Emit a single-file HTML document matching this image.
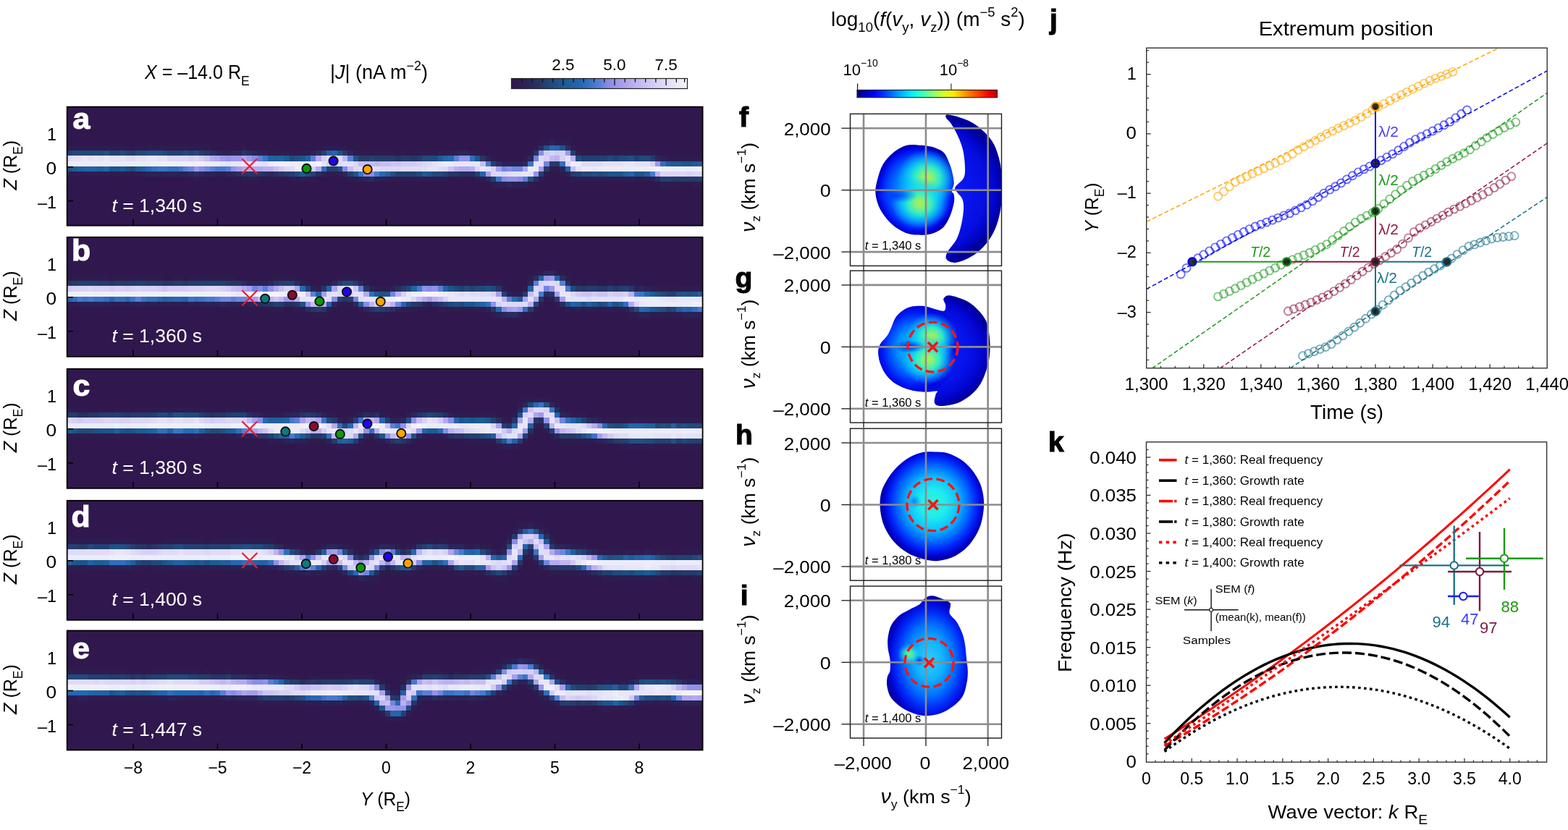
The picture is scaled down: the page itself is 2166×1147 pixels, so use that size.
<!DOCTYPE html><html><head><meta charset="utf-8"><style>html,body{margin:0;padding:0;background:#fff}svg{display:block}text{font-family:"Liberation Sans", Arial, sans-serif}</style></head><body><svg width="2166" height="1147" viewBox="0 0 2166 1147"><defs><filter id="soft" x="-1%" y="-10%" width="102%" height="120%"><feGaussianBlur stdDeviation="0.75"/></filter><linearGradient id="gJ" x1="0" x2="1" y1="0" y2="0"><stop offset="0" stop-color="#30184e"/><stop offset="0.05" stop-color="#2d1e53"/><stop offset="0.1" stop-color="#2a265a"/><stop offset="0.15" stop-color="#273465"/><stop offset="0.2" stop-color="#244173"/><stop offset="0.25" stop-color="#214f83"/><stop offset="0.3" stop-color="#1e5c94"/><stop offset="0.35" stop-color="#2262a4"/><stop offset="0.4" stop-color="#2668b4"/><stop offset="0.45" stop-color="#3b73c6"/><stop offset="0.5" stop-color="#5a7fd6"/><stop offset="0.55" stop-color="#878ce6"/><stop offset="0.6" stop-color="#9d97ea"/><stop offset="0.65" stop-color="#aea4ee"/><stop offset="0.7" stop-color="#bbb1f1"/><stop offset="0.75" stop-color="#c7bef3"/><stop offset="0.8" stop-color="#d2cbf5"/><stop offset="0.85" stop-color="#dbd7f7"/><stop offset="0.9" stop-color="#e4e2f8"/><stop offset="0.95" stop-color="#ecebf8"/><stop offset="1" stop-color="#f4f3f8"/></linearGradient><clipPath id="cp0"><rect x="92" y="147.7" width="879" height="164"/></clipPath><clipPath id="cp1"><rect x="92" y="327.8" width="879" height="165"/></clipPath><clipPath id="cp2"><rect x="92" y="509.8" width="879" height="165"/></clipPath><clipPath id="cp3"><rect x="92" y="691.8" width="879" height="165"/></clipPath><clipPath id="cp4"><rect x="92" y="871.5" width="879" height="165"/></clipPath><linearGradient id="gjet" x1="0" x2="1" y1="0" y2="0"><stop offset="0" stop-color="#00007f"/><stop offset="0.06" stop-color="#0000bb"/><stop offset="0.12" stop-color="#0000f7"/><stop offset="0.19" stop-color="#0034ff"/><stop offset="0.25" stop-color="#0070ff"/><stop offset="0.31" stop-color="#00acff"/><stop offset="0.38" stop-color="#00e8ff"/><stop offset="0.44" stop-color="#24ffda"/><stop offset="0.5" stop-color="#60ff9e"/><stop offset="0.56" stop-color="#9cff62"/><stop offset="0.62" stop-color="#d8ff26"/><stop offset="0.69" stop-color="#ffe900"/><stop offset="0.75" stop-color="#ffad00"/><stop offset="0.81" stop-color="#ff7100"/><stop offset="0.88" stop-color="#ff3500"/><stop offset="0.94" stop-color="#f80000"/><stop offset="1" stop-color="#bc0000"/></linearGradient><radialGradient id="rf" gradientUnits="userSpaceOnUse" cx="0" cy="0" r="1" gradientTransform="translate(1266 263) scale(57 63)"><stop offset="0" stop-color="#00a8ff"/><stop offset="0.45" stop-color="#0088ff"/><stop offset="0.7" stop-color="#0048ff"/><stop offset="0.86" stop-color="#0014f4"/><stop offset="0.95" stop-color="#0000d0"/><stop offset="1" stop-color="#0000b0"/></radialGradient><radialGradient id="rf_h1" gradientUnits="userSpaceOnUse" cx="0" cy="0" r="1" gradientTransform="translate(1281 246) scale(42 40)"><stop offset="0" stop-color="#b0f048"/><stop offset="0.2" stop-color="#80f080"/><stop offset="0.42" stop-color="#30f0c8" stop-opacity="0.95"/><stop offset="0.68" stop-color="#10d8f8" stop-opacity="0.6"/><stop offset="1" stop-color="#10b8ff" stop-opacity="0"/></radialGradient><radialGradient id="rf_h2" gradientUnits="userSpaceOnUse" cx="0" cy="0" r="1" gradientTransform="translate(1271 281) scale(40 36)"><stop offset="0" stop-color="#b0f048"/><stop offset="0.2" stop-color="#80f080"/><stop offset="0.42" stop-color="#30f0c8" stop-opacity="0.95"/><stop offset="0.68" stop-color="#10d8f8" stop-opacity="0.6"/><stop offset="1" stop-color="#10b8ff" stop-opacity="0"/></radialGradient><radialGradient id="rf_w" gradientUnits="userSpaceOnUse" cx="0" cy="0" r="1" gradientTransform="translate(1238 270) scale(30 11)"><stop offset="0" stop-color="#0030ff" stop-opacity="0.85"/><stop offset="1" stop-color="#0040ff" stop-opacity="0"/></radialGradient><radialGradient id="rfc" gradientUnits="userSpaceOnUse" cx="0" cy="0" r="1" gradientTransform="translate(1268 262) scale(118 106)"><stop offset="0" stop-color="#1028f4"/><stop offset="0.6" stop-color="#0814ec"/><stop offset="0.8" stop-color="#060ee0"/><stop offset="0.92" stop-color="#0004c8"/><stop offset="1" stop-color="#00009a"/></radialGradient><radialGradient id="rgc" gradientUnits="userSpaceOnUse" cx="0" cy="0" r="1" gradientTransform="translate(1282 484) scale(88 80)"><stop offset="0" stop-color="#0c24f4"/><stop offset="0.6" stop-color="#0614ec"/><stop offset="0.8" stop-color="#0408d8"/><stop offset="0.93" stop-color="#0000bc"/><stop offset="1" stop-color="#00009a"/></radialGradient><radialGradient id="rg" gradientUnits="userSpaceOnUse" cx="0" cy="0" r="1" gradientTransform="translate(1264 482) scale(54 60)"><stop offset="0" stop-color="#00b8ff"/><stop offset="0.42" stop-color="#0098ff"/><stop offset="0.66" stop-color="#0050ff"/><stop offset="0.84" stop-color="#0018f4"/><stop offset="0.95" stop-color="#0008e0"/><stop offset="1" stop-color="#0004d8" stop-opacity="0.5"/></radialGradient><radialGradient id="rg_h1" gradientUnits="userSpaceOnUse" cx="0" cy="0" r="1" gradientTransform="translate(1287 466) scale(36 34)"><stop offset="0" stop-color="#b0f048"/><stop offset="0.2" stop-color="#80f080"/><stop offset="0.42" stop-color="#30f0c8" stop-opacity="0.95"/><stop offset="0.68" stop-color="#10d8f8" stop-opacity="0.6"/><stop offset="1" stop-color="#10b8ff" stop-opacity="0"/></radialGradient><radialGradient id="rg_h2" gradientUnits="userSpaceOnUse" cx="0" cy="0" r="1" gradientTransform="translate(1282 497) scale(38 34)"><stop offset="0" stop-color="#b0f048"/><stop offset="0.2" stop-color="#80f080"/><stop offset="0.42" stop-color="#30f0c8" stop-opacity="0.95"/><stop offset="0.68" stop-color="#10d8f8" stop-opacity="0.6"/><stop offset="1" stop-color="#10b8ff" stop-opacity="0"/></radialGradient><radialGradient id="rg_w" gradientUnits="userSpaceOnUse" cx="0" cy="0" r="1" gradientTransform="translate(1256 479) scale(22 9)"><stop offset="0" stop-color="#0008e0" stop-opacity="0.95"/><stop offset="1" stop-color="#0020ff" stop-opacity="0"/></radialGradient><radialGradient id="rh" gradientUnits="userSpaceOnUse" cx="0" cy="0" r="1" gradientTransform="translate(1289 696) scale(72 77)"><stop offset="0" stop-color="#30f4d8"/><stop offset="0.25" stop-color="#20ecec"/><stop offset="0.46" stop-color="#10c4ff"/><stop offset="0.66" stop-color="#0074ff"/><stop offset="0.83" stop-color="#0026f8"/><stop offset="0.93" stop-color="#0006d8"/><stop offset="1" stop-color="#0000a8"/></radialGradient><radialGradient id="rh2" gradientUnits="userSpaceOnUse" cx="0" cy="0" r="1" gradientTransform="translate(1263 693) scale(10 10)"><stop offset="0" stop-color="#1070f0" stop-opacity="0.85"/><stop offset="1" stop-color="#10a0ff" stop-opacity="0"/></radialGradient><radialGradient id="ri" gradientUnits="userSpaceOnUse" cx="0" cy="0" r="1" gradientTransform="translate(1284 912) scale(62 88)"><stop offset="0" stop-color="#28d0ff"/><stop offset="0.3" stop-color="#14b4ff"/><stop offset="0.55" stop-color="#0074ff"/><stop offset="0.75" stop-color="#002cf8"/><stop offset="0.9" stop-color="#0006d8"/><stop offset="1" stop-color="#0000a0"/></radialGradient><radialGradient id="ri2" gradientUnits="userSpaceOnUse" cx="0" cy="0" r="1" gradientTransform="translate(1256 904) scale(16 15)"><stop offset="0" stop-color="#70f088"/><stop offset="0.35" stop-color="#40f0b0" stop-opacity="0.9"/><stop offset="1" stop-color="#20c0ff" stop-opacity="0"/></radialGradient><radialGradient id="ri3" gradientUnits="userSpaceOnUse" cx="0" cy="0" r="1" gradientTransform="translate(1270 913) scale(8 8)"><stop offset="0" stop-color="#0028d8" stop-opacity="0.85"/><stop offset="1" stop-color="#0060ff" stop-opacity="0"/></radialGradient><clipPath id="clipm0"><rect x="1174.5" y="157.4" width="209" height="210"/></clipPath><clipPath id="cf"><path d="M1252.5 200.8C1258.9 199.03 1266.92 200.63 1271.7 200.8C1276.48 200.97 1277.68 201.15 1281.2 201.8C1284.72 202.45 1288.95 203.1 1292.8 204.7C1296.65 206.3 1301.12 207.73 1304.3 211.4C1307.48 215.07 1309.98 221.9 1311.9 226.7C1313.82 231.5 1314.83 235.72 1315.8 240.2C1316.77 244.68 1317.87 249.62 1317.7 253.6C1317.53 257.58 1314.8 261.55 1314.8 264.1C1314.8 266.65 1317.22 266.18 1317.7 268.9C1318.18 271.62 1318.67 275.28 1317.7 280.4C1316.73 285.52 1314.47 293.83 1311.9 299.6C1309.33 305.37 1306.77 311 1302.3 315C1297.83 319 1290.85 322 1285.1 323.6C1279.35 325.2 1273.55 324.92 1267.8 324.6C1262.05 324.28 1256.35 323.95 1250.6 321.7C1244.85 319.45 1238.42 315.42 1233.3 311.1C1228.18 306.78 1223.42 300.92 1219.9 295.8C1216.38 290.68 1213.97 285.83 1212.2 280.4C1210.43 274.97 1209.13 269.27 1209.3 263.2C1209.47 257.13 1211.43 250.08 1213.2 244C1214.97 237.92 1216.55 232.13 1219.9 226.7C1223.25 221.27 1227.87 215.72 1233.3 211.4C1238.73 207.08 1246.1 202.57 1252.5 200.8Z"/></clipPath><clipPath id="clipm1"><rect x="1174.5" y="374.1" width="209" height="210"/></clipPath><clipPath id="cg"><path d="M1260.1 423.6C1265.22 422.57 1271.95 422.55 1277.4 423.2C1282.85 423.85 1288.32 426.47 1292.8 427.5C1297.28 428.53 1302.07 430.37 1304.3 429.4C1306.53 428.43 1306.37 424.42 1306.2 421.7C1306.03 418.98 1302.67 415.33 1303.3 413.1C1303.93 410.87 1306.65 408.62 1310 408.3C1313.35 407.98 1318.6 409.6 1323.4 411.2C1328.2 412.8 1334 414.87 1338.8 417.9C1343.6 420.93 1348.37 425.25 1352.2 429.4C1356.03 433.55 1359.57 438.33 1361.8 442.8C1364.03 447.27 1364.63 450.77 1365.6 456.2C1366.57 461.63 1367.43 469 1367.6 475.4C1367.77 481.8 1367.57 488.2 1366.6 494.6C1365.63 501 1363.88 507.73 1361.8 513.8C1359.72 519.87 1357.3 525.88 1354.1 531C1350.9 536.12 1347.07 540.5 1342.6 544.5C1338.13 548.5 1332.42 552.45 1327.3 555C1322.18 557.55 1317.02 558.83 1311.9 559.8C1306.78 560.77 1300.12 561.43 1296.6 560.8C1293.08 560.17 1291.43 558.72 1290.8 556C1290.17 553.28 1292.15 547.07 1292.8 544.5C1293.45 541.93 1296.63 541.08 1294.7 540.6C1292.77 540.12 1286 541.6 1281.2 541.6C1276.4 541.6 1271 541.4 1265.9 540.6C1260.8 539.8 1255.72 538.72 1250.6 536.8C1245.48 534.88 1239.68 532.3 1235.2 529.1C1230.72 525.9 1226.9 522.07 1223.7 517.6C1220.5 513.13 1217.75 507.42 1216 502.3C1214.25 497.18 1213.2 491.38 1213.2 486.9C1213.2 482.42 1213.93 479.23 1216 475.4C1218.07 471.57 1223.03 467.73 1225.6 463.9C1228.17 460.07 1229.48 456.55 1231.4 452.4C1233.32 448.25 1234.55 442.83 1237.1 439C1239.65 435.17 1242.87 431.97 1246.7 429.4C1250.53 426.83 1254.98 424.63 1260.1 423.6Z"/></clipPath><clipPath id="clipm2"><rect x="1174.5" y="592.2" width="209" height="210"/></clipPath><clipPath id="clipm3"><rect x="1174.5" y="810" width="209" height="210"/></clipPath><clipPath id="clipj"><rect x="1583.7" y="66.3" width="553.5" height="442.4"/></clipPath></defs><rect width="2166" height="1147" fill="#fff"/><text transform="translate(200 109.4) scale(0.928 1)" font-size="27"><tspan font-style="italic">X</tspan> = –14.0 R<tspan font-size="0.7em" dy="0.45em">E</tspan></text>
<text x="456" y="109.4" font-size="27">|<tspan font-style="italic">J</tspan>| (nA m<tspan font-size="0.66em" dy="-0.7em">−2</tspan><tspan dy="0.462em">)</tspan></text>
<rect x="706.5" y="108.5" width="243" height="14" fill="url(#gJ)" stroke="#222" stroke-width="1.2"/>
<line x1="721.02" y1="108.5" x2="721.02" y2="113.7" stroke="#111" stroke-width="1.3"/>
<line x1="735.24" y1="108.5" x2="735.24" y2="113.7" stroke="#111" stroke-width="1.3"/>
<line x1="749.46" y1="108.5" x2="749.46" y2="113.7" stroke="#111" stroke-width="1.3"/>
<line x1="763.68" y1="108.5" x2="763.68" y2="113.7" stroke="#111" stroke-width="1.3"/>
<line x1="777.9" y1="108.5" x2="777.9" y2="118" stroke="#111" stroke-width="1.3"/>
<line x1="792.12" y1="108.5" x2="792.12" y2="113.7" stroke="#111" stroke-width="1.3"/>
<line x1="806.34" y1="108.5" x2="806.34" y2="113.7" stroke="#111" stroke-width="1.3"/>
<line x1="820.56" y1="108.5" x2="820.56" y2="113.7" stroke="#111" stroke-width="1.3"/>
<line x1="834.78" y1="108.5" x2="834.78" y2="113.7" stroke="#111" stroke-width="1.3"/>
<line x1="849" y1="108.5" x2="849" y2="118" stroke="#111" stroke-width="1.3"/>
<line x1="863.22" y1="108.5" x2="863.22" y2="113.7" stroke="#111" stroke-width="1.3"/>
<line x1="877.44" y1="108.5" x2="877.44" y2="113.7" stroke="#111" stroke-width="1.3"/>
<line x1="891.66" y1="108.5" x2="891.66" y2="113.7" stroke="#111" stroke-width="1.3"/>
<line x1="905.88" y1="108.5" x2="905.88" y2="113.7" stroke="#111" stroke-width="1.3"/>
<line x1="920.1" y1="108.5" x2="920.1" y2="118" stroke="#111" stroke-width="1.3"/>
<line x1="934.32" y1="108.5" x2="934.32" y2="113.7" stroke="#111" stroke-width="1.3"/>
<line x1="945.6" y1="108.5" x2="945.6" y2="113.7" stroke="#111" stroke-width="1.3"/>
<text x="777.9" y="96.6" font-size="22.5" text-anchor="middle">2.5</text>
<text x="849" y="96.6" font-size="22.5" text-anchor="middle">5.0</text>
<text x="920.1" y="96.6" font-size="22.5" text-anchor="middle">7.5</text>
<rect x="92" y="147.7" width="879" height="164" fill="#30184e"/>
<g clip-path="url(#cp0)"><g filter="url(#soft)">
<path fill="#2e1b50" shape-rendering="crispEdges" d="M743.93 193.7h7.38v7.2H743.93zM780.55 193.7h7.38v7.2H780.55zM92 200.9h51.33v7.2H92zM150.6 200.9h29.35v7.2H150.6zM187.23 200.9h14.7v7.2H187.23zM231.18 200.9h36.67v7.2H231.18zM275.12 200.9h14.7v7.2H275.12zM333.73 200.9h7.38v7.2H333.73zM443.6 200.9h7.38v7.2H443.6zM465.57 200.9h14.7v7.2H465.57zM736.6 200.9h7.38v7.2H736.6zM370.35 208.1h14.7v7.2H370.35zM392.32 208.1h22.03v7.2H392.32zM494.88 208.1h51.33v7.2H494.88zM553.48 208.1h7.38v7.2H553.48zM575.45 208.1h29.35v7.2H575.45zM656.02 208.1h7.38v7.2H656.02zM729.27 208.1h7.38v7.2H729.27zM795.2 208.1h73.3v7.2H795.2zM875.77 208.1h29.35v7.2H875.77zM678 215.3h7.38v7.2H678zM721.95 215.3h7.38v7.2H721.95zM927.05 215.3h36.67v7.2H927.05zM765.9 229.7h7.38v7.2H765.9zM92 236.9h7.38v7.2H92zM150.6 236.9h14.7v7.2H150.6zM172.57 236.9h14.7v7.2H172.57zM450.93 236.9h14.7v7.2H450.93zM773.23 236.9h7.38v7.2H773.23zM267.8 244.1h7.38v7.2H267.8zM333.73 244.1h22.03v7.2H333.73zM399.65 244.1h14.7v7.2H399.65zM421.62 244.1h14.7v7.2H421.62zM480.23 244.1h7.38v7.2H480.23zM538.83 244.1h44v7.2H538.83zM597.42 244.1h22.03v7.2H597.42zM656.02 244.1h7.38v7.2H656.02zM787.88 244.1h73.3v7.2H787.88zM875.77 244.1h14.7v7.2H875.77zM678 251.3h7.38v7.2H678zM729.27 251.3h7.38v7.2H729.27zM912.4 251.3h29.35v7.2H912.4zM956.35 251.3h14.7v7.2H956.35z"/>
<path fill="#244173" shape-rendering="crispEdges" d="M92 208.1h7.38v7.2H92zM150.6 208.1h14.7v7.2H150.6zM172.57 208.1h7.38v7.2H172.57zM231.18 208.1h22.03v7.2H231.18zM260.48 208.1h7.38v7.2H260.48zM443.6 208.1h7.38v7.2H443.6zM787.88 208.1h7.38v7.2H787.88zM509.53 215.3h7.38v7.2H509.53zM802.52 215.3h36.67v7.2H802.52zM846.48 215.3h7.38v7.2H846.48zM875.77 215.3h7.38v7.2H875.77zM678 222.5h7.38v7.2H678zM450.93 229.7h14.7v7.2H450.93zM399.65 236.9h7.38v7.2H399.65zM428.95 236.9h7.38v7.2H428.95zM480.23 236.9h7.38v7.2H480.23zM546.15 236.9h29.35v7.2H546.15zM612.08 236.9h7.38v7.2H612.08zM656.02 236.9h7.38v7.2H656.02zM795.2 236.9h7.38v7.2H795.2zM678 244.1h7.38v7.2H678zM912.4 244.1h14.7v7.2H912.4zM963.68 244.1h7.38v7.2H963.68z"/>
<path fill="#e0dcf7" shape-rendering="crispEdges" d="M92 215.3h7.38v7.2H92zM172.57 215.3h14.7v7.2H172.57zM450.93 215.3h7.38v7.2H450.93zM465.57 215.3h7.38v7.2H465.57zM743.93 215.3h7.38v7.2H743.93zM465.57 222.5h7.38v7.2H465.57zM590.1 222.5h7.38v7.2H590.1zM802.52 222.5h29.35v7.2H802.52zM399.65 229.7h7.38v7.2H399.65zM494.88 229.7h7.38v7.2H494.88zM516.85 229.7h7.38v7.2H516.85zM553.48 229.7h36.67v7.2H553.48zM604.75 229.7h7.38v7.2H604.75zM699.98 236.9h7.38v7.2H699.98z"/>
<path fill="#ecebf8" shape-rendering="crispEdges" d="M92 222.5h117.25v7.2H92zM282.45 222.5h22.03v7.2H282.45zM370.35 222.5h7.38v7.2H370.35zM399.65 222.5h29.35v7.2H399.65zM612.08 222.5h14.7v7.2H612.08zM795.2 222.5h7.38v7.2H795.2zM406.98 229.7h14.7v7.2H406.98zM729.27 229.7h14.7v7.2H729.27zM802.52 229.7h14.7v7.2H802.52zM824.5 229.7h73.3v7.2H824.5zM927.05 229.7h36.67v7.2H927.05z"/>
<path fill="#1f558c" shape-rendering="crispEdges" d="M773.23 200.9h7.38v7.2H773.23zM414.3 215.3h7.38v7.2H414.3zM656.02 215.3h7.38v7.2H656.02zM941.7 222.5h14.7v7.2H941.7zM92 229.7h7.38v7.2H92zM150.6 229.7h14.7v7.2H150.6zM487.55 236.9h7.38v7.2H487.55zM590.1 236.9h7.38v7.2H590.1zM839.15 236.9h22.03v7.2H839.15zM875.77 236.9h14.7v7.2H875.77z"/>
<path fill="#22487b" shape-rendering="crispEdges" d="M99.33 208.1h44v7.2H99.33zM165.25 208.1h7.38v7.2H165.25zM187.23 208.1h14.7v7.2H187.23zM223.85 208.1h7.38v7.2H223.85zM253.15 208.1h7.38v7.2H253.15zM267.8 208.1h7.38v7.2H267.8zM399.65 215.3h7.38v7.2H399.65zM582.78 215.3h22.03v7.2H582.78zM795.2 215.3h7.38v7.2H795.2zM839.15 215.3h7.38v7.2H839.15zM853.8 215.3h14.7v7.2H853.8zM883.1 215.3h14.7v7.2H883.1zM179.9 229.7h7.38v7.2H179.9zM406.98 236.9h7.38v7.2H406.98zM421.62 236.9h7.38v7.2H421.62zM575.45 236.9h7.38v7.2H575.45zM597.42 236.9h14.7v7.2H597.42zM802.52 236.9h14.7v7.2H802.52zM824.5 236.9h7.38v7.2H824.5z"/>
<path fill="#e4e2f8" shape-rendering="crispEdges" d="M99.33 215.3h14.7v7.2H99.33zM121.3 215.3h7.38v7.2H121.3zM135.95 215.3h7.38v7.2H135.95zM150.6 215.3h22.03v7.2H150.6zM187.23 215.3h14.7v7.2H187.23zM216.53 215.3h14.7v7.2H216.53zM458.25 215.3h7.38v7.2H458.25zM780.55 215.3h7.38v7.2H780.55zM311.75 222.5h7.38v7.2H311.75zM341.05 222.5h29.35v7.2H341.05zM472.9 222.5h14.7v7.2H472.9zM597.42 222.5h7.38v7.2H597.42zM743.93 222.5h7.38v7.2H743.93zM831.83 222.5h29.35v7.2H831.83zM875.77 222.5h22.03v7.2H875.77zM421.62 229.7h7.38v7.2H421.62zM502.2 229.7h14.7v7.2H502.2zM590.1 229.7h14.7v7.2H590.1zM670.68 229.7h7.38v7.2H670.68zM795.2 229.7h7.38v7.2H795.2zM707.3 236.9h14.7v7.2H707.3zM729.27 236.9h7.38v7.2H729.27z"/>
<path fill="#1e5c94" shape-rendering="crispEdges" d="M392.32 215.3h7.38v7.2H392.32zM604.75 215.3h7.38v7.2H604.75zM927.05 222.5h14.7v7.2H927.05zM956.35 222.5h7.38v7.2H956.35zM99.33 229.7h7.38v7.2H99.33zM165.25 229.7h7.38v7.2H165.25zM187.23 229.7h7.38v7.2H187.23zM414.3 236.9h7.38v7.2H414.3zM582.78 236.9h7.38v7.2H582.78z"/>
<path fill="#2d1e53" shape-rendering="crispEdges" d="M751.25 193.7h7.38v7.2H751.25zM765.9 193.7h14.7v7.2H765.9zM143.28 200.9h7.38v7.2H143.28zM201.88 200.9h29.35v7.2H201.88zM267.8 200.9h7.38v7.2H267.8zM450.93 200.9h14.7v7.2H450.93zM787.88 200.9h7.38v7.2H787.88zM385 208.1h7.38v7.2H385zM414.3 208.1h14.7v7.2H414.3zM487.55 208.1h7.38v7.2H487.55zM604.75 208.1h22.03v7.2H604.75zM648.7 208.1h7.38v7.2H648.7zM868.45 208.1h7.38v7.2H868.45zM919.73 215.3h7.38v7.2H919.73zM963.68 215.3h7.38v7.2H963.68zM758.58 229.7h7.38v7.2H758.58zM99.33 236.9h51.33v7.2H99.33zM165.25 236.9h7.38v7.2H165.25zM187.23 236.9h14.7v7.2H187.23zM297.1 236.9h14.7v7.2H297.1zM465.57 236.9h7.38v7.2H465.57zM751.25 236.9h7.38v7.2H751.25zM414.3 244.1h7.38v7.2H414.3zM487.55 244.1h7.38v7.2H487.55zM531.5 244.1h7.38v7.2H531.5zM582.78 244.1h14.7v7.2H582.78zM663.35 244.1h7.38v7.2H663.35zM743.93 244.1h7.38v7.2H743.93zM861.12 244.1h14.7v7.2H861.12zM890.43 244.1h7.38v7.2H890.43z"/>
<path fill="#205f9c" shape-rendering="crispEdges" d="M450.93 208.1h7.38v7.2H450.93zM377.68 215.3h7.38v7.2H377.68zM919.73 222.5h7.38v7.2H919.73zM963.68 222.5h7.38v7.2H963.68zM106.65 229.7h7.38v7.2H106.65zM135.95 229.7h7.38v7.2H135.95zM194.55 229.7h7.38v7.2H194.55zM531.5 236.9h7.38v7.2H531.5zM861.12 236.9h7.38v7.2H861.12zM890.43 236.9h7.38v7.2H890.43z"/>
<path fill="#e8e6f8" shape-rendering="crispEdges" d="M113.97 215.3h7.38v7.2H113.97zM128.62 215.3h7.38v7.2H128.62zM143.28 215.3h7.38v7.2H143.28zM201.88 215.3h14.7v7.2H201.88zM304.43 222.5h7.38v7.2H304.43zM319.08 222.5h22.03v7.2H319.08zM443.6 222.5h7.38v7.2H443.6zM604.75 222.5h7.38v7.2H604.75zM626.73 222.5h36.67v7.2H626.73zM736.6 222.5h7.38v7.2H736.6zM861.12 222.5h14.7v7.2H861.12zM663.35 229.7h7.38v7.2H663.35zM817.18 229.7h7.38v7.2H817.18zM721.95 236.9h7.38v7.2H721.95z"/>
<path fill="#2262a4" shape-rendering="crispEdges" d="M370.35 215.3h7.38v7.2H370.35zM385 215.3h7.38v7.2H385zM421.62 215.3h7.38v7.2H421.62zM113.97 229.7h22.03v7.2H113.97zM780.55 229.7h7.38v7.2H780.55z"/>
<path fill="#214f83" shape-rendering="crispEdges" d="M751.25 200.9h7.38v7.2H751.25zM143.28 208.1h7.38v7.2H143.28zM201.88 208.1h22.03v7.2H201.88zM465.57 208.1h7.38v7.2H465.57zM406.98 215.3h7.38v7.2H406.98zM487.55 215.3h7.38v7.2H487.55zM868.45 215.3h7.38v7.2H868.45zM172.57 229.7h7.38v7.2H172.57zM465.57 229.7h7.38v7.2H465.57zM538.83 236.9h7.38v7.2H538.83zM817.18 236.9h7.38v7.2H817.18zM831.83 236.9h7.38v7.2H831.83zM729.27 244.1h7.38v7.2H729.27z"/>
<path fill="#2465ac" shape-rendering="crispEdges" d="M765.9 200.9h7.38v7.2H765.9zM458.25 208.1h7.38v7.2H458.25zM612.08 215.3h7.38v7.2H612.08zM143.28 229.7h7.38v7.2H143.28zM663.35 236.9h7.38v7.2H663.35zM868.45 236.9h7.38v7.2H868.45z"/>
<path fill="#253b6b" shape-rendering="crispEdges" d="M179.9 208.1h7.38v7.2H179.9zM275.12 208.1h7.38v7.2H275.12zM472.9 208.1h7.38v7.2H472.9zM494.88 215.3h14.7v7.2H494.88zM516.85 215.3h29.35v7.2H516.85zM553.48 215.3h14.7v7.2H553.48zM575.45 215.3h7.38v7.2H575.45zM897.75 215.3h7.38v7.2H897.75zM758.58 222.5h14.7v7.2H758.58zM751.25 229.7h7.38v7.2H751.25zM392.32 236.9h7.38v7.2H392.32zM743.93 236.9h7.38v7.2H743.93zM787.88 236.9h7.38v7.2H787.88zM927.05 244.1h36.67v7.2H927.05z"/>
<path fill="#2668b4" shape-rendering="crispEdges" d="M758.58 200.9h7.38v7.2H758.58zM619.4 215.3h7.38v7.2H619.4zM201.88 229.7h7.38v7.2H201.88zM524.17 236.9h7.38v7.2H524.17z"/>
<path fill="#2b2056" shape-rendering="crispEdges" d="M758.58 193.7h7.38v7.2H758.58zM304.43 208.1h14.7v7.2H304.43zM355.7 208.1h14.7v7.2H355.7zM428.95 208.1h7.38v7.2H428.95zM626.73 208.1h7.38v7.2H626.73zM670.68 215.3h7.38v7.2H670.68zM912.4 215.3h7.38v7.2H912.4zM692.65 222.5h29.35v7.2H692.65zM201.88 236.9h58.65v7.2H201.88zM282.45 236.9h14.7v7.2H282.45zM311.75 236.9h7.38v7.2H311.75zM443.6 236.9h7.38v7.2H443.6zM780.55 236.9h7.38v7.2H780.55zM494.88 244.1h7.38v7.2H494.88zM516.85 244.1h14.7v7.2H516.85zM897.75 244.1h7.38v7.2H897.75zM685.33 251.3h14.7v7.2H685.33zM707.3 251.3h22.03v7.2H707.3z"/>
<path fill="#f0eff8" shape-rendering="crispEdges" d="M209.2 222.5h73.3v7.2H209.2zM377.68 222.5h22.03v7.2H377.68zM428.95 222.5h7.38v7.2H428.95zM787.88 222.5h7.38v7.2H787.88zM897.75 229.7h7.38v7.2H897.75zM912.4 229.7h14.7v7.2H912.4zM963.68 229.7h7.38v7.2H963.68z"/>
<path fill="#316ebd" shape-rendering="crispEdges" d="M648.7 215.3h7.38v7.2H648.7zM773.23 222.5h7.38v7.2H773.23zM912.4 222.5h7.38v7.2H912.4zM209.2 229.7h7.38v7.2H209.2zM231.18 229.7h14.7v7.2H231.18zM443.6 229.7h7.38v7.2H443.6z"/>
<path fill="#3b73c6" shape-rendering="crispEdges" d="M363.03 215.3h7.38v7.2H363.03zM729.27 222.5h7.38v7.2H729.27zM216.53 229.7h14.7v7.2H216.53zM245.83 229.7h7.38v7.2H245.83zM494.88 236.9h7.38v7.2H494.88zM685.33 244.1h7.38v7.2H685.33z"/>
<path fill="#dbd7f7" shape-rendering="crispEdges" d="M231.18 215.3h29.35v7.2H231.18zM267.8 215.3h7.38v7.2H267.8zM487.55 222.5h7.38v7.2H487.55zM582.78 222.5h7.38v7.2H582.78zM780.55 222.5h7.38v7.2H780.55zM392.32 229.7h7.38v7.2H392.32zM487.55 229.7h7.38v7.2H487.55zM524.17 229.7h29.35v7.2H524.17zM612.08 229.7h7.38v7.2H612.08zM656.02 229.7h7.38v7.2H656.02zM678 236.9h22.03v7.2H678zM912.4 236.9h36.67v7.2H912.4zM956.35 236.9h14.7v7.2H956.35z"/>
<path fill="#5a7fd6" shape-rendering="crispEdges" d="M355.7 215.3h7.38v7.2H355.7zM428.95 215.3h7.38v7.2H428.95zM480.23 215.3h7.38v7.2H480.23zM626.73 215.3h7.38v7.2H626.73zM253.15 229.7h7.38v7.2H253.15zM289.77 229.7h7.38v7.2H289.77zM311.75 229.7h7.38v7.2H311.75zM721.95 244.1h7.38v7.2H721.95z"/>
<path fill="#d7d1f6" shape-rendering="crispEdges" d="M758.58 208.1h7.38v7.2H758.58zM773.23 208.1h7.38v7.2H773.23zM260.48 215.3h7.38v7.2H260.48zM443.6 215.3h7.38v7.2H443.6zM751.25 215.3h7.38v7.2H751.25zM773.23 215.3h7.38v7.2H773.23zM450.93 222.5h7.38v7.2H450.93zM575.45 222.5h7.38v7.2H575.45zM897.75 222.5h7.38v7.2H897.75zM428.95 229.7h7.38v7.2H428.95zM678 229.7h7.38v7.2H678zM949.02 236.9h7.38v7.2H949.02z"/>
<path fill="#7086de" shape-rendering="crispEdges" d="M736.6 215.3h7.38v7.2H736.6zM751.25 222.5h7.38v7.2H751.25zM260.48 229.7h7.38v7.2H260.48zM282.45 229.7h7.38v7.2H282.45zM692.65 229.7h7.38v7.2H692.65zM707.3 229.7h14.7v7.2H707.3z"/>
<path fill="#2a265a" shape-rendering="crispEdges" d="M297.1 208.1h7.38v7.2H297.1zM319.08 208.1h14.7v7.2H319.08zM348.38 208.1h7.38v7.2H348.38zM480.23 208.1h7.38v7.2H480.23zM634.05 208.1h14.7v7.2H634.05zM729.27 215.3h7.38v7.2H729.27zM905.08 215.3h7.38v7.2H905.08zM773.23 229.7h7.38v7.2H773.23zM260.48 236.9h7.38v7.2H260.48zM275.12 236.9h7.38v7.2H275.12zM319.08 236.9h7.38v7.2H319.08zM370.35 236.9h7.38v7.2H370.35zM472.9 236.9h7.38v7.2H472.9zM502.2 244.1h7.38v7.2H502.2zM670.68 244.1h7.38v7.2H670.68zM699.98 251.3h7.38v7.2H699.98z"/>
<path fill="#9d97ea" shape-rendering="crispEdges" d="M780.55 208.1h7.38v7.2H780.55zM304.43 215.3h7.38v7.2H304.43zM319.08 215.3h14.7v7.2H319.08zM341.05 215.3h7.38v7.2H341.05zM905.08 222.5h7.38v7.2H905.08zM267.8 229.7h7.38v7.2H267.8z"/>
<path fill="#282d60" shape-rendering="crispEdges" d="M743.93 200.9h7.38v7.2H743.93zM780.55 200.9h7.38v7.2H780.55zM289.77 208.1h7.38v7.2H289.77zM341.05 208.1h7.38v7.2H341.05zM436.28 208.1h7.38v7.2H436.28zM685.33 222.5h7.38v7.2H685.33zM721.95 222.5h7.38v7.2H721.95zM267.8 236.9h7.38v7.2H267.8zM326.4 236.9h7.38v7.2H326.4zM363.03 236.9h7.38v7.2H363.03zM377.68 236.9h7.38v7.2H377.68zM436.28 236.9h7.38v7.2H436.28zM634.05 236.9h22.03v7.2H634.05zM509.53 244.1h7.38v7.2H509.53zM736.6 244.1h7.38v7.2H736.6zM905.08 244.1h7.38v7.2H905.08z"/>
<path fill="#d2cbf5" shape-rendering="crispEdges" d="M751.25 208.1h7.38v7.2H751.25zM765.9 208.1h7.38v7.2H765.9zM275.12 215.3h7.38v7.2H275.12zM458.25 222.5h7.38v7.2H458.25zM553.48 222.5h22.03v7.2H553.48zM385 229.7h7.38v7.2H385z"/>
<path fill="#878ce6" shape-rendering="crispEdges" d="M743.93 208.1h7.38v7.2H743.93zM348.38 215.3h7.38v7.2H348.38zM275.12 229.7h7.38v7.2H275.12zM472.9 229.7h7.38v7.2H472.9zM699.98 229.7h7.38v7.2H699.98zM502.2 236.9h14.7v7.2H502.2zM692.65 244.1h7.38v7.2H692.65zM714.62 244.1h7.38v7.2H714.62z"/>
<path fill="#273465" shape-rendering="crispEdges" d="M282.45 208.1h7.38v7.2H282.45zM333.73 208.1h7.38v7.2H333.73zM736.6 208.1h7.38v7.2H736.6zM546.15 215.3h7.38v7.2H546.15zM568.12 215.3h7.38v7.2H568.12zM663.35 215.3h7.38v7.2H663.35zM333.73 236.9h29.35v7.2H333.73zM385 236.9h7.38v7.2H385zM619.4 236.9h14.7v7.2H619.4z"/>
<path fill="#c7bef3" shape-rendering="crispEdges" d="M282.45 215.3h7.38v7.2H282.45zM494.88 222.5h22.03v7.2H494.88zM524.17 222.5h14.7v7.2H524.17zM663.35 222.5h7.38v7.2H663.35zM377.68 229.7h7.38v7.2H377.68zM480.23 229.7h7.38v7.2H480.23zM787.88 229.7h7.38v7.2H787.88z"/>
<path fill="#b4aaef" shape-rendering="crispEdges" d="M289.77 215.3h7.38v7.2H289.77zM436.28 215.3h7.38v7.2H436.28zM333.73 229.7h29.35v7.2H333.73zM436.28 229.7h7.38v7.2H436.28zM634.05 229.7h14.7v7.2H634.05zM721.95 229.7h7.38v7.2H721.95z"/>
<path fill="#aea4ee" shape-rendering="crispEdges" d="M297.1 215.3h7.38v7.2H297.1zM333.73 215.3h7.38v7.2H333.73z"/>
<path fill="#4679ce" shape-rendering="crispEdges" d="M670.68 222.5h7.38v7.2H670.68zM297.1 229.7h14.7v7.2H297.1zM516.85 236.9h7.38v7.2H516.85zM897.75 236.9h7.38v7.2H897.75z"/>
<path fill="#9292e8" shape-rendering="crispEdges" d="M311.75 215.3h7.38v7.2H311.75zM634.05 215.3h14.7v7.2H634.05zM319.08 229.7h7.38v7.2H319.08zM736.6 236.9h7.38v7.2H736.6zM699.98 244.1h14.7v7.2H699.98z"/>
<path fill="#a79dec" shape-rendering="crispEdges" d="M326.4 229.7h7.38v7.2H326.4zM685.33 229.7h7.38v7.2H685.33zM743.93 229.7h7.38v7.2H743.93zM670.68 236.9h7.38v7.2H670.68z"/>
<path fill="#bbb1f1" shape-rendering="crispEdges" d="M765.9 215.3h7.38v7.2H765.9zM787.88 215.3h7.38v7.2H787.88zM363.03 229.7h14.7v7.2H363.03zM626.73 229.7h7.38v7.2H626.73zM648.7 229.7h7.38v7.2H648.7zM905.08 236.9h7.38v7.2H905.08z"/>
<path fill="#f4f3f8" shape-rendering="crispEdges" d="M436.28 222.5h7.38v7.2H436.28zM905.08 229.7h7.38v7.2H905.08z"/>
<path fill="#c1b7f2" shape-rendering="crispEdges" d="M472.9 215.3h7.38v7.2H472.9zM758.58 215.3h7.38v7.2H758.58zM516.85 222.5h7.38v7.2H516.85z"/>
<path fill="#ccc4f4" shape-rendering="crispEdges" d="M538.83 222.5h14.7v7.2H538.83zM619.4 229.7h7.38v7.2H619.4z"/>
</g></g>
<path d="M334.2 219.2L355.2 240.2M355.2 219.2L334.2 240.2" stroke="#ee1c2c" stroke-width="2.2" fill="none"/>
<circle cx="423.5" cy="232.9" r="6.1" fill="#0a9a0a" stroke="#111" stroke-width="1.9"/>
<circle cx="460.6" cy="222.4" r="6.1" fill="#2200ee" stroke="#111" stroke-width="1.9"/>
<circle cx="507.6" cy="234.1" r="6.1" fill="#ffa500" stroke="#111" stroke-width="1.9"/>
<text x="78.2" y="193.7" font-size="23.5" text-anchor="end">1</text>
<line x1="92" y1="230.7" x2="101" y2="230.7" stroke="#000" stroke-width="1.6"/>
<text transform="translate(78.2 240.7) scale(1.120 1)" font-size="23.5" text-anchor="end">0</text>
<line x1="92" y1="277.7" x2="101" y2="277.7" stroke="#000" stroke-width="1.6"/>
<text x="78.2" y="287.7" font-size="23.5" text-anchor="end">–1</text>
<line x1="184" y1="311.7" x2="184" y2="302.7" stroke="#000" stroke-width="1.6"/>
<line x1="300.5" y1="311.7" x2="300.5" y2="302.7" stroke="#000" stroke-width="1.6"/>
<line x1="417" y1="311.7" x2="417" y2="302.7" stroke="#000" stroke-width="1.6"/>
<line x1="533.5" y1="311.7" x2="533.5" y2="302.7" stroke="#000" stroke-width="1.6"/>
<line x1="650" y1="311.7" x2="650" y2="302.7" stroke="#000" stroke-width="1.6"/>
<line x1="766.5" y1="311.7" x2="766.5" y2="302.7" stroke="#000" stroke-width="1.6"/>
<line x1="883" y1="311.7" x2="883" y2="302.7" stroke="#000" stroke-width="1.6"/>
<rect x="92.7" y="147.7" width="877.9" height="164" fill="none" stroke="#000" stroke-width="1.8"/>
<text transform="translate(100.6 178) scale(1.070 1)" font-size="40" stroke="#fff" stroke-width="1.1" fill="#fff" font-weight="bold">a</text>
<text x="154.5" y="292.7" font-size="26.5" fill="#fff"><tspan font-style="italic">t</tspan> = 1,340 s</text>
<text transform="translate(22.8 228.2) rotate(-90) scale(0.965 1)" font-size="26" text-anchor="middle"><tspan font-style="italic">Z</tspan> (R<tspan font-size="0.7em" dy="0.45em">E</tspan><tspan dy="-0.315em">)</tspan></text>
<rect x="92" y="327.8" width="879" height="165" fill="#30184e"/>
<g clip-path="url(#cp1)"><g filter="url(#soft)">
<path fill="#273465" shape-rendering="crispEdges" d="M92 388.2h7.38v7.2H92zM150.6 388.2h7.38v7.2H150.6zM223.85 388.2h14.7v7.2H223.85zM253.15 388.2h7.38v7.2H253.15zM319.08 388.2h14.7v7.2H319.08zM377.68 388.2h7.38v7.2H377.68zM443.6 395.4h7.38v7.2H443.6zM502.2 395.4h7.38v7.2H502.2zM685.33 395.4h7.38v7.2H685.33zM802.52 395.4h7.38v7.2H802.52zM824.5 395.4h14.7v7.2H824.5zM846.48 395.4h7.38v7.2H846.48zM868.45 395.4h7.38v7.2H868.45zM758.58 402.6h7.38v7.2H758.58zM472.9 409.8h7.38v7.2H472.9zM743.93 409.8h7.38v7.2H743.93zM370.35 417h7.38v7.2H370.35zM406.98 417h7.38v7.2H406.98zM575.45 417h7.38v7.2H575.45zM604.75 417h7.38v7.2H604.75zM428.95 424.2h7.38v7.2H428.95zM443.6 424.2h7.38v7.2H443.6zM509.53 424.2h7.38v7.2H509.53zM531.5 424.2h7.38v7.2H531.5zM678 424.2h7.38v7.2H678zM868.45 424.2h7.38v7.2H868.45z"/>
<path fill="#d2cbf5" shape-rendering="crispEdges" d="M92 395.4h7.38v7.2H92zM150.6 395.4h7.38v7.2H150.6zM172.57 395.4h7.38v7.2H172.57zM216.53 395.4h7.38v7.2H216.53zM231.18 395.4h29.35v7.2H231.18zM311.75 395.4h7.38v7.2H311.75zM399.65 395.4h7.38v7.2H399.65zM472.9 402.6h7.38v7.2H472.9zM795.2 402.6h7.38v7.2H795.2zM817.18 402.6h7.38v7.2H817.18zM846.48 402.6h14.7v7.2H846.48zM531.5 417h7.38v7.2H531.5z"/>
<path fill="#f0eff8" shape-rendering="crispEdges" d="M92 402.6h227.12v7.2H92zM363.03 402.6h7.38v7.2H363.03zM385 402.6h36.67v7.2H385zM568.12 402.6h14.7v7.2H568.12zM604.75 402.6h7.38v7.2H604.75zM538.83 409.8h7.38v7.2H538.83zM956.35 417h14.7v7.2H956.35z"/>
<path fill="#2465ac" shape-rendering="crispEdges" d="M436.28 402.6h7.38v7.2H436.28zM890.43 402.6h7.38v7.2H890.43zM92 409.8h7.38v7.2H92zM150.6 409.8h7.38v7.2H150.6zM231.18 409.8h7.38v7.2H231.18zM253.15 409.8h7.38v7.2H253.15zM553.48 417h7.38v7.2H553.48zM685.33 424.2h7.38v7.2H685.33zM890.43 424.2h7.38v7.2H890.43zM949.02 424.2h7.38v7.2H949.02z"/>
<path fill="#2d1e53" shape-rendering="crispEdges" d="M743.93 373.8h7.38v7.2H743.93zM765.9 373.8h7.38v7.2H765.9zM414.3 388.2h7.38v7.2H414.3zM450.93 388.2h7.38v7.2H450.93zM568.12 388.2h7.38v7.2H568.12zM612.08 388.2h7.38v7.2H612.08zM670.68 388.2h14.7v7.2H670.68zM436.28 395.4h7.38v7.2H436.28zM516.85 395.4h7.38v7.2H516.85zM692.65 395.4h7.38v7.2H692.65zM721.95 395.4h7.38v7.2H721.95zM897.75 395.4h7.38v7.2H897.75zM941.7 395.4h29.35v7.2H941.7zM707.3 402.6h7.38v7.2H707.3zM758.58 409.8h7.38v7.2H758.58zM92 417h14.7v7.2H92zM150.6 417h29.35v7.2H150.6zM201.88 417h7.38v7.2H201.88zM216.53 417h44v7.2H216.53zM267.8 417h7.38v7.2H267.8zM743.93 417h7.38v7.2H743.93zM765.9 417h7.38v7.2H765.9zM414.3 424.2h7.38v7.2H414.3zM450.93 424.2h7.38v7.2H450.93zM494.88 424.2h7.38v7.2H494.88zM553.48 424.2h7.38v7.2H553.48zM656.02 424.2h14.7v7.2H656.02zM736.6 424.2h7.38v7.2H736.6zM787.88 424.2h14.7v7.2H787.88zM809.85 424.2h7.38v7.2H809.85zM839.15 424.2h7.38v7.2H839.15zM721.95 431.4h7.38v7.2H721.95zM897.75 431.4h14.7v7.2H897.75zM934.38 431.4h7.38v7.2H934.38z"/>
<path fill="#2e1b50" shape-rendering="crispEdges" d="M773.23 373.8h7.38v7.2H773.23zM99.33 381h51.33v7.2H99.33zM157.93 381h65.98v7.2H157.93zM238.5 381h14.7v7.2H238.5zM260.48 381h65.98v7.2H260.48zM377.68 381h29.35v7.2H377.68zM465.57 381h29.35v7.2H465.57zM729.27 381h7.38v7.2H729.27zM780.55 381h7.38v7.2H780.55zM421.62 388.2h7.38v7.2H421.62zM443.6 388.2h7.38v7.2H443.6zM502.2 388.2h7.38v7.2H502.2zM553.48 388.2h14.7v7.2H553.48zM619.4 388.2h51.33v7.2H619.4zM685.33 388.2h7.38v7.2H685.33zM787.88 388.2h14.7v7.2H787.88zM809.85 388.2h14.7v7.2H809.85zM839.15 388.2h7.38v7.2H839.15zM853.8 388.2h22.03v7.2H853.8zM524.17 395.4h14.7v7.2H524.17zM905.08 395.4h36.67v7.2H905.08zM714.62 402.6h7.38v7.2H714.62zM751.25 409.8h7.38v7.2H751.25zM465.57 417h7.38v7.2H465.57zM480.23 417h7.38v7.2H480.23zM370.35 424.2h22.03v7.2H370.35zM406.98 424.2h7.38v7.2H406.98zM560.8 424.2h14.7v7.2H560.8zM604.75 424.2h51.33v7.2H604.75zM780.55 424.2h7.38v7.2H780.55zM802.52 424.2h7.38v7.2H802.52zM817.18 424.2h22.03v7.2H817.18zM846.48 424.2h14.7v7.2H846.48zM428.95 431.4h22.03v7.2H428.95zM509.53 431.4h22.03v7.2H509.53zM678 431.4h7.38v7.2H678zM729.27 431.4h7.38v7.2H729.27zM868.45 431.4h14.7v7.2H868.45zM912.4 431.4h22.03v7.2H912.4z"/>
<path fill="#253b6b" shape-rendering="crispEdges" d="M99.33 388.2h7.38v7.2H99.33zM135.95 388.2h14.7v7.2H135.95zM157.93 388.2h29.35v7.2H157.93zM201.88 388.2h22.03v7.2H201.88zM238.5 388.2h14.7v7.2H238.5zM260.48 388.2h14.7v7.2H260.48zM311.75 388.2h7.38v7.2H311.75zM465.57 388.2h7.38v7.2H465.57zM487.55 388.2h7.38v7.2H487.55zM553.48 395.4h7.38v7.2H553.48zM795.2 395.4h7.38v7.2H795.2zM809.85 395.4h14.7v7.2H809.85zM853.8 395.4h7.38v7.2H853.8zM721.95 402.6h7.38v7.2H721.95zM480.23 409.8h7.38v7.2H480.23zM765.9 409.8h7.38v7.2H765.9zM385 417h7.38v7.2H385zM568.12 417h7.38v7.2H568.12zM436.28 424.2h7.38v7.2H436.28zM524.17 424.2h7.38v7.2H524.17zM729.27 424.2h7.38v7.2H729.27z"/>
<path fill="#d7d1f6" shape-rendering="crispEdges" d="M743.93 388.2h7.38v7.2H743.93zM99.33 395.4h22.03v7.2H99.33zM128.62 395.4h22.03v7.2H128.62zM157.93 395.4h14.7v7.2H157.93zM179.9 395.4h7.38v7.2H179.9zM194.55 395.4h22.03v7.2H194.55zM260.48 395.4h22.03v7.2H260.48zM304.43 395.4h7.38v7.2H304.43zM392.32 395.4h7.38v7.2H392.32zM743.93 395.4h7.38v7.2H743.93zM480.23 402.6h7.38v7.2H480.23zM553.48 402.6h7.38v7.2H553.48zM678 402.6h7.38v7.2H678zM839.15 402.6h7.38v7.2H839.15zM861.12 402.6h7.38v7.2H861.12zM612.08 409.8h7.38v7.2H612.08zM516.85 417h14.7v7.2H516.85zM685.33 417h7.38v7.2H685.33z"/>
<path fill="#316ebd" shape-rendering="crispEdges" d="M509.53 402.6h7.38v7.2H509.53zM99.33 409.8h7.38v7.2H99.33zM143.28 409.8h7.38v7.2H143.28zM157.93 409.8h14.7v7.2H157.93zM201.88 409.8h14.7v7.2H201.88zM267.8 409.8h7.38v7.2H267.8zM670.68 417h7.38v7.2H670.68zM861.12 417h7.38v7.2H861.12zM721.95 424.2h7.38v7.2H721.95zM956.35 424.2h7.38v7.2H956.35z"/>
<path fill="#244173" shape-rendering="crispEdges" d="M106.65 388.2h29.35v7.2H106.65zM187.23 388.2h14.7v7.2H187.23zM275.12 388.2h36.67v7.2H275.12zM385 388.2h22.03v7.2H385zM421.62 395.4h7.38v7.2H421.62zM634.05 395.4h7.38v7.2H634.05zM648.7 395.4h7.38v7.2H648.7zM839.15 395.4h7.38v7.2H839.15zM861.12 395.4h7.38v7.2H861.12zM692.65 402.6h7.38v7.2H692.65zM919.73 402.6h14.7v7.2H919.73zM465.57 409.8h7.38v7.2H465.57zM377.68 417h7.38v7.2H377.68zM612.08 417h7.38v7.2H612.08zM736.6 417h7.38v7.2H736.6zM516.85 424.2h7.38v7.2H516.85zM919.73 424.2h7.38v7.2H919.73z"/>
<path fill="#4679ce" shape-rendering="crispEdges" d="M575.45 395.4h7.38v7.2H575.45zM780.55 395.4h7.38v7.2H780.55zM743.93 402.6h7.38v7.2H743.93zM875.77 402.6h7.38v7.2H875.77zM106.65 409.8h7.38v7.2H106.65zM121.3 409.8h7.38v7.2H121.3zM282.45 409.8h14.7v7.2H282.45zM963.68 424.2h7.38v7.2H963.68z"/>
<path fill="#2b2056" shape-rendering="crispEdges" d="M341.05 388.2h29.35v7.2H341.05zM575.45 388.2h22.03v7.2H575.45zM604.75 388.2h7.38v7.2H604.75zM428.95 395.4h7.38v7.2H428.95zM509.53 395.4h7.38v7.2H509.53zM538.83 395.4h7.38v7.2H538.83zM875.77 395.4h7.38v7.2H875.77zM890.43 395.4h7.38v7.2H890.43zM699.98 402.6h7.38v7.2H699.98zM106.65 417h44v7.2H106.65zM179.9 417h22.03v7.2H179.9zM209.2 417h7.38v7.2H209.2zM260.48 417h7.38v7.2H260.48zM275.12 417h29.35v7.2H275.12zM311.75 417h44v7.2H311.75zM590.1 417h7.38v7.2H590.1zM546.15 424.2h7.38v7.2H546.15zM670.68 424.2h7.38v7.2H670.68zM861.12 424.2h7.38v7.2H861.12zM685.33 431.4h7.38v7.2H685.33zM714.62 431.4h7.38v7.2H714.62zM883.1 431.4h14.7v7.2H883.1zM941.7 431.4h29.35v7.2H941.7z"/>
<path fill="#3b73c6" shape-rendering="crispEdges" d="M883.1 402.6h7.38v7.2H883.1zM113.97 409.8h7.38v7.2H113.97zM128.62 409.8h14.7v7.2H128.62zM179.9 409.8h7.38v7.2H179.9zM194.55 409.8h7.38v7.2H194.55zM260.48 409.8h7.38v7.2H260.48zM275.12 409.8h7.38v7.2H275.12z"/>
<path fill="#dbd7f7" shape-rendering="crispEdges" d="M751.25 388.2h7.38v7.2H751.25zM765.9 388.2h7.38v7.2H765.9zM121.3 395.4h7.38v7.2H121.3zM187.23 395.4h7.38v7.2H187.23zM282.45 395.4h22.03v7.2H282.45zM465.57 395.4h7.38v7.2H465.57zM736.6 395.4h7.38v7.2H736.6zM787.88 402.6h7.38v7.2H787.88zM568.12 409.8h7.38v7.2H568.12zM699.98 417h22.03v7.2H699.98zM875.77 417h7.38v7.2H875.77z"/>
<path fill="#2668b4" shape-rendering="crispEdges" d="M414.3 395.4h7.38v7.2H414.3zM172.57 409.8h7.38v7.2H172.57zM216.53 409.8h7.38v7.2H216.53zM238.5 409.8h14.7v7.2H238.5zM707.3 409.8h7.38v7.2H707.3zM883.1 424.2h7.38v7.2H883.1zM941.7 424.2h7.38v7.2H941.7z"/>
<path fill="#5a7fd6" shape-rendering="crispEdges" d="M736.6 388.2h7.38v7.2H736.6zM773.23 388.2h7.38v7.2H773.23zM363.03 395.4h7.38v7.2H363.03zM494.88 395.4h7.38v7.2H494.88zM604.75 395.4h7.38v7.2H604.75zM428.95 402.6h7.38v7.2H428.95zM187.23 409.8h7.38v7.2H187.23zM297.1 409.8h7.38v7.2H297.1zM319.08 409.8h7.38v7.2H319.08zM699.98 409.8h7.38v7.2H699.98z"/>
<path fill="#ccc4f4" shape-rendering="crispEdges" d="M223.85 395.4h7.38v7.2H223.85zM487.55 395.4h7.38v7.2H487.55zM421.62 402.6h7.38v7.2H421.62zM802.52 402.6h14.7v7.2H802.52zM824.5 402.6h14.7v7.2H824.5zM377.68 409.8h7.38v7.2H377.68zM436.28 417h7.38v7.2H436.28z"/>
<path fill="#2262a4" shape-rendering="crispEdges" d="M765.9 381h7.38v7.2H765.9zM450.93 395.4h7.38v7.2H450.93zM568.12 395.4h7.38v7.2H568.12zM612.08 395.4h7.38v7.2H612.08zM729.27 395.4h7.38v7.2H729.27zM223.85 409.8h7.38v7.2H223.85zM450.93 417h7.38v7.2H450.93zM663.35 417h7.38v7.2H663.35zM787.88 417h7.38v7.2H787.88zM839.15 417h7.38v7.2H839.15z"/>
<path fill="#7086de" shape-rendering="crispEdges" d="M348.38 395.4h7.38v7.2H348.38zM751.25 395.4h7.38v7.2H751.25zM538.83 402.6h7.38v7.2H538.83zM304.43 409.8h14.7v7.2H304.43zM326.4 409.8h14.7v7.2H326.4zM487.55 409.8h7.38v7.2H487.55zM546.15 417h7.38v7.2H546.15z"/>
<path fill="#2a265a" shape-rendering="crispEdges" d="M751.25 373.8h14.7v7.2H751.25zM370.35 388.2h7.38v7.2H370.35zM458.25 388.2h7.38v7.2H458.25zM494.88 388.2h7.38v7.2H494.88zM597.42 388.2h7.38v7.2H597.42zM729.27 388.2h7.38v7.2H729.27zM883.1 395.4h7.38v7.2H883.1zM304.43 417h7.38v7.2H304.43zM458.25 417h7.38v7.2H458.25zM487.55 417h7.38v7.2H487.55zM582.78 417h7.38v7.2H582.78zM502.2 424.2h7.38v7.2H502.2zM692.65 431.4h7.38v7.2H692.65z"/>
<path fill="#c7bef3" shape-rendering="crispEdges" d="M319.08 395.4h7.38v7.2H319.08zM385 395.4h7.38v7.2H385zM729.27 402.6h7.38v7.2H729.27zM575.45 409.8h7.38v7.2H575.45zM604.75 409.8h7.38v7.2H604.75zM428.95 417h7.38v7.2H428.95z"/>
<path fill="#ecebf8" shape-rendering="crispEdges" d="M319.08 402.6h7.38v7.2H319.08zM333.73 402.6h7.38v7.2H333.73zM612.08 402.6h7.38v7.2H612.08zM531.5 409.8h7.38v7.2H531.5zM553.48 409.8h7.38v7.2H553.48zM861.12 409.8h14.7v7.2H861.12zM883.1 409.8h29.35v7.2H883.1zM890.43 417h65.98v7.2H890.43z"/>
<path fill="#c1b7f2" shape-rendering="crispEdges" d="M326.4 395.4h7.38v7.2H326.4zM355.7 409.8h7.38v7.2H355.7zM370.35 409.8h7.38v7.2H370.35zM385 409.8h7.38v7.2H385zM692.65 409.8h7.38v7.2H692.65zM509.53 417h7.38v7.2H509.53z"/>
<path fill="#e8e6f8" shape-rendering="crispEdges" d="M326.4 402.6h7.38v7.2H326.4zM560.8 402.6h7.38v7.2H560.8zM619.4 402.6h7.38v7.2H619.4zM773.23 402.6h14.7v7.2H773.23zM421.62 409.8h14.7v7.2H421.62zM560.8 409.8h7.38v7.2H560.8zM619.4 409.8h65.98v7.2H619.4zM875.77 409.8h7.38v7.2H875.77zM912.4 409.8h7.38v7.2H912.4zM934.38 409.8h36.67v7.2H934.38zM883.1 417h7.38v7.2H883.1z"/>
<path fill="#282d60" shape-rendering="crispEdges" d="M736.6 381h7.38v7.2H736.6zM773.23 381h7.38v7.2H773.23zM333.73 388.2h7.38v7.2H333.73zM406.98 388.2h7.38v7.2H406.98zM780.55 388.2h7.38v7.2H780.55zM546.15 395.4h7.38v7.2H546.15zM751.25 402.6h7.38v7.2H751.25zM355.7 417h14.7v7.2H355.7zM392.32 417h14.7v7.2H392.32zM597.42 417h7.38v7.2H597.42zM773.23 417h7.38v7.2H773.23zM421.62 424.2h7.38v7.2H421.62zM538.83 424.2h7.38v7.2H538.83zM699.98 431.4h14.7v7.2H699.98z"/>
<path fill="#b4aaef" shape-rendering="crispEdges" d="M333.73 395.4h7.38v7.2H333.73zM377.68 395.4h7.38v7.2H377.68zM502.2 402.6h7.38v7.2H502.2zM582.78 409.8h7.38v7.2H582.78zM736.6 409.8h7.38v7.2H736.6zM443.6 417h7.38v7.2H443.6zM868.45 417h7.38v7.2H868.45z"/>
<path fill="#a79dec" shape-rendering="crispEdges" d="M341.05 395.4h7.38v7.2H341.05zM443.6 402.6h7.38v7.2H443.6zM685.33 402.6h7.38v7.2H685.33zM765.9 402.6h7.38v7.2H765.9zM348.38 409.8h7.38v7.2H348.38zM590.1 409.8h7.38v7.2H590.1zM773.23 409.8h7.38v7.2H773.23zM699.98 424.2h7.38v7.2H699.98z"/>
<path fill="#f4f3f8" shape-rendering="crispEdges" d="M341.05 402.6h22.03v7.2H341.05zM370.35 402.6h14.7v7.2H370.35zM582.78 402.6h22.03v7.2H582.78zM546.15 409.8h7.38v7.2H546.15z"/>
<path fill="#9292e8" shape-rendering="crispEdges" d="M751.25 381h7.38v7.2H751.25zM370.35 395.4h7.38v7.2H370.35zM582.78 395.4h7.38v7.2H582.78zM597.42 395.4h7.38v7.2H597.42zM341.05 409.8h7.38v7.2H341.05zM421.62 417h7.38v7.2H421.62zM678 417h7.38v7.2H678z"/>
<path fill="#878ce6" shape-rendering="crispEdges" d="M355.7 395.4h7.38v7.2H355.7zM590.1 395.4h7.38v7.2H590.1zM458.25 409.8h7.38v7.2H458.25zM502.2 417h7.38v7.2H502.2zM692.65 424.2h7.38v7.2H692.65z"/>
<path fill="#bbb1f1" shape-rendering="crispEdges" d="M546.15 402.6h7.38v7.2H546.15zM868.45 402.6h7.38v7.2H868.45zM363.03 409.8h7.38v7.2H363.03zM406.98 409.8h7.38v7.2H406.98zM597.42 409.8h7.38v7.2H597.42zM538.83 417h7.38v7.2H538.83zM729.27 417h7.38v7.2H729.27z"/>
<path fill="#9d97ea" shape-rendering="crispEdges" d="M758.58 381h7.38v7.2H758.58zM758.58 395.4h7.38v7.2H758.58zM392.32 409.8h14.7v7.2H392.32zM714.62 424.2h7.38v7.2H714.62z"/>
<path fill="#aea4ee" shape-rendering="crispEdges" d="M406.98 395.4h7.38v7.2H406.98zM458.25 395.4h7.38v7.2H458.25zM721.95 409.8h7.38v7.2H721.95zM707.3 424.2h7.38v7.2H707.3z"/>
<path fill="#e4e2f8" shape-rendering="crispEdges" d="M472.9 395.4h14.7v7.2H472.9zM773.23 395.4h7.38v7.2H773.23zM458.25 402.6h7.38v7.2H458.25zM487.55 402.6h14.7v7.2H487.55zM626.73 402.6h7.38v7.2H626.73zM641.38 402.6h7.38v7.2H641.38zM414.3 409.8h7.38v7.2H414.3zM436.28 409.8h14.7v7.2H436.28zM502.2 409.8h29.35v7.2H502.2zM685.33 409.8h7.38v7.2H685.33zM729.27 409.8h7.38v7.2H729.27zM780.55 409.8h29.35v7.2H780.55zM817.18 409.8h44v7.2H817.18zM919.73 409.8h14.7v7.2H919.73z"/>
<path fill="#214f83" shape-rendering="crispEdges" d="M670.68 395.4h7.38v7.2H670.68zM524.17 402.6h7.38v7.2H524.17zM905.08 402.6h7.38v7.2H905.08zM934.38 402.6h7.38v7.2H934.38zM949.02 402.6h7.38v7.2H949.02zM414.3 417h7.38v7.2H414.3zM626.73 417h7.38v7.2H626.73zM780.55 417h7.38v7.2H780.55zM802.52 417h7.38v7.2H802.52zM831.83 417h7.38v7.2H831.83zM846.48 417h7.38v7.2H846.48zM912.4 424.2h7.38v7.2H912.4z"/>
<path fill="#e0dcf7" shape-rendering="crispEdges" d="M758.58 388.2h7.38v7.2H758.58zM765.9 395.4h7.38v7.2H765.9zM450.93 402.6h7.38v7.2H450.93zM465.57 402.6h7.38v7.2H465.57zM634.05 402.6h7.38v7.2H634.05zM648.7 402.6h29.35v7.2H648.7zM736.6 402.6h7.38v7.2H736.6zM450.93 409.8h7.38v7.2H450.93zM494.88 409.8h7.38v7.2H494.88zM809.85 409.8h7.38v7.2H809.85zM692.65 417h7.38v7.2H692.65zM721.95 417h7.38v7.2H721.95z"/>
<path fill="#22487b" shape-rendering="crispEdges" d="M472.9 388.2h14.7v7.2H472.9zM560.8 395.4h7.38v7.2H560.8zM626.73 395.4h7.38v7.2H626.73zM641.38 395.4h7.38v7.2H641.38zM656.02 395.4h14.7v7.2H656.02zM678 395.4h7.38v7.2H678zM787.88 395.4h7.38v7.2H787.88zM912.4 402.6h7.38v7.2H912.4zM560.8 417h7.38v7.2H560.8zM619.4 417h7.38v7.2H619.4zM634.05 417h7.38v7.2H634.05zM824.5 417h7.38v7.2H824.5zM875.77 424.2h7.38v7.2H875.77zM927.05 424.2h7.38v7.2H927.05z"/>
<path fill="#205f9c" shape-rendering="crispEdges" d="M743.93 381h7.38v7.2H743.93zM963.68 402.6h7.38v7.2H963.68zM494.88 417h7.38v7.2H494.88zM656.02 417h7.38v7.2H656.02zM795.2 417h7.38v7.2H795.2zM809.85 417h7.38v7.2H809.85zM934.38 424.2h7.38v7.2H934.38z"/>
<path fill="#1e5c94" shape-rendering="crispEdges" d="M516.85 402.6h7.38v7.2H516.85zM897.75 402.6h7.38v7.2H897.75zM714.62 409.8h7.38v7.2H714.62zM853.8 417h7.38v7.2H853.8zM897.75 424.2h7.38v7.2H897.75z"/>
<path fill="#1f558c" shape-rendering="crispEdges" d="M619.4 395.4h7.38v7.2H619.4zM531.5 402.6h7.38v7.2H531.5zM941.7 402.6h7.38v7.2H941.7zM956.35 402.6h7.38v7.2H956.35zM641.38 417h14.7v7.2H641.38zM817.18 417h7.38v7.2H817.18zM905.08 424.2h7.38v7.2H905.08z"/>
</g></g>
<path d="M334.4 401.2L355.4 422.2M355.4 401.2L334.4 422.2" stroke="#ee1c2c" stroke-width="2.2" fill="none"/>
<circle cx="366.2" cy="412.8" r="6.1" fill="#0d7a80" stroke="#111" stroke-width="1.9"/>
<circle cx="403.8" cy="407.7" r="6.1" fill="#8b0a30" stroke="#111" stroke-width="1.9"/>
<circle cx="441.4" cy="416.4" r="6.1" fill="#0a9a0a" stroke="#111" stroke-width="1.9"/>
<circle cx="479" cy="403.2" r="6.1" fill="#2200ee" stroke="#111" stroke-width="1.9"/>
<circle cx="525.7" cy="416.8" r="6.1" fill="#ffa500" stroke="#111" stroke-width="1.9"/>
<text x="78.2" y="373.8" font-size="23.5" text-anchor="end">1</text>
<line x1="92" y1="410.8" x2="101" y2="410.8" stroke="#000" stroke-width="1.6"/>
<text transform="translate(78.2 420.8) scale(1.120 1)" font-size="23.5" text-anchor="end">0</text>
<line x1="92" y1="457.8" x2="101" y2="457.8" stroke="#000" stroke-width="1.6"/>
<text x="78.2" y="467.8" font-size="23.5" text-anchor="end">–1</text>
<line x1="184" y1="492.8" x2="184" y2="483.8" stroke="#000" stroke-width="1.6"/>
<line x1="300.5" y1="492.8" x2="300.5" y2="483.8" stroke="#000" stroke-width="1.6"/>
<line x1="417" y1="492.8" x2="417" y2="483.8" stroke="#000" stroke-width="1.6"/>
<line x1="533.5" y1="492.8" x2="533.5" y2="483.8" stroke="#000" stroke-width="1.6"/>
<line x1="650" y1="492.8" x2="650" y2="483.8" stroke="#000" stroke-width="1.6"/>
<line x1="766.5" y1="492.8" x2="766.5" y2="483.8" stroke="#000" stroke-width="1.6"/>
<line x1="883" y1="492.8" x2="883" y2="483.8" stroke="#000" stroke-width="1.6"/>
<rect x="92.7" y="327.8" width="877.9" height="165" fill="none" stroke="#000" stroke-width="1.8"/>
<text transform="translate(99 359.8) scale(1.070 1)" font-size="40" stroke="#fff" stroke-width="1.1" fill="#fff" font-weight="bold">b</text>
<text x="154.5" y="472.8" font-size="26.5" fill="#fff"><tspan font-style="italic">t</tspan> = 1,360 s</text>
<text transform="translate(22.8 408.8) rotate(-90) scale(0.965 1)" font-size="26" text-anchor="middle"><tspan font-style="italic">Z</tspan> (R<tspan font-size="0.7em" dy="0.45em">E</tspan><tspan dy="-0.315em">)</tspan></text>
<rect x="92" y="509.8" width="879" height="165" fill="#30184e"/>
<g clip-path="url(#cp2)"><g filter="url(#soft)">
<path fill="#2e1b50" shape-rendering="crispEdges" d="M721.95 548.6h14.7v7.2H721.95zM751.25 548.6h7.38v7.2H751.25zM714.62 555.8h7.38v7.2H714.62zM765.9 555.8h7.38v7.2H765.9zM92 563h7.38v7.2H92zM157.93 563h7.38v7.2H157.93zM187.23 563h51.33v7.2H187.23zM253.15 563h29.35v7.2H253.15zM311.75 563h29.35v7.2H311.75zM414.3 563h22.03v7.2H414.3zM575.45 563h36.67v7.2H575.45zM773.23 563h7.38v7.2H773.23zM458.25 570.2h7.38v7.2H458.25zM531.5 570.2h7.38v7.2H531.5zM634.05 570.2h29.35v7.2H634.05zM678 570.2h7.38v7.2H678zM802.52 570.2h7.38v7.2H802.52zM699.98 577.4h7.38v7.2H699.98zM839.15 577.4h29.35v7.2H839.15zM905.08 577.4h22.03v7.2H905.08zM934.38 577.4h36.67v7.2H934.38zM743.93 584.6h7.38v7.2H743.93zM92 599h65.98v7.2H92zM165.25 599h36.67v7.2H165.25zM275.12 599h44v7.2H275.12zM729.27 599h7.38v7.2H729.27zM758.58 599h7.38v7.2H758.58zM370.35 606.2h7.38v7.2H370.35zM428.95 606.2h22.03v7.2H428.95zM516.85 606.2h7.38v7.2H516.85zM641.38 606.2h36.67v7.2H641.38zM773.23 606.2h44v7.2H773.23zM458.25 613.4h7.38v7.2H458.25zM487.55 613.4h7.38v7.2H487.55zM538.83 613.4h22.03v7.2H538.83zM685.33 613.4h7.38v7.2H685.33zM714.62 613.4h7.38v7.2H714.62zM853.8 613.4h14.7v7.2H853.8zM890.43 613.4h80.63v7.2H890.43z"/>
<path fill="#253b6b" shape-rendering="crispEdges" d="M92 570.2h14.7v7.2H92zM135.95 570.2h22.03v7.2H135.95zM165.25 570.2h7.38v7.2H165.25zM179.9 570.2h29.35v7.2H179.9zM275.12 570.2h7.38v7.2H275.12zM311.75 570.2h7.38v7.2H311.75zM421.62 570.2h7.38v7.2H421.62zM582.78 570.2h7.38v7.2H582.78zM604.75 570.2h7.38v7.2H604.75zM458.25 577.4h7.38v7.2H458.25zM531.5 577.4h7.38v7.2H531.5zM641.38 599h7.38v7.2H641.38zM773.23 599h22.03v7.2H773.23zM458.25 606.2h7.38v7.2H458.25zM487.55 606.2h7.38v7.2H487.55zM685.33 606.2h7.38v7.2H685.33zM714.62 606.2h7.38v7.2H714.62zM846.48 606.2h14.7v7.2H846.48z"/>
<path fill="#dbd7f7" shape-rendering="crispEdges" d="M736.6 563h14.7v7.2H736.6zM92 577.4h7.38v7.2H92zM143.28 577.4h22.03v7.2H143.28zM179.9 577.4h29.35v7.2H179.9zM275.12 577.4h7.38v7.2H275.12zM311.75 577.4h22.03v7.2H311.75zM560.8 584.6h7.38v7.2H560.8zM678 584.6h7.38v7.2H678zM494.88 591.8h7.38v7.2H494.88zM568.12 591.8h7.38v7.2H568.12zM641.38 591.8h7.38v7.2H641.38zM465.57 599h7.38v7.2H465.57zM480.23 599h7.38v7.2H480.23zM692.65 599h7.38v7.2H692.65zM846.48 599h7.38v7.2H846.48z"/>
<path fill="#ecebf8" shape-rendering="crispEdges" d="M92 584.6h65.98v7.2H92zM165.25 584.6h36.67v7.2H165.25zM282.45 584.6h36.67v7.2H282.45zM363.03 584.6h51.33v7.2H363.03zM443.6 584.6h7.38v7.2H443.6zM524.17 584.6h7.38v7.2H524.17zM590.1 584.6h44v7.2H590.1zM648.7 584.6h29.35v7.2H648.7zM765.9 584.6h7.38v7.2H765.9zM377.68 591.8h36.67v7.2H377.68zM458.25 591.8h7.38v7.2H458.25zM531.5 591.8h7.38v7.2H531.5zM670.68 591.8h7.38v7.2H670.68zM846.48 591.8h124.58v7.2H846.48z"/>
<path fill="#1e5c94" shape-rendering="crispEdges" d="M641.38 577.4h7.38v7.2H641.38zM656.02 577.4h14.7v7.2H656.02zM92 591.8h7.38v7.2H92zM187.23 591.8h14.7v7.2H187.23zM311.75 591.8h7.38v7.2H311.75zM590.1 591.8h14.7v7.2H590.1zM414.3 599h7.38v7.2H414.3zM480.23 606.2h7.38v7.2H480.23zM692.65 606.2h7.38v7.2H692.65z"/>
<path fill="#d7d1f6" shape-rendering="crispEdges" d="M751.25 563h7.38v7.2H751.25zM721.95 570.2h7.38v7.2H721.95zM99.33 577.4h7.38v7.2H99.33zM113.97 577.4h29.35v7.2H113.97zM165.25 577.4h14.7v7.2H165.25zM282.45 577.4h7.38v7.2H282.45zM297.1 577.4h14.7v7.2H297.1zM333.73 577.4h7.38v7.2H333.73zM582.78 577.4h7.38v7.2H582.78zM443.6 591.8h7.38v7.2H443.6zM472.9 591.8h7.38v7.2H472.9z"/>
<path fill="#1f558c" shape-rendering="crispEdges" d="M714.62 570.2h7.38v7.2H714.62zM634.05 577.4h7.38v7.2H634.05zM648.7 577.4h7.38v7.2H648.7zM670.68 577.4h7.38v7.2H670.68zM795.2 577.4h7.38v7.2H795.2zM861.12 584.6h7.38v7.2H861.12zM99.33 591.8h7.38v7.2H99.33zM135.95 591.8h22.03v7.2H135.95zM165.25 591.8h7.38v7.2H165.25zM179.9 591.8h7.38v7.2H179.9zM377.68 599h7.38v7.2H377.68zM524.17 599h7.38v7.2H524.17z"/>
<path fill="#282d60" shape-rendering="crispEdges" d="M765.9 563h7.38v7.2H765.9zM106.65 570.2h14.7v7.2H106.65zM289.77 570.2h7.38v7.2H289.77zM341.05 570.2h7.38v7.2H341.05zM436.28 570.2h7.38v7.2H436.28zM502.2 570.2h7.38v7.2H502.2zM516.85 570.2h7.38v7.2H516.85zM612.08 570.2h7.38v7.2H612.08zM685.33 577.4h7.38v7.2H685.33zM743.93 577.4h7.38v7.2H743.93zM809.85 577.4h7.38v7.2H809.85zM729.27 591.8h7.38v7.2H729.27zM619.4 599h7.38v7.2H619.4zM839.15 606.2h7.38v7.2H839.15z"/>
<path fill="#d2cbf5" shape-rendering="crispEdges" d="M106.65 577.4h7.38v7.2H106.65zM289.77 577.4h7.38v7.2H289.77zM604.75 577.4h7.38v7.2H604.75zM421.62 591.8h7.38v7.2H421.62zM692.65 591.8h7.38v7.2H692.65zM787.88 591.8h7.38v7.2H787.88zM546.15 599h7.38v7.2H546.15zM839.15 599h7.38v7.2H839.15z"/>
<path fill="#22487b" shape-rendering="crispEdges" d="M729.27 555.8h7.38v7.2H729.27zM216.53 570.2h14.7v7.2H216.53zM253.15 570.2h22.03v7.2H253.15zM590.1 570.2h7.38v7.2H590.1zM450.93 577.4h7.38v7.2H450.93zM472.9 584.6h7.38v7.2H472.9zM846.48 584.6h14.7v7.2H846.48zM905.08 584.6h7.38v7.2H905.08zM919.73 584.6h7.38v7.2H919.73zM934.38 584.6h7.38v7.2H934.38zM949.02 584.6h22.03v7.2H949.02zM106.65 591.8h22.03v7.2H106.65zM289.77 591.8h14.7v7.2H289.77zM421.62 599h7.38v7.2H421.62zM663.35 599h7.38v7.2H663.35zM890.43 606.2h14.7v7.2H890.43zM941.7 606.2h7.38v7.2H941.7z"/>
<path fill="#273465" shape-rendering="crispEdges" d="M121.3 570.2h14.7v7.2H121.3zM172.57 570.2h7.38v7.2H172.57zM282.45 570.2h7.38v7.2H282.45zM297.1 570.2h14.7v7.2H297.1zM414.3 570.2h7.38v7.2H414.3zM428.95 570.2h7.38v7.2H428.95zM575.45 570.2h7.38v7.2H575.45zM707.3 577.4h7.38v7.2H707.3zM736.6 577.4h7.38v7.2H736.6zM699.98 584.6h7.38v7.2H699.98zM355.7 599h14.7v7.2H355.7zM428.95 599h14.7v7.2H428.95zM516.85 599h7.38v7.2H516.85zM626.73 599h14.7v7.2H626.73zM538.83 606.2h7.38v7.2H538.83zM553.48 606.2h7.38v7.2H553.48z"/>
<path fill="#214f83" shape-rendering="crispEdges" d="M751.25 555.8h7.38v7.2H751.25zM238.5 570.2h14.7v7.2H238.5zM560.8 577.4h7.38v7.2H560.8zM839.15 584.6h7.38v7.2H839.15zM912.4 584.6h7.38v7.2H912.4zM941.7 584.6h7.38v7.2H941.7zM128.62 591.8h7.38v7.2H128.62zM172.57 591.8h7.38v7.2H172.57zM282.45 591.8h7.38v7.2H282.45zM304.43 591.8h7.38v7.2H304.43zM494.88 599h7.38v7.2H494.88zM568.12 599h7.38v7.2H568.12zM670.68 599h7.38v7.2H670.68zM802.52 599h7.38v7.2H802.52zM868.45 606.2h22.03v7.2H868.45zM927.05 606.2h7.38v7.2H927.05z"/>
<path fill="#244173" shape-rendering="crispEdges" d="M157.93 570.2h7.38v7.2H157.93zM209.2 570.2h7.38v7.2H209.2zM231.18 570.2h7.38v7.2H231.18zM319.08 570.2h22.03v7.2H319.08zM597.42 570.2h7.38v7.2H597.42zM487.55 577.4h7.38v7.2H487.55zM678 577.4h7.38v7.2H678zM802.52 577.4h7.38v7.2H802.52zM692.65 584.6h7.38v7.2H692.65zM751.25 584.6h7.38v7.2H751.25zM758.58 591.8h7.38v7.2H758.58zM370.35 599h7.38v7.2H370.35zM443.6 599h7.38v7.2H443.6zM648.7 599h14.7v7.2H648.7zM721.95 599h7.38v7.2H721.95zM795.2 599h7.38v7.2H795.2zM546.15 606.2h7.38v7.2H546.15zM861.12 606.2h7.38v7.2H861.12zM905.08 606.2h22.03v7.2H905.08zM934.38 606.2h7.38v7.2H934.38zM949.02 606.2h22.03v7.2H949.02z"/>
<path fill="#f0eff8" shape-rendering="crispEdges" d="M157.93 584.6h7.38v7.2H157.93zM201.88 584.6h80.63v7.2H201.88zM319.08 584.6h22.03v7.2H319.08zM355.7 584.6h7.38v7.2H355.7zM414.3 584.6h7.38v7.2H414.3zM502.2 584.6h14.7v7.2H502.2zM568.12 584.6h7.38v7.2H568.12zM582.78 584.6h7.38v7.2H582.78zM809.85 591.8h14.7v7.2H809.85zM831.83 591.8h14.7v7.2H831.83z"/>
<path fill="#205f9c" shape-rendering="crispEdges" d="M370.35 577.4h22.03v7.2H370.35zM729.27 584.6h7.38v7.2H729.27zM890.43 584.6h14.7v7.2H890.43zM927.05 584.6h7.38v7.2H927.05zM157.93 591.8h7.38v7.2H157.93zM201.88 591.8h7.38v7.2H201.88zM275.12 591.8h7.38v7.2H275.12zM319.08 591.8h7.38v7.2H319.08zM385 599h7.38v7.2H385zM678 599h7.38v7.2H678zM809.85 599h7.38v7.2H809.85zM465.57 606.2h7.38v7.2H465.57z"/>
<path fill="#2d1e53" shape-rendering="crispEdges" d="M736.6 548.6h14.7v7.2H736.6zM238.5 563h14.7v7.2H238.5zM363.03 570.2h29.35v7.2H363.03zM450.93 570.2h7.38v7.2H450.93zM487.55 570.2h7.38v7.2H487.55zM524.17 570.2h7.38v7.2H524.17zM560.8 570.2h7.38v7.2H560.8zM626.73 570.2h7.38v7.2H626.73zM663.35 570.2h14.7v7.2H663.35zM707.3 570.2h7.38v7.2H707.3zM787.88 570.2h14.7v7.2H787.88zM472.9 577.4h7.38v7.2H472.9zM692.65 577.4h7.38v7.2H692.65zM831.83 577.4h7.38v7.2H831.83zM868.45 577.4h7.38v7.2H868.45zM883.1 577.4h22.03v7.2H883.1zM927.05 577.4h7.38v7.2H927.05zM736.6 584.6h7.38v7.2H736.6zM751.25 591.8h7.38v7.2H751.25zM157.93 599h7.38v7.2H157.93zM201.88 599h14.7v7.2H201.88zM231.18 599h7.38v7.2H231.18zM260.48 599h7.38v7.2H260.48zM319.08 599h7.38v7.2H319.08zM509.53 599h7.38v7.2H509.53zM582.78 599h29.35v7.2H582.78zM377.68 606.2h14.7v7.2H377.68zM421.62 606.2h7.38v7.2H421.62zM494.88 606.2h7.38v7.2H494.88zM524.17 606.2h7.38v7.2H524.17zM568.12 606.2h7.38v7.2H568.12zM678 606.2h7.38v7.2H678zM721.95 606.2h7.38v7.2H721.95zM817.18 606.2h7.38v7.2H817.18zM465.57 613.4h22.03v7.2H465.57zM692.65 613.4h7.38v7.2H692.65zM707.3 613.4h7.38v7.2H707.3zM868.45 613.4h22.03v7.2H868.45z"/>
<path fill="#e0dcf7" shape-rendering="crispEdges" d="M729.27 570.2h7.38v7.2H729.27zM751.25 570.2h14.7v7.2H751.25zM209.2 577.4h7.38v7.2H209.2zM231.18 577.4h7.38v7.2H231.18zM253.15 577.4h14.7v7.2H253.15zM597.42 577.4h7.38v7.2H597.42zM450.93 584.6h7.38v7.2H450.93zM802.52 584.6h7.38v7.2H802.52zM370.35 591.8h7.38v7.2H370.35zM414.3 591.8h7.38v7.2H414.3zM465.57 591.8h7.38v7.2H465.57zM480.23 591.8h7.38v7.2H480.23zM648.7 591.8h7.38v7.2H648.7zM707.3 591.8h7.38v7.2H707.3zM795.2 591.8h7.38v7.2H795.2zM472.9 599h7.38v7.2H472.9zM853.8 599h14.7v7.2H853.8z"/>
<path fill="#2262a4" shape-rendering="crispEdges" d="M392.32 577.4h7.38v7.2H392.32zM787.88 577.4h7.38v7.2H787.88zM209.2 591.8h7.38v7.2H209.2zM231.18 591.8h7.38v7.2H231.18zM392.32 599h7.38v7.2H392.32zM472.9 606.2h7.38v7.2H472.9zM707.3 606.2h7.38v7.2H707.3z"/>
<path fill="#e4e2f8" shape-rendering="crispEdges" d="M216.53 577.4h14.7v7.2H216.53zM238.5 577.4h14.7v7.2H238.5zM267.8 577.4h7.38v7.2H267.8zM590.1 577.4h7.38v7.2H590.1zM721.95 584.6h7.38v7.2H721.95zM780.55 584.6h22.03v7.2H780.55zM546.15 591.8h7.38v7.2H546.15zM656.02 591.8h7.38v7.2H656.02zM699.98 599h14.7v7.2H699.98zM905.08 599h22.03v7.2H905.08zM934.38 599h7.38v7.2H934.38zM949.02 599h22.03v7.2H949.02z"/>
<path fill="#316ebd" shape-rendering="crispEdges" d="M780.55 577.4h7.38v7.2H780.55zM465.57 584.6h7.38v7.2H465.57zM216.53 591.8h14.7v7.2H216.53zM267.8 591.8h7.38v7.2H267.8zM326.4 591.8h7.38v7.2H326.4zM509.53 591.8h7.38v7.2H509.53zM450.93 599h7.38v7.2H450.93z"/>
<path fill="#2b2056" shape-rendering="crispEdges" d="M355.7 570.2h7.38v7.2H355.7zM392.32 570.2h7.38v7.2H392.32zM443.6 570.2h7.38v7.2H443.6zM494.88 570.2h7.38v7.2H494.88zM619.4 570.2h7.38v7.2H619.4zM780.55 570.2h7.38v7.2H780.55zM465.57 577.4h7.38v7.2H465.57zM480.23 577.4h7.38v7.2H480.23zM538.83 577.4h14.7v7.2H538.83zM824.5 577.4h7.38v7.2H824.5zM875.77 577.4h7.38v7.2H875.77zM216.53 599h14.7v7.2H216.53zM238.5 599h22.03v7.2H238.5zM267.8 599h7.38v7.2H267.8zM326.4 599h22.03v7.2H326.4zM612.08 599h7.38v7.2H612.08zM392.32 606.2h7.38v7.2H392.32zM406.98 606.2h14.7v7.2H406.98zM450.93 606.2h7.38v7.2H450.93zM824.5 606.2h7.38v7.2H824.5zM699.98 613.4h7.38v7.2H699.98z"/>
<path fill="#3b73c6" shape-rendering="crispEdges" d="M743.93 555.8h7.38v7.2H743.93zM721.95 563h7.38v7.2H721.95zM758.58 563h7.38v7.2H758.58zM443.6 577.4h7.38v7.2H443.6zM494.88 577.4h7.38v7.2H494.88zM546.15 584.6h7.38v7.2H546.15zM238.5 591.8h14.7v7.2H238.5zM817.18 599h7.38v7.2H817.18z"/>
<path fill="#2668b4" shape-rendering="crispEdges" d="M736.6 555.8h7.38v7.2H736.6zM363.03 577.4h7.38v7.2H363.03zM480.23 584.6h7.38v7.2H480.23zM707.3 584.6h7.38v7.2H707.3zM831.83 584.6h7.38v7.2H831.83zM253.15 591.8h14.7v7.2H253.15zM604.75 591.8h7.38v7.2H604.75zM406.98 599h7.38v7.2H406.98z"/>
<path fill="#5a7fd6" shape-rendering="crispEdges" d="M406.98 577.4h7.38v7.2H406.98zM538.83 584.6h7.38v7.2H538.83zM333.73 591.8h7.38v7.2H333.73z"/>
<path fill="#c1b7f2" shape-rendering="crispEdges" d="M341.05 577.4h7.38v7.2H341.05zM421.62 577.4h7.38v7.2H421.62zM509.53 577.4h7.38v7.2H509.53zM487.55 584.6h7.38v7.2H487.55zM758.58 584.6h7.38v7.2H758.58zM355.7 591.8h7.38v7.2H355.7zM773.23 591.8h7.38v7.2H773.23zM458.25 599h7.38v7.2H458.25zM538.83 599h7.38v7.2H538.83zM553.48 599h7.38v7.2H553.48zM685.33 599h7.38v7.2H685.33zM831.83 599h7.38v7.2H831.83z"/>
<path fill="#f4f3f8" shape-rendering="crispEdges" d="M341.05 584.6h14.7v7.2H341.05zM421.62 584.6h22.03v7.2H421.62zM516.85 584.6h7.38v7.2H516.85zM575.45 584.6h7.38v7.2H575.45zM824.5 591.8h7.38v7.2H824.5z"/>
<path fill="#878ce6" shape-rendering="crispEdges" d="M355.7 577.4h7.38v7.2H355.7zM619.4 577.4h7.38v7.2H619.4zM824.5 584.6h7.38v7.2H824.5zM341.05 591.8h7.38v7.2H341.05zM612.08 591.8h7.38v7.2H612.08zM531.5 599h7.38v7.2H531.5zM560.8 599h7.38v7.2H560.8z"/>
<path fill="#2a265a" shape-rendering="crispEdges" d="M721.95 555.8h7.38v7.2H721.95zM758.58 555.8h7.38v7.2H758.58zM714.62 563h7.38v7.2H714.62zM348.38 570.2h7.38v7.2H348.38zM399.65 570.2h14.7v7.2H399.65zM509.53 570.2h7.38v7.2H509.53zM568.12 570.2h7.38v7.2H568.12zM773.23 570.2h7.38v7.2H773.23zM553.48 577.4h7.38v7.2H553.48zM817.18 577.4h7.38v7.2H817.18zM348.38 599h7.38v7.2H348.38zM502.2 599h7.38v7.2H502.2zM575.45 599h7.38v7.2H575.45zM765.9 599h7.38v7.2H765.9zM399.65 606.2h7.38v7.2H399.65zM531.5 606.2h7.38v7.2H531.5zM560.8 606.2h7.38v7.2H560.8zM831.83 606.2h7.38v7.2H831.83z"/>
<path fill="#a79dec" shape-rendering="crispEdges" d="M348.38 577.4h7.38v7.2H348.38zM414.3 577.4h7.38v7.2H414.3zM721.95 591.8h7.38v7.2H721.95zM824.5 599h7.38v7.2H824.5z"/>
<path fill="#aea4ee" shape-rendering="crispEdges" d="M736.6 570.2h7.38v7.2H736.6zM436.28 577.4h7.38v7.2H436.28zM516.85 577.4h7.38v7.2H516.85zM714.62 577.4h7.38v7.2H714.62zM685.33 584.6h7.38v7.2H685.33zM348.38 591.8h7.38v7.2H348.38z"/>
<path fill="#ccc4f4" shape-rendering="crispEdges" d="M729.27 563h7.38v7.2H729.27zM765.9 577.4h7.38v7.2H765.9zM809.85 584.6h7.38v7.2H809.85zM363.03 591.8h7.38v7.2H363.03zM634.05 591.8h7.38v7.2H634.05zM780.55 591.8h7.38v7.2H780.55z"/>
<path fill="#4679ce" shape-rendering="crispEdges" d="M399.65 577.4h7.38v7.2H399.65zM399.65 599h7.38v7.2H399.65zM699.98 606.2h7.38v7.2H699.98z"/>
<path fill="#bbb1f1" shape-rendering="crispEdges" d="M428.95 577.4h7.38v7.2H428.95zM502.2 577.4h7.38v7.2H502.2zM428.95 591.8h14.7v7.2H428.95zM516.85 591.8h7.38v7.2H516.85zM619.4 591.8h7.38v7.2H619.4zM699.98 591.8h7.38v7.2H699.98z"/>
<path fill="#e8e6f8" shape-rendering="crispEdges" d="M721.95 577.4h7.38v7.2H721.95zM758.58 577.4h7.38v7.2H758.58zM494.88 584.6h7.38v7.2H494.88zM634.05 584.6h14.7v7.2H634.05zM714.62 584.6h7.38v7.2H714.62zM773.23 584.6h7.38v7.2H773.23zM450.93 591.8h7.38v7.2H450.93zM487.55 591.8h7.38v7.2H487.55zM524.17 591.8h7.38v7.2H524.17zM538.83 591.8h7.38v7.2H538.83zM553.48 591.8h14.7v7.2H553.48zM663.35 591.8h7.38v7.2H663.35zM678 591.8h14.7v7.2H678zM714.62 591.8h7.38v7.2H714.62zM802.52 591.8h7.38v7.2H802.52zM868.45 599h36.67v7.2H868.45zM927.05 599h7.38v7.2H927.05zM941.7 599h7.38v7.2H941.7z"/>
<path fill="#b4aaef" shape-rendering="crispEdges" d="M612.08 577.4h7.38v7.2H612.08zM729.27 577.4h7.38v7.2H729.27zM458.25 584.6h7.38v7.2H458.25zM817.18 584.6h7.38v7.2H817.18zM487.55 599h7.38v7.2H487.55zM714.62 599h7.38v7.2H714.62z"/>
<path fill="#9292e8" shape-rendering="crispEdges" d="M568.12 577.4h7.38v7.2H568.12zM751.25 577.4h7.38v7.2H751.25zM553.48 584.6h7.38v7.2H553.48zM502.2 591.8h7.38v7.2H502.2z"/>
<path fill="#2465ac" shape-rendering="crispEdges" d="M765.9 570.2h7.38v7.2H765.9zM524.17 577.4h7.38v7.2H524.17zM626.73 577.4h7.38v7.2H626.73zM868.45 584.6h22.03v7.2H868.45zM582.78 591.8h7.38v7.2H582.78z"/>
<path fill="#c7bef3" shape-rendering="crispEdges" d="M575.45 577.4h7.38v7.2H575.45zM531.5 584.6h7.38v7.2H531.5zM626.73 591.8h7.38v7.2H626.73z"/>
<path fill="#9d97ea" shape-rendering="crispEdges" d="M743.93 570.2h7.38v7.2H743.93zM575.45 591.8h7.38v7.2H575.45zM765.9 591.8h7.38v7.2H765.9z"/>
<path fill="#7086de" shape-rendering="crispEdges" d="M773.23 577.4h7.38v7.2H773.23z"/>
</g></g>
<path d="M334.4 582.3L355.4 603.3M355.4 582.3L334.4 603.3" stroke="#ee1c2c" stroke-width="2.2" fill="none"/>
<circle cx="394.3" cy="596.4" r="6.1" fill="#0d7a80" stroke="#111" stroke-width="1.9"/>
<circle cx="433.6" cy="589.1" r="6.1" fill="#8b0a30" stroke="#111" stroke-width="1.9"/>
<circle cx="469.8" cy="599.9" r="6.1" fill="#0a9a0a" stroke="#111" stroke-width="1.9"/>
<circle cx="507.4" cy="585.6" r="6.1" fill="#2200ee" stroke="#111" stroke-width="1.9"/>
<circle cx="554.3" cy="598.9" r="6.1" fill="#ffa500" stroke="#111" stroke-width="1.9"/>
<text x="78.2" y="555.8" font-size="23.5" text-anchor="end">1</text>
<line x1="92" y1="592.8" x2="101" y2="592.8" stroke="#000" stroke-width="1.6"/>
<text transform="translate(78.2 602.8) scale(1.120 1)" font-size="23.5" text-anchor="end">0</text>
<line x1="92" y1="639.8" x2="101" y2="639.8" stroke="#000" stroke-width="1.6"/>
<text x="78.2" y="649.8" font-size="23.5" text-anchor="end">–1</text>
<line x1="184" y1="674.8" x2="184" y2="665.8" stroke="#000" stroke-width="1.6"/>
<line x1="300.5" y1="674.8" x2="300.5" y2="665.8" stroke="#000" stroke-width="1.6"/>
<line x1="417" y1="674.8" x2="417" y2="665.8" stroke="#000" stroke-width="1.6"/>
<line x1="533.5" y1="674.8" x2="533.5" y2="665.8" stroke="#000" stroke-width="1.6"/>
<line x1="650" y1="674.8" x2="650" y2="665.8" stroke="#000" stroke-width="1.6"/>
<line x1="766.5" y1="674.8" x2="766.5" y2="665.8" stroke="#000" stroke-width="1.6"/>
<line x1="883" y1="674.8" x2="883" y2="665.8" stroke="#000" stroke-width="1.6"/>
<rect x="92.7" y="509.8" width="877.9" height="165" fill="none" stroke="#000" stroke-width="1.8"/>
<text transform="translate(100.4 547.2) scale(1.070 1)" font-size="40" stroke="#fff" stroke-width="1.1" fill="#fff" font-weight="bold">c</text>
<text x="154.5" y="654.8" font-size="26.5" fill="#fff"><tspan font-style="italic">t</tspan> = 1,380 s</text>
<text transform="translate(22.8 590.8) rotate(-90) scale(0.965 1)" font-size="26" text-anchor="middle"><tspan font-style="italic">Z</tspan> (R<tspan font-size="0.7em" dy="0.45em">E</tspan><tspan dy="-0.315em">)</tspan></text>
<rect x="92" y="691.8" width="879" height="165" fill="#30184e"/>
<g clip-path="url(#cp3)"><g filter="url(#soft)">
<path fill="#2e1b50" shape-rendering="crispEdges" d="M714.62 723.4h7.38v7.2H714.62zM743.93 723.4h7.38v7.2H743.93zM751.25 730.6h7.38v7.2H751.25zM699.98 737.8h7.38v7.2H699.98zM758.58 737.8h7.38v7.2H758.58zM92 745h58.65v7.2H92zM172.57 745h14.7v7.2H172.57zM223.85 745h58.65v7.2H223.85zM289.77 745h44v7.2H289.77zM348.38 745h29.35v7.2H348.38zM582.78 745h14.7v7.2H582.78zM604.75 745h14.7v7.2H604.75zM399.65 752.2h14.7v7.2H399.65zM480.23 752.2h7.38v7.2H480.23zM509.53 752.2h7.38v7.2H509.53zM546.15 752.2h7.38v7.2H546.15zM560.8 752.2h7.38v7.2H560.8zM663.35 752.2h14.7v7.2H663.35zM692.65 752.2h7.38v7.2H692.65zM795.2 752.2h14.7v7.2H795.2zM487.55 759.4h7.38v7.2H487.55zM502.2 759.4h7.38v7.2H502.2zM839.15 759.4h22.03v7.2H839.15zM905.08 759.4h22.03v7.2H905.08zM941.7 759.4h29.35v7.2H941.7zM729.27 766.6h7.38v7.2H729.27zM99.33 781h22.03v7.2H99.33zM135.95 781h7.38v7.2H135.95zM187.23 781h14.7v7.2H187.23zM209.2 781h29.35v7.2H209.2zM267.8 781h22.03v7.2H267.8zM297.1 781h7.38v7.2H297.1zM597.42 781h7.38v7.2H597.42zM392.32 788.2h14.7v7.2H392.32zM443.6 788.2h7.38v7.2H443.6zM465.57 788.2h7.38v7.2H465.57zM524.17 788.2h7.38v7.2H524.17zM538.83 788.2h22.03v7.2H538.83zM568.12 788.2h7.38v7.2H568.12zM626.73 788.2h7.38v7.2H626.73zM641.38 788.2h14.7v7.2H641.38zM758.58 788.2h44v7.2H758.58zM480.23 795.4h7.38v7.2H480.23zM516.85 795.4h7.38v7.2H516.85zM678 795.4h22.03v7.2H678zM831.83 795.4h29.35v7.2H831.83zM868.45 795.4h7.38v7.2H868.45zM905.08 795.4h14.7v7.2H905.08zM956.35 795.4h14.7v7.2H956.35z"/>
<path fill="#244173" shape-rendering="crispEdges" d="M92 752.2h14.7v7.2H92zM128.62 752.2h22.03v7.2H128.62zM179.9 752.2h7.38v7.2H179.9zM223.85 752.2h14.7v7.2H223.85zM253.15 752.2h29.35v7.2H253.15zM289.77 752.2h29.35v7.2H289.77zM363.03 752.2h7.38v7.2H363.03zM582.78 752.2h7.38v7.2H582.78zM604.75 752.2h7.38v7.2H604.75zM729.27 752.2h7.38v7.2H729.27zM802.52 759.4h7.38v7.2H802.52zM919.73 766.6h7.38v7.2H919.73zM934.38 766.6h22.03v7.2H934.38zM194.55 773.8h14.7v7.2H194.55zM743.93 773.8h7.38v7.2H743.93zM443.6 781h7.38v7.2H443.6zM465.57 781h7.38v7.2H465.57zM707.3 781h7.38v7.2H707.3zM831.83 788.2h14.7v7.2H831.83zM963.68 788.2h7.38v7.2H963.68z"/>
<path fill="#e0dcf7" shape-rendering="crispEdges" d="M714.62 745h7.38v7.2H714.62zM736.6 745h7.38v7.2H736.6zM714.62 752.2h7.38v7.2H714.62zM743.93 752.2h7.38v7.2H743.93zM92 759.4h58.65v7.2H92zM179.9 759.4h7.38v7.2H179.9zM223.85 759.4h22.03v7.2H223.85zM253.15 759.4h29.35v7.2H253.15zM289.77 759.4h29.35v7.2H289.77zM363.03 759.4h7.38v7.2H363.03zM604.75 759.4h7.38v7.2H604.75zM743.93 759.4h14.7v7.2H743.93zM699.98 766.6h7.38v7.2H699.98zM765.9 766.6h7.38v7.2H765.9zM780.55 766.6h7.38v7.2H780.55zM795.2 766.6h7.38v7.2H795.2zM509.53 773.8h7.38v7.2H509.53zM678 773.8h7.38v7.2H678zM692.65 773.8h7.38v7.2H692.65zM494.88 781h14.7v7.2H494.88zM831.83 781h7.38v7.2H831.83zM912.4 781h14.7v7.2H912.4zM934.38 781h29.35v7.2H934.38z"/>
<path fill="#ecebf8" shape-rendering="crispEdges" d="M92 766.6h58.65v7.2H92zM179.9 766.6h139.23v7.2H179.9zM355.7 766.6h7.38v7.2H355.7zM392.32 766.6h7.38v7.2H392.32zM575.45 766.6h36.67v7.2H575.45zM634.05 766.6h29.35v7.2H634.05zM414.3 773.8h7.38v7.2H414.3zM428.95 773.8h14.7v7.2H428.95zM656.02 773.8h7.38v7.2H656.02zM802.52 773.8h7.38v7.2H802.52zM831.83 773.8h95.28v7.2H831.83zM934.38 773.8h36.67v7.2H934.38zM890.43 781h7.38v7.2H890.43z"/>
<path fill="#205f9c" shape-rendering="crispEdges" d="M721.95 730.6h7.38v7.2H721.95zM443.6 759.4h7.38v7.2H443.6zM787.88 759.4h7.38v7.2H787.88zM92 773.8h7.38v7.2H92zM143.28 773.8h7.38v7.2H143.28zM179.9 773.8h7.38v7.2H179.9zM253.15 773.8h7.38v7.2H253.15zM304.43 773.8h14.7v7.2H304.43zM604.75 773.8h7.38v7.2H604.75zM406.98 781h7.38v7.2H406.98zM656.02 781h7.38v7.2H656.02z"/>
<path fill="#2d1e53" shape-rendering="crispEdges" d="M721.95 723.4h7.38v7.2H721.95zM736.6 723.4h7.38v7.2H736.6zM707.3 730.6h7.38v7.2H707.3zM150.6 745h22.03v7.2H150.6zM333.73 745h14.7v7.2H333.73zM392.32 752.2h7.38v7.2H392.32zM443.6 752.2h7.38v7.2H443.6zM472.9 752.2h7.38v7.2H472.9zM516.85 752.2h7.38v7.2H516.85zM568.12 752.2h7.38v7.2H568.12zM641.38 752.2h14.7v7.2H641.38zM787.88 752.2h7.38v7.2H787.88zM421.62 759.4h7.38v7.2H421.62zM685.33 759.4h7.38v7.2H685.33zM824.5 759.4h14.7v7.2H824.5zM861.12 759.4h29.35v7.2H861.12zM897.75 759.4h7.38v7.2H897.75zM721.95 766.6h7.38v7.2H721.95zM736.6 773.8h7.38v7.2H736.6zM92 781h7.38v7.2H92zM121.3 781h14.7v7.2H121.3zM143.28 781h7.38v7.2H143.28zM179.9 781h7.38v7.2H179.9zM238.5 781h29.35v7.2H238.5zM289.77 781h7.38v7.2H289.77zM304.43 781h14.7v7.2H304.43zM348.38 781h22.03v7.2H348.38zM582.78 781h14.7v7.2H582.78zM604.75 781h14.7v7.2H604.75zM714.62 781h7.38v7.2H714.62zM743.93 781h7.38v7.2H743.93zM406.98 788.2h14.7v7.2H406.98zM428.95 788.2h14.7v7.2H428.95zM560.8 788.2h7.38v7.2H560.8zM634.05 788.2h7.38v7.2H634.05zM656.02 788.2h14.7v7.2H656.02zM707.3 788.2h7.38v7.2H707.3zM802.52 788.2h7.38v7.2H802.52zM487.55 795.4h7.38v7.2H487.55zM509.53 795.4h7.38v7.2H509.53zM861.12 795.4h7.38v7.2H861.12zM875.77 795.4h29.35v7.2H875.77z"/>
<path fill="#1f558c" shape-rendering="crispEdges" d="M157.93 752.2h7.38v7.2H157.93zM516.85 759.4h7.38v7.2H516.85zM846.48 766.6h14.7v7.2H846.48zM905.08 766.6h7.38v7.2H905.08zM99.33 773.8h22.03v7.2H99.33zM223.85 773.8h7.38v7.2H223.85zM267.8 773.8h7.38v7.2H267.8zM875.77 788.2h14.7v7.2H875.77zM897.75 788.2h7.38v7.2H897.75z"/>
<path fill="#253b6b" shape-rendering="crispEdges" d="M707.3 737.8h7.38v7.2H707.3zM106.65 752.2h14.7v7.2H106.65zM216.53 752.2h7.38v7.2H216.53zM282.45 752.2h7.38v7.2H282.45zM370.35 752.2h7.38v7.2H370.35zM597.42 752.2h7.38v7.2H597.42zM612.08 752.2h7.38v7.2H612.08zM758.58 752.2h7.38v7.2H758.58zM406.98 759.4h7.38v7.2H406.98zM560.8 759.4h7.38v7.2H560.8zM487.55 766.6h7.38v7.2H487.55zM502.2 766.6h7.38v7.2H502.2zM736.6 766.6h7.38v7.2H736.6zM927.05 766.6h7.38v7.2H927.05zM392.32 781h7.38v7.2H392.32zM524.17 781h7.38v7.2H524.17zM568.12 781h7.38v7.2H568.12zM773.23 781h22.03v7.2H773.23zM678 788.2h7.38v7.2H678zM692.65 788.2h7.38v7.2H692.65zM912.4 788.2h14.7v7.2H912.4zM941.7 788.2h22.03v7.2H941.7z"/>
<path fill="#22487b" shape-rendering="crispEdges" d="M121.3 752.2h7.38v7.2H121.3zM172.57 752.2h7.38v7.2H172.57zM238.5 752.2h14.7v7.2H238.5zM319.08 752.2h14.7v7.2H319.08zM348.38 752.2h14.7v7.2H348.38zM590.1 752.2h7.38v7.2H590.1zM699.98 752.2h7.38v7.2H699.98zM399.65 759.4h7.38v7.2H399.65zM546.15 759.4h7.38v7.2H546.15zM663.35 759.4h7.38v7.2H663.35zM795.2 759.4h7.38v7.2H795.2zM912.4 766.6h7.38v7.2H912.4zM956.35 766.6h7.38v7.2H956.35zM187.23 773.8h7.38v7.2H187.23zM209.2 773.8h14.7v7.2H209.2zM399.65 781h7.38v7.2H399.65zM546.15 781h7.38v7.2H546.15zM626.73 781h7.38v7.2H626.73zM641.38 781h14.7v7.2H641.38zM795.2 781h7.38v7.2H795.2zM480.23 788.2h7.38v7.2H480.23zM685.33 788.2h7.38v7.2H685.33zM846.48 788.2h14.7v7.2H846.48zM868.45 788.2h7.38v7.2H868.45zM905.08 788.2h7.38v7.2H905.08z"/>
<path fill="#2262a4" shape-rendering="crispEdges" d="M648.7 759.4h7.38v7.2H648.7zM861.12 766.6h7.38v7.2H861.12zM875.77 766.6h14.7v7.2H875.77zM897.75 766.6h7.38v7.2H897.75zM121.3 773.8h7.38v7.2H121.3zM238.5 773.8h14.7v7.2H238.5zM355.7 773.8h14.7v7.2H355.7zM582.78 773.8h14.7v7.2H582.78zM560.8 781h7.38v7.2H560.8zM663.35 781h7.38v7.2H663.35z"/>
<path fill="#1e5c94" shape-rendering="crispEdges" d="M751.25 745h7.38v7.2H751.25zM685.33 766.6h7.38v7.2H685.33zM831.83 766.6h7.38v7.2H831.83zM868.45 766.6h7.38v7.2H868.45zM128.62 773.8h14.7v7.2H128.62zM231.18 773.8h7.38v7.2H231.18zM260.48 773.8h7.38v7.2H260.48zM275.12 773.8h7.38v7.2H275.12zM289.77 773.8h14.7v7.2H289.77zM553.48 781h7.38v7.2H553.48zM634.05 781h7.38v7.2H634.05zM509.53 788.2h7.38v7.2H509.53zM890.43 788.2h7.38v7.2H890.43z"/>
<path fill="#214f83" shape-rendering="crispEdges" d="M736.6 730.6h7.38v7.2H736.6zM150.6 752.2h7.38v7.2H150.6zM165.25 752.2h7.38v7.2H165.25zM333.73 752.2h14.7v7.2H333.73zM472.9 759.4h7.38v7.2H472.9zM839.15 766.6h7.38v7.2H839.15zM963.68 766.6h7.38v7.2H963.68zM282.45 773.8h7.38v7.2H282.45zM597.42 773.8h7.38v7.2H597.42zM861.12 788.2h7.38v7.2H861.12z"/>
<path fill="#e4e2f8" shape-rendering="crispEdges" d="M150.6 759.4h7.38v7.2H150.6zM172.57 759.4h7.38v7.2H172.57zM245.83 759.4h7.38v7.2H245.83zM319.08 759.4h44v7.2H319.08zM590.1 759.4h7.38v7.2H590.1zM524.17 766.6h7.38v7.2H524.17zM546.15 766.6h7.38v7.2H546.15zM568.12 766.6h7.38v7.2H568.12zM663.35 766.6h7.38v7.2H663.35zM707.3 766.6h7.38v7.2H707.3zM751.25 766.6h7.38v7.2H751.25zM773.23 766.6h7.38v7.2H773.23zM787.88 766.6h7.38v7.2H787.88zM399.65 773.8h14.7v7.2H399.65zM480.23 773.8h7.38v7.2H480.23zM516.85 773.8h7.38v7.2H516.85zM546.15 773.8h7.38v7.2H546.15zM560.8 773.8h7.38v7.2H560.8zM641.38 773.8h14.7v7.2H641.38zM699.98 773.8h7.38v7.2H699.98zM795.2 773.8h7.38v7.2H795.2zM839.15 781h22.03v7.2H839.15zM963.68 781h7.38v7.2H963.68z"/>
<path fill="#f0eff8" shape-rendering="crispEdges" d="M150.6 766.6h29.35v7.2H150.6zM319.08 766.6h36.67v7.2H319.08zM363.03 766.6h14.7v7.2H363.03zM458.25 766.6h7.38v7.2H458.25zM612.08 766.6h7.38v7.2H612.08zM626.73 766.6h7.38v7.2H626.73zM421.62 773.8h7.38v7.2H421.62zM824.5 773.8h7.38v7.2H824.5z"/>
<path fill="#316ebd" shape-rendering="crispEdges" d="M729.27 730.6h7.38v7.2H729.27zM392.32 759.4h7.38v7.2H392.32zM150.6 773.8h22.03v7.2H150.6zM333.73 773.8h14.7v7.2H333.73zM370.35 773.8h7.38v7.2H370.35zM612.08 773.8h7.38v7.2H612.08z"/>
<path fill="#2b2056" shape-rendering="crispEdges" d="M729.27 723.4h7.38v7.2H729.27zM758.58 745h7.38v7.2H758.58zM465.57 752.2h7.38v7.2H465.57zM538.83 752.2h7.38v7.2H538.83zM656.02 752.2h7.38v7.2H656.02zM780.55 752.2h7.38v7.2H780.55zM428.95 759.4h7.38v7.2H428.95zM678 759.4h7.38v7.2H678zM729.27 759.4h7.38v7.2H729.27zM890.43 759.4h7.38v7.2H890.43zM150.6 781h29.35v7.2H150.6zM319.08 781h29.35v7.2H319.08zM370.35 781h14.7v7.2H370.35zM531.5 781h7.38v7.2H531.5zM421.62 788.2h7.38v7.2H421.62zM809.85 788.2h7.38v7.2H809.85zM502.2 795.4h7.38v7.2H502.2z"/>
<path fill="#e8e6f8" shape-rendering="crispEdges" d="M157.93 759.4h14.7v7.2H157.93zM707.3 759.4h7.38v7.2H707.3zM399.65 766.6h7.38v7.2H399.65zM443.6 766.6h14.7v7.2H443.6zM465.57 766.6h7.38v7.2H465.57zM531.5 766.6h14.7v7.2H531.5zM758.58 766.6h7.38v7.2H758.58zM472.9 773.8h7.38v7.2H472.9zM553.48 773.8h7.38v7.2H553.48zM634.05 773.8h7.38v7.2H634.05zM663.35 773.8h14.7v7.2H663.35zM927.05 773.8h7.38v7.2H927.05zM861.12 781h29.35v7.2H861.12zM897.75 781h14.7v7.2H897.75z"/>
<path fill="#2668b4" shape-rendering="crispEdges" d="M743.93 737.8h7.38v7.2H743.93zM568.12 759.4h7.38v7.2H568.12zM656.02 759.4h7.38v7.2H656.02zM678 766.6h7.38v7.2H678zM714.62 766.6h7.38v7.2H714.62zM824.5 766.6h7.38v7.2H824.5zM890.43 766.6h7.38v7.2H890.43zM172.57 773.8h7.38v7.2H172.57zM319.08 773.8h14.7v7.2H319.08zM802.52 781h7.38v7.2H802.52zM487.55 788.2h7.38v7.2H487.55z"/>
<path fill="#273465" shape-rendering="crispEdges" d="M714.62 730.6h7.38v7.2H714.62zM187.23 752.2h14.7v7.2H187.23zM209.2 752.2h7.38v7.2H209.2zM575.45 752.2h7.38v7.2H575.45zM436.28 759.4h7.38v7.2H436.28zM670.68 759.4h7.38v7.2H670.68zM721.95 759.4h7.38v7.2H721.95zM714.62 773.8h7.38v7.2H714.62zM538.83 781h7.38v7.2H538.83zM758.58 781h14.7v7.2H758.58zM824.5 788.2h7.38v7.2H824.5zM927.05 788.2h14.7v7.2H927.05z"/>
<path fill="#dbd7f7" shape-rendering="crispEdges" d="M187.23 759.4h7.38v7.2H187.23zM216.53 759.4h7.38v7.2H216.53zM282.45 759.4h7.38v7.2H282.45zM582.78 759.4h7.38v7.2H582.78zM597.42 759.4h7.38v7.2H597.42zM472.9 766.6h7.38v7.2H472.9zM516.85 766.6h7.38v7.2H516.85zM626.73 773.8h7.38v7.2H626.73zM685.33 773.8h7.38v7.2H685.33zM487.55 781h7.38v7.2H487.55zM509.53 781h7.38v7.2H509.53zM927.05 781h7.38v7.2H927.05z"/>
<path fill="#d7d1f6" shape-rendering="crispEdges" d="M721.95 737.8h14.7v7.2H721.95zM707.3 752.2h7.38v7.2H707.3zM194.55 759.4h22.03v7.2H194.55zM370.35 759.4h7.38v7.2H370.35zM612.08 759.4h7.38v7.2H612.08zM802.52 766.6h7.38v7.2H802.52zM392.32 773.8h7.38v7.2H392.32zM443.6 773.8h7.38v7.2H443.6zM685.33 781h7.38v7.2H685.33z"/>
<path fill="#282d60" shape-rendering="crispEdges" d="M751.25 737.8h7.38v7.2H751.25zM201.88 752.2h7.38v7.2H201.88zM377.68 752.2h7.38v7.2H377.68zM480.23 759.4h7.38v7.2H480.23zM509.53 759.4h7.38v7.2H509.53zM553.48 759.4h7.38v7.2H553.48zM809.85 759.4h7.38v7.2H809.85zM494.88 766.6h7.38v7.2H494.88zM385 781h7.38v7.2H385zM450.93 781h7.38v7.2H450.93zM516.85 788.2h7.38v7.2H516.85zM670.68 788.2h7.38v7.2H670.68zM817.18 788.2h7.38v7.2H817.18z"/>
<path fill="#2465ac" shape-rendering="crispEdges" d="M721.95 752.2h7.38v7.2H721.95zM641.38 759.4h7.38v7.2H641.38zM692.65 766.6h7.38v7.2H692.65zM348.38 773.8h7.38v7.2H348.38zM436.28 781h7.38v7.2H436.28z"/>
<path fill="#bbb1f1" shape-rendering="crispEdges" d="M729.27 745h7.38v7.2H729.27zM377.68 759.4h7.38v7.2H377.68zM670.68 766.6h7.38v7.2H670.68zM502.2 773.8h7.38v7.2H502.2zM817.18 781h7.38v7.2H817.18z"/>
<path fill="#f4f3f8" shape-rendering="crispEdges" d="M377.68 766.6h14.7v7.2H377.68zM619.4 766.6h7.38v7.2H619.4zM809.85 773.8h14.7v7.2H809.85z"/>
<path fill="#9292e8" shape-rendering="crispEdges" d="M385 759.4h7.38v7.2H385zM699.98 759.4h7.38v7.2H699.98zM428.95 766.6h7.38v7.2H428.95zM377.68 773.8h7.38v7.2H377.68zM531.5 773.8h7.38v7.2H531.5zM494.88 788.2h7.38v7.2H494.88z"/>
<path fill="#2a265a" shape-rendering="crispEdges" d="M743.93 730.6h7.38v7.2H743.93zM699.98 745h7.38v7.2H699.98zM385 752.2h7.38v7.2H385zM450.93 752.2h14.7v7.2H450.93zM524.17 752.2h14.7v7.2H524.17zM619.4 752.2h22.03v7.2H619.4zM765.9 752.2h14.7v7.2H765.9zM414.3 759.4h7.38v7.2H414.3zM692.65 759.4h7.38v7.2H692.65zM817.18 759.4h7.38v7.2H817.18zM458.25 781h7.38v7.2H458.25zM575.45 781h7.38v7.2H575.45zM619.4 781h7.38v7.2H619.4zM751.25 781h7.38v7.2H751.25zM472.9 788.2h7.38v7.2H472.9zM699.98 788.2h7.38v7.2H699.98zM494.88 795.4h7.38v7.2H494.88z"/>
<path fill="#c1b7f2" shape-rendering="crispEdges" d="M575.45 759.4h7.38v7.2H575.45zM714.62 759.4h7.38v7.2H714.62zM553.48 766.6h7.38v7.2H553.48zM809.85 766.6h7.38v7.2H809.85zM385 773.8h7.38v7.2H385zM487.55 773.8h7.38v7.2H487.55zM524.17 773.8h7.38v7.2H524.17zM538.83 773.8h7.38v7.2H538.83zM773.23 773.8h14.7v7.2H773.23z"/>
<path fill="#d2cbf5" shape-rendering="crispEdges" d="M406.98 766.6h7.38v7.2H406.98zM568.12 773.8h7.38v7.2H568.12zM787.88 773.8h7.38v7.2H787.88zM480.23 781h7.38v7.2H480.23z"/>
<path fill="#aea4ee" shape-rendering="crispEdges" d="M714.62 737.8h7.38v7.2H714.62zM751.25 752.2h7.38v7.2H751.25zM619.4 759.4h7.38v7.2H619.4zM414.3 766.6h7.38v7.2H414.3zM450.93 773.8h7.38v7.2H450.93zM619.4 773.8h7.38v7.2H619.4zM707.3 773.8h7.38v7.2H707.3z"/>
<path fill="#4679ce" shape-rendering="crispEdges" d="M634.05 759.4h7.38v7.2H634.05zM421.62 766.6h7.38v7.2H421.62zM414.3 781h7.38v7.2H414.3z"/>
<path fill="#878ce6" shape-rendering="crispEdges" d="M707.3 745h7.38v7.2H707.3zM524.17 759.4h7.38v7.2H524.17zM765.9 759.4h7.38v7.2H765.9zM480.23 766.6h7.38v7.2H480.23zM509.53 766.6h7.38v7.2H509.53zM575.45 773.8h7.38v7.2H575.45zM421.62 781h7.38v7.2H421.62zM809.85 781h7.38v7.2H809.85z"/>
<path fill="#5a7fd6" shape-rendering="crispEdges" d="M538.83 759.4h7.38v7.2H538.83zM428.95 781h7.38v7.2H428.95z"/>
<path fill="#ccc4f4" shape-rendering="crispEdges" d="M721.95 745h7.38v7.2H721.95zM436.28 766.6h7.38v7.2H436.28zM678 781h7.38v7.2H678zM692.65 781h7.38v7.2H692.65zM824.5 781h7.38v7.2H824.5z"/>
<path fill="#9d97ea" shape-rendering="crispEdges" d="M450.93 759.4h7.38v7.2H450.93zM817.18 766.6h7.38v7.2H817.18zM494.88 773.8h7.38v7.2H494.88zM699.98 781h7.38v7.2H699.98z"/>
<path fill="#a79dec" shape-rendering="crispEdges" d="M458.25 759.4h7.38v7.2H458.25zM531.5 759.4h7.38v7.2H531.5zM743.93 766.6h7.38v7.2H743.93zM458.25 773.8h7.38v7.2H458.25zM670.68 781h7.38v7.2H670.68z"/>
<path fill="#7086de" shape-rendering="crispEdges" d="M465.57 759.4h7.38v7.2H465.57zM626.73 759.4h7.38v7.2H626.73zM773.23 759.4h7.38v7.2H773.23zM751.25 773.8h7.38v7.2H751.25zM472.9 781h7.38v7.2H472.9zM516.85 781h7.38v7.2H516.85zM502.2 788.2h7.38v7.2H502.2z"/>
<path fill="#c7bef3" shape-rendering="crispEdges" d="M736.6 737.8h7.38v7.2H736.6zM743.93 745h7.38v7.2H743.93zM736.6 752.2h7.38v7.2H736.6zM560.8 766.6h7.38v7.2H560.8zM465.57 773.8h7.38v7.2H465.57z"/>
<path fill="#3b73c6" shape-rendering="crispEdges" d="M736.6 759.4h7.38v7.2H736.6zM780.55 759.4h7.38v7.2H780.55z"/>
<path fill="#b4aaef" shape-rendering="crispEdges" d="M758.58 759.4h7.38v7.2H758.58zM758.58 773.8h14.7v7.2H758.58z"/>
</g></g>
<path d="M334.4 764L355.4 785M355.4 764L334.4 785" stroke="#ee1c2c" stroke-width="2.2" fill="none"/>
<circle cx="422.7" cy="779.1" r="6.1" fill="#0d7a80" stroke="#111" stroke-width="1.9"/>
<circle cx="460.7" cy="772.8" r="6.1" fill="#8b0a30" stroke="#111" stroke-width="1.9"/>
<circle cx="498.3" cy="784.6" r="6.1" fill="#0a9a0a" stroke="#111" stroke-width="1.9"/>
<circle cx="536" cy="769.4" r="6.1" fill="#2200ee" stroke="#111" stroke-width="1.9"/>
<circle cx="563.5" cy="778.5" r="6.1" fill="#ffa500" stroke="#111" stroke-width="1.9"/>
<text x="78.2" y="737.8" font-size="23.5" text-anchor="end">1</text>
<line x1="92" y1="774.8" x2="101" y2="774.8" stroke="#000" stroke-width="1.6"/>
<text transform="translate(78.2 784.8) scale(1.120 1)" font-size="23.5" text-anchor="end">0</text>
<line x1="92" y1="821.8" x2="101" y2="821.8" stroke="#000" stroke-width="1.6"/>
<text x="78.2" y="831.8" font-size="23.5" text-anchor="end">–1</text>
<line x1="184" y1="856.8" x2="184" y2="847.8" stroke="#000" stroke-width="1.6"/>
<line x1="300.5" y1="856.8" x2="300.5" y2="847.8" stroke="#000" stroke-width="1.6"/>
<line x1="417" y1="856.8" x2="417" y2="847.8" stroke="#000" stroke-width="1.6"/>
<line x1="533.5" y1="856.8" x2="533.5" y2="847.8" stroke="#000" stroke-width="1.6"/>
<line x1="650" y1="856.8" x2="650" y2="847.8" stroke="#000" stroke-width="1.6"/>
<line x1="766.5" y1="856.8" x2="766.5" y2="847.8" stroke="#000" stroke-width="1.6"/>
<line x1="883" y1="856.8" x2="883" y2="847.8" stroke="#000" stroke-width="1.6"/>
<rect x="92.7" y="691.8" width="877.9" height="165" fill="none" stroke="#000" stroke-width="1.8"/>
<text transform="translate(98.6 728.2) scale(1.070 1)" font-size="40" stroke="#fff" stroke-width="1.1" fill="#fff" font-weight="bold">d</text>
<text x="154.5" y="836.8" font-size="26.5" fill="#fff"><tspan font-style="italic">t</tspan> = 1,400 s</text>
<text transform="translate(22.8 772.8) rotate(-90) scale(0.965 1)" font-size="26" text-anchor="middle"><tspan font-style="italic">Z</tspan> (R<tspan font-size="0.7em" dy="0.45em">E</tspan><tspan dy="-0.315em">)</tspan></text>
<rect x="92" y="871.5" width="879" height="165" fill="#30184e"/>
<g clip-path="url(#cp4)"><g filter="url(#soft)">
<path fill="#2e1b50" shape-rendering="crispEdges" d="M692.65 910.3h7.38v7.2H692.65zM736.6 910.3h7.38v7.2H736.6zM92 924.7h58.65v7.2H92zM157.93 924.7h14.7v7.2H157.93zM209.2 924.7h65.98v7.2H209.2zM282.45 924.7h7.38v7.2H282.45zM311.75 924.7h7.38v7.2H311.75zM582.78 924.7h29.35v7.2H582.78zM626.73 924.7h7.38v7.2H626.73zM648.7 924.7h22.03v7.2H648.7zM758.58 924.7h7.38v7.2H758.58zM392.32 931.9h14.7v7.2H392.32zM428.95 931.9h87.95v7.2H428.95zM560.8 931.9h7.38v7.2H560.8zM773.23 931.9h7.38v7.2H773.23zM883.1 931.9h51.33v7.2H883.1zM524.17 939.1h7.38v7.2H524.17zM553.48 939.1h7.38v7.2H553.48zM787.88 939.1h22.03v7.2H787.88zM817.18 939.1h14.7v7.2H817.18zM853.8 939.1h14.7v7.2H853.8zM707.3 946.3h7.38v7.2H707.3zM736.6 953.5h7.38v7.2H736.6zM150.6 960.7h14.7v7.2H150.6zM172.57 960.7h36.67v7.2H172.57zM678 960.7h7.38v7.2H678zM743.93 960.7h7.38v7.2H743.93zM355.7 967.9h65.98v7.2H355.7zM480.23 967.9h29.35v7.2H480.23zM575.45 967.9h7.38v7.2H575.45zM758.58 967.9h7.38v7.2H758.58zM890.43 967.9h36.67v7.2H890.43zM509.53 975.1h7.38v7.2H509.53zM773.23 975.1h22.03v7.2H773.23zM824.5 975.1h7.38v7.2H824.5zM853.8 975.1h22.03v7.2H853.8zM531.5 989.5h7.38v7.2H531.5zM553.48 989.5h7.38v7.2H553.48z"/>
<path fill="#22487b" shape-rendering="crispEdges" d="M92 931.9h29.35v7.2H92zM231.18 931.9h29.35v7.2H231.18zM392.32 939.1h7.38v7.2H392.32zM487.55 939.1h7.38v7.2H487.55zM883.1 939.1h7.38v7.2H883.1zM905.08 939.1h7.38v7.2H905.08zM919.73 939.1h7.38v7.2H919.73zM787.88 946.3h7.38v7.2H787.88zM853.8 946.3h14.7v7.2H853.8zM406.98 960.7h7.38v7.2H406.98zM494.88 960.7h7.38v7.2H494.88zM758.58 960.7h7.38v7.2H758.58zM905.08 960.7h7.38v7.2H905.08zM919.73 960.7h7.38v7.2H919.73zM824.5 967.9h7.38v7.2H824.5zM861.12 967.9h7.38v7.2H861.12zM560.8 975.1h7.38v7.2H560.8z"/>
<path fill="#e0dcf7" shape-rendering="crispEdges" d="M736.6 931.9h7.38v7.2H736.6zM92 939.1h36.67v7.2H92zM135.95 939.1h7.38v7.2H135.95zM216.53 939.1h14.7v7.2H216.53zM238.5 939.1h29.35v7.2H238.5zM392.32 946.3h7.38v7.2H392.32zM480.23 946.3h7.38v7.2H480.23zM494.88 946.3h7.38v7.2H494.88zM612.08 946.3h7.38v7.2H612.08zM765.9 946.3h7.38v7.2H765.9zM883.1 946.3h7.38v7.2H883.1zM406.98 953.5h14.7v7.2H406.98zM809.85 953.5h7.38v7.2H809.85z"/>
<path fill="#f0eff8" shape-rendering="crispEdges" d="M92 946.3h58.65v7.2H92zM165.25 946.3h7.38v7.2H165.25zM209.2 946.3h95.28v7.2H209.2zM319.08 946.3h22.03v7.2H319.08zM758.58 946.3h7.38v7.2H758.58zM450.93 953.5h22.03v7.2H450.93zM934.38 953.5h7.38v7.2H934.38z"/>
<path fill="#2668b4" shape-rendering="crispEdges" d="M92 953.5h29.35v7.2H92zM238.5 953.5h36.67v7.2H238.5zM289.77 953.5h7.38v7.2H289.77zM428.95 960.7h14.7v7.2H428.95zM546.15 967.9h7.38v7.2H546.15z"/>
<path fill="#2d1e53" shape-rendering="crispEdges" d="M699.98 910.3h7.38v7.2H699.98zM685.33 917.5h7.38v7.2H685.33zM670.68 924.7h7.38v7.2H670.68zM385 931.9h7.38v7.2H385zM765.9 931.9h7.38v7.2H765.9zM780.55 939.1h7.38v7.2H780.55zM831.83 939.1h22.03v7.2H831.83zM531.5 946.3h7.38v7.2H531.5zM729.27 946.3h7.38v7.2H729.27zM538.83 953.5h14.7v7.2H538.83zM692.65 953.5h7.38v7.2H692.65zM92 960.7h14.7v7.2H92zM121.3 960.7h29.35v7.2H121.3zM165.25 960.7h7.38v7.2H165.25zM209.2 960.7h22.03v7.2H209.2zM253.15 960.7h51.33v7.2H253.15zM670.68 960.7h7.38v7.2H670.68zM421.62 967.9h22.03v7.2H421.62zM472.9 967.9h7.38v7.2H472.9zM883.1 967.9h7.38v7.2H883.1zM927.05 967.9h7.38v7.2H927.05zM568.12 975.1h7.38v7.2H568.12zM831.83 975.1h22.03v7.2H831.83zM524.17 982.3h7.38v7.2H524.17zM560.8 982.3h7.38v7.2H560.8zM538.83 989.5h14.7v7.2H538.83z"/>
<path fill="#2b2056" shape-rendering="crispEdges" d="M707.3 910.3h7.38v7.2H707.3zM729.27 910.3h7.38v7.2H729.27zM743.93 917.5h7.38v7.2H743.93zM678 924.7h7.38v7.2H678zM348.38 931.9h7.38v7.2H348.38zM370.35 931.9h14.7v7.2H370.35zM568.12 931.9h7.38v7.2H568.12zM714.62 939.1h14.7v7.2H714.62zM868.45 939.1h7.38v7.2H868.45zM949.02 939.1h22.03v7.2H949.02zM699.98 946.3h7.38v7.2H699.98zM106.65 960.7h14.7v7.2H106.65zM231.18 960.7h22.03v7.2H231.18zM304.43 960.7h7.38v7.2H304.43zM319.08 960.7h7.38v7.2H319.08zM575.45 960.7h22.03v7.2H575.45zM612.08 960.7h36.67v7.2H612.08zM656.02 960.7h14.7v7.2H656.02zM751.25 960.7h7.38v7.2H751.25zM443.6 967.9h29.35v7.2H443.6zM765.9 967.9h7.38v7.2H765.9zM875.77 967.9h7.38v7.2H875.77zM934.38 967.9h7.38v7.2H934.38zM516.85 975.1h7.38v7.2H516.85z"/>
<path fill="#244173" shape-rendering="crispEdges" d="M736.6 917.5h7.38v7.2H736.6zM685.33 924.7h7.38v7.2H685.33zM121.3 931.9h29.35v7.2H121.3zM165.25 931.9h7.38v7.2H165.25zM209.2 931.9h22.03v7.2H209.2zM260.48 931.9h14.7v7.2H260.48zM597.42 931.9h7.38v7.2H597.42zM480.23 939.1h7.38v7.2H480.23zM494.88 939.1h22.03v7.2H494.88zM729.27 939.1h7.38v7.2H729.27zM927.05 939.1h7.38v7.2H927.05zM795.2 946.3h14.7v7.2H795.2zM817.18 946.3h7.38v7.2H817.18zM531.5 953.5h7.38v7.2H531.5zM678 953.5h7.38v7.2H678zM363.03 960.7h7.38v7.2H363.03zM377.68 960.7h14.7v7.2H377.68zM399.65 960.7h7.38v7.2H399.65zM780.55 967.9h7.38v7.2H780.55zM553.48 982.3h7.38v7.2H553.48z"/>
<path fill="#2465ac" shape-rendering="crispEdges" d="M385 939.1h7.38v7.2H385zM780.55 946.3h7.38v7.2H780.55zM121.3 953.5h7.38v7.2H121.3zM216.53 953.5h14.7v7.2H216.53zM275.12 953.5h7.38v7.2H275.12zM670.68 953.5h7.38v7.2H670.68zM927.05 960.7h7.38v7.2H927.05zM538.83 982.3h14.7v7.2H538.83z"/>
<path fill="#dbd7f7" shape-rendering="crispEdges" d="M699.98 931.9h7.38v7.2H699.98zM743.93 931.9h7.38v7.2H743.93zM128.62 939.1h7.38v7.2H128.62zM143.28 939.1h36.67v7.2H143.28zM187.23 939.1h7.38v7.2H187.23zM201.88 939.1h14.7v7.2H201.88zM267.8 939.1h7.38v7.2H267.8zM399.65 946.3h7.38v7.2H399.65zM502.2 946.3h7.38v7.2H502.2zM399.65 953.5h7.38v7.2H399.65zM560.8 953.5h7.38v7.2H560.8zM524.17 960.7h7.38v7.2H524.17zM780.55 960.7h7.38v7.2H780.55zM817.18 960.7h7.38v7.2H817.18z"/>
<path fill="#2262a4" shape-rendering="crispEdges" d="M128.62 953.5h22.03v7.2H128.62zM553.48 953.5h7.38v7.2H553.48zM421.62 960.7h7.38v7.2H421.62zM472.9 960.7h7.38v7.2H472.9zM516.85 967.9h7.38v7.2H516.85zM846.48 967.9h7.38v7.2H846.48z"/>
<path fill="#253b6b" shape-rendering="crispEdges" d="M150.6 931.9h14.7v7.2H150.6zM172.57 931.9h7.38v7.2H172.57zM187.23 931.9h7.38v7.2H187.23zM201.88 931.9h7.38v7.2H201.88zM275.12 931.9h14.7v7.2H275.12zM311.75 931.9h7.38v7.2H311.75zM582.78 931.9h14.7v7.2H582.78zM604.75 931.9h7.38v7.2H604.75zM648.7 931.9h22.03v7.2H648.7zM399.65 939.1h14.7v7.2H399.65zM428.95 939.1h7.38v7.2H428.95zM443.6 939.1h36.67v7.2H443.6zM524.17 946.3h7.38v7.2H524.17zM736.6 946.3h7.38v7.2H736.6zM809.85 946.3h7.38v7.2H809.85zM370.35 960.7h7.38v7.2H370.35zM392.32 960.7h7.38v7.2H392.32zM538.83 960.7h7.38v7.2H538.83zM773.23 967.9h7.38v7.2H773.23zM787.88 967.9h7.38v7.2H787.88zM802.52 967.9h7.38v7.2H802.52zM817.18 967.9h7.38v7.2H817.18zM868.45 967.9h7.38v7.2H868.45zM531.5 982.3h7.38v7.2H531.5z"/>
<path fill="#ecebf8" shape-rendering="crispEdges" d="M150.6 946.3h14.7v7.2H150.6zM172.57 946.3h36.67v7.2H172.57zM304.43 946.3h14.7v7.2H304.43zM341.05 946.3h7.38v7.2H341.05zM634.05 946.3h29.35v7.2H634.05zM670.68 946.3h7.38v7.2H670.68zM751.25 946.3h7.38v7.2H751.25zM905.08 946.3h7.38v7.2H905.08zM428.95 953.5h22.03v7.2H428.95zM472.9 953.5h14.7v7.2H472.9zM765.9 953.5h14.7v7.2H765.9zM846.48 953.5h7.38v7.2H846.48zM905.08 953.5h7.38v7.2H905.08zM927.05 953.5h7.38v7.2H927.05zM846.48 960.7h14.7v7.2H846.48z"/>
<path fill="#1f558c" shape-rendering="crispEdges" d="M831.83 946.3h14.7v7.2H831.83zM150.6 953.5h7.38v7.2H150.6zM172.57 953.5h7.38v7.2H172.57zM187.23 953.5h7.38v7.2H187.23zM201.88 953.5h7.38v7.2H201.88zM502.2 960.7h7.38v7.2H502.2zM831.83 967.9h14.7v7.2H831.83zM853.8 967.9h7.38v7.2H853.8zM524.17 975.1h7.38v7.2H524.17z"/>
<path fill="#1e5c94" shape-rendering="crispEdges" d="M157.93 953.5h7.38v7.2H157.93z"/>
<path fill="#205f9c" shape-rendering="crispEdges" d="M743.93 924.7h7.38v7.2H743.93zM846.48 946.3h7.38v7.2H846.48zM165.25 953.5h7.38v7.2H165.25zM209.2 953.5h7.38v7.2H209.2zM883.1 960.7h7.38v7.2H883.1z"/>
<path fill="#273465" shape-rendering="crispEdges" d="M179.9 931.9h7.38v7.2H179.9zM194.55 931.9h7.38v7.2H194.55zM289.77 931.9h22.03v7.2H289.77zM612.08 931.9h7.38v7.2H612.08zM626.73 931.9h22.03v7.2H626.73zM758.58 931.9h7.38v7.2H758.58zM421.62 939.1h7.38v7.2H421.62zM436.28 939.1h7.38v7.2H436.28zM560.8 939.1h7.38v7.2H560.8zM707.3 939.1h7.38v7.2H707.3zM934.38 939.1h7.38v7.2H934.38zM355.7 960.7h7.38v7.2H355.7zM546.15 960.7h7.38v7.2H546.15zM568.12 967.9h7.38v7.2H568.12zM795.2 967.9h7.38v7.2H795.2zM809.85 967.9h7.38v7.2H809.85z"/>
<path fill="#d7d1f6" shape-rendering="crispEdges" d="M707.3 924.7h14.7v7.2H707.3zM729.27 924.7h7.38v7.2H729.27zM179.9 939.1h7.38v7.2H179.9zM194.55 939.1h7.38v7.2H194.55zM692.65 939.1h7.38v7.2H692.65zM450.93 946.3h7.38v7.2H450.93zM472.9 946.3h7.38v7.2H472.9zM927.05 946.3h7.38v7.2H927.05zM385 953.5h14.7v7.2H385zM787.88 960.7h7.38v7.2H787.88zM802.52 960.7h14.7v7.2H802.52z"/>
<path fill="#214f83" shape-rendering="crispEdges" d="M699.98 917.5h7.38v7.2H699.98zM670.68 931.9h7.38v7.2H670.68zM765.9 939.1h7.38v7.2H765.9zM890.43 939.1h14.7v7.2H890.43zM912.4 939.1h7.38v7.2H912.4zM692.65 946.3h7.38v7.2H692.65zM824.5 946.3h7.38v7.2H824.5zM179.9 953.5h7.38v7.2H179.9zM194.55 953.5h7.38v7.2H194.55zM414.3 960.7h7.38v7.2H414.3zM480.23 960.7h14.7v7.2H480.23zM890.43 960.7h14.7v7.2H890.43zM912.4 960.7h7.38v7.2H912.4z"/>
<path fill="#e4e2f8" shape-rendering="crispEdges" d="M692.65 931.9h7.38v7.2H692.65zM231.18 939.1h7.38v7.2H231.18zM670.68 939.1h7.38v7.2H670.68zM487.55 946.3h7.38v7.2H487.55zM568.12 946.3h14.7v7.2H568.12zM590.1 946.3h7.38v7.2H590.1zM604.75 946.3h7.38v7.2H604.75zM919.73 946.3h7.38v7.2H919.73zM421.62 953.5h7.38v7.2H421.62zM509.53 953.5h14.7v7.2H509.53zM780.55 953.5h29.35v7.2H780.55zM817.18 953.5h14.7v7.2H817.18zM824.5 960.7h7.38v7.2H824.5z"/>
<path fill="#316ebd" shape-rendering="crispEdges" d="M751.25 931.9h7.38v7.2H751.25zM868.45 946.3h7.38v7.2H868.45zM231.18 953.5h7.38v7.2H231.18zM282.45 953.5h7.38v7.2H282.45zM297.1 953.5h7.38v7.2H297.1zM751.25 953.5h7.38v7.2H751.25zM568.12 960.7h7.38v7.2H568.12z"/>
<path fill="#d2cbf5" shape-rendering="crispEdges" d="M699.98 924.7h7.38v7.2H699.98zM721.95 924.7h7.38v7.2H721.95zM275.12 939.1h14.7v7.2H275.12zM406.98 946.3h7.38v7.2H406.98zM443.6 946.3h7.38v7.2H443.6zM458.25 946.3h14.7v7.2H458.25zM678 946.3h7.38v7.2H678zM377.68 953.5h7.38v7.2H377.68zM568.12 953.5h7.38v7.2H568.12zM758.58 953.5h7.38v7.2H758.58zM516.85 960.7h7.38v7.2H516.85zM560.8 960.7h7.38v7.2H560.8zM795.2 960.7h7.38v7.2H795.2zM868.45 960.7h7.38v7.2H868.45z"/>
<path fill="#ccc4f4" shape-rendering="crispEdges" d="M289.77 939.1h7.38v7.2H289.77zM597.42 939.1h7.38v7.2H597.42zM648.7 939.1h7.38v7.2H648.7zM428.95 946.3h14.7v7.2H428.95zM509.53 946.3h7.38v7.2H509.53zM363.03 953.5h14.7v7.2H363.03z"/>
<path fill="#c7bef3" shape-rendering="crispEdges" d="M685.33 931.9h7.38v7.2H685.33zM297.1 939.1h7.38v7.2H297.1zM311.75 939.1h7.38v7.2H311.75zM582.78 939.1h7.38v7.2H582.78zM634.05 939.1h7.38v7.2H634.05zM656.02 939.1h14.7v7.2H656.02zM414.3 946.3h14.7v7.2H414.3zM773.23 960.7h7.38v7.2H773.23zM531.5 967.9h7.38v7.2H531.5z"/>
<path fill="#c1b7f2" shape-rendering="crispEdges" d="M736.6 924.7h7.38v7.2H736.6zM304.43 939.1h7.38v7.2H304.43zM590.1 939.1h7.38v7.2H590.1zM604.75 939.1h7.38v7.2H604.75zM626.73 939.1h7.38v7.2H626.73zM641.38 939.1h7.38v7.2H641.38zM934.38 946.3h7.38v7.2H934.38zM524.17 967.9h7.38v7.2H524.17z"/>
<path fill="#5a7fd6" shape-rendering="crispEdges" d="M678 931.9h7.38v7.2H678zM714.62 931.9h7.38v7.2H714.62zM370.35 939.1h7.38v7.2H370.35zM304.43 953.5h7.38v7.2H304.43zM582.78 953.5h14.7v7.2H582.78zM656.02 953.5h7.38v7.2H656.02zM509.53 960.7h7.38v7.2H509.53zM765.9 960.7h7.38v7.2H765.9z"/>
<path fill="#9292e8" shape-rendering="crispEdges" d="M721.95 917.5h7.38v7.2H721.95zM363.03 939.1h7.38v7.2H363.03zM685.33 946.3h7.38v7.2H685.33zM949.02 946.3h22.03v7.2H949.02zM311.75 953.5h7.38v7.2H311.75zM597.42 953.5h7.38v7.2H597.42zM560.8 967.9h7.38v7.2H560.8zM546.15 975.1h14.7v7.2H546.15z"/>
<path fill="#2a265a" shape-rendering="crispEdges" d="M721.95 910.3h7.38v7.2H721.95zM751.25 924.7h7.38v7.2H751.25zM341.05 931.9h7.38v7.2H341.05zM355.7 931.9h14.7v7.2H355.7zM575.45 931.9h7.38v7.2H575.45zM516.85 939.1h7.38v7.2H516.85zM941.7 939.1h7.38v7.2H941.7zM685.33 953.5h7.38v7.2H685.33zM311.75 960.7h7.38v7.2H311.75zM326.4 960.7h29.35v7.2H326.4zM604.75 960.7h7.38v7.2H604.75zM648.7 960.7h7.38v7.2H648.7zM509.53 967.9h7.38v7.2H509.53zM941.7 967.9h29.35v7.2H941.7z"/>
<path fill="#282d60" shape-rendering="crispEdges" d="M714.62 910.3h7.38v7.2H714.62zM692.65 917.5h7.38v7.2H692.65zM319.08 931.9h22.03v7.2H319.08zM619.4 931.9h7.38v7.2H619.4zM414.3 939.1h7.38v7.2H414.3zM773.23 939.1h7.38v7.2H773.23zM875.77 939.1h7.38v7.2H875.77zM553.48 946.3h7.38v7.2H553.48zM743.93 953.5h7.38v7.2H743.93zM597.42 960.7h7.38v7.2H597.42z"/>
<path fill="#bbb1f1" shape-rendering="crispEdges" d="M319.08 939.1h7.38v7.2H319.08zM612.08 939.1h14.7v7.2H612.08zM355.7 953.5h7.38v7.2H355.7zM553.48 967.9h7.38v7.2H553.48z"/>
<path fill="#878ce6" shape-rendering="crispEdges" d="M692.65 924.7h7.38v7.2H692.65zM348.38 939.1h14.7v7.2H348.38zM516.85 946.3h7.38v7.2H516.85zM319.08 953.5h7.38v7.2H319.08z"/>
<path fill="#b4aaef" shape-rendering="crispEdges" d="M729.27 931.9h7.38v7.2H729.27zM326.4 939.1h14.7v7.2H326.4zM875.77 946.3h7.38v7.2H875.77zM956.35 960.7h7.38v7.2H956.35z"/>
<path fill="#9d97ea" shape-rendering="crispEdges" d="M714.62 917.5h7.38v7.2H714.62zM341.05 939.1h7.38v7.2H341.05zM560.8 946.3h7.38v7.2H560.8zM743.93 946.3h7.38v7.2H743.93zM326.4 953.5h7.38v7.2H326.4zM531.5 975.1h14.7v7.2H531.5z"/>
<path fill="#aea4ee" shape-rendering="crispEdges" d="M575.45 939.1h7.38v7.2H575.45zM736.6 939.1h7.38v7.2H736.6zM758.58 939.1h7.38v7.2H758.58zM941.7 946.3h7.38v7.2H941.7zM333.73 953.5h7.38v7.2H333.73zM524.17 953.5h7.38v7.2H524.17zM941.7 960.7h14.7v7.2H941.7zM963.68 960.7h7.38v7.2H963.68z"/>
<path fill="#a79dec" shape-rendering="crispEdges" d="M707.3 931.9h7.38v7.2H707.3zM773.23 946.3h7.38v7.2H773.23zM341.05 953.5h14.7v7.2H341.05zM531.5 960.7h7.38v7.2H531.5zM553.48 960.7h7.38v7.2H553.48z"/>
<path fill="#e8e6f8" shape-rendering="crispEdges" d="M678 939.1h14.7v7.2H678zM743.93 939.1h14.7v7.2H743.93zM348.38 946.3h44v7.2H348.38zM582.78 946.3h7.38v7.2H582.78zM597.42 946.3h7.38v7.2H597.42zM619.4 946.3h14.7v7.2H619.4zM663.35 946.3h7.38v7.2H663.35zM890.43 946.3h14.7v7.2H890.43zM912.4 946.3h7.38v7.2H912.4zM487.55 953.5h22.03v7.2H487.55zM831.83 953.5h14.7v7.2H831.83zM853.8 953.5h51.33v7.2H853.8zM912.4 953.5h14.7v7.2H912.4zM831.83 960.7h14.7v7.2H831.83zM861.12 960.7h7.38v7.2H861.12z"/>
<path fill="#3b73c6" shape-rendering="crispEdges" d="M721.95 931.9h7.38v7.2H721.95zM377.68 939.1h7.38v7.2H377.68zM699.98 939.1h7.38v7.2H699.98zM575.45 953.5h7.38v7.2H575.45zM612.08 953.5h14.7v7.2H612.08zM641.38 953.5h7.38v7.2H641.38zM443.6 960.7h7.38v7.2H443.6zM465.57 960.7h7.38v7.2H465.57z"/>
<path fill="#4679ce" shape-rendering="crispEdges" d="M707.3 917.5h7.38v7.2H707.3zM729.27 917.5h7.38v7.2H729.27zM568.12 939.1h7.38v7.2H568.12zM626.73 953.5h14.7v7.2H626.73zM663.35 953.5h7.38v7.2H663.35zM450.93 960.7h14.7v7.2H450.93z"/>
<path fill="#7086de" shape-rendering="crispEdges" d="M604.75 953.5h7.38v7.2H604.75zM648.7 953.5h7.38v7.2H648.7zM875.77 960.7h7.38v7.2H875.77zM934.38 960.7h7.38v7.2H934.38zM538.83 967.9h7.38v7.2H538.83z"/>
<path fill="#f4f3f8" shape-rendering="crispEdges" d="M941.7 953.5h29.35v7.2H941.7z"/>
</g></g>
<text x="78.2" y="917.5" font-size="23.5" text-anchor="end">1</text>
<line x1="92" y1="954.5" x2="101" y2="954.5" stroke="#000" stroke-width="1.6"/>
<text transform="translate(78.2 964.5) scale(1.120 1)" font-size="23.5" text-anchor="end">0</text>
<line x1="92" y1="1001.5" x2="101" y2="1001.5" stroke="#000" stroke-width="1.6"/>
<text x="78.2" y="1011.5" font-size="23.5" text-anchor="end">–1</text>
<line x1="184" y1="1036.5" x2="184" y2="1027.5" stroke="#000" stroke-width="1.6"/>
<line x1="300.5" y1="1036.5" x2="300.5" y2="1027.5" stroke="#000" stroke-width="1.6"/>
<line x1="417" y1="1036.5" x2="417" y2="1027.5" stroke="#000" stroke-width="1.6"/>
<line x1="533.5" y1="1036.5" x2="533.5" y2="1027.5" stroke="#000" stroke-width="1.6"/>
<line x1="650" y1="1036.5" x2="650" y2="1027.5" stroke="#000" stroke-width="1.6"/>
<line x1="766.5" y1="1036.5" x2="766.5" y2="1027.5" stroke="#000" stroke-width="1.6"/>
<line x1="883" y1="1036.5" x2="883" y2="1027.5" stroke="#000" stroke-width="1.6"/>
<rect x="92.7" y="871.5" width="877.9" height="165" fill="none" stroke="#000" stroke-width="1.8"/>
<text transform="translate(100 910) scale(1.070 1)" font-size="40" stroke="#fff" stroke-width="1.1" fill="#fff" font-weight="bold">e</text>
<text x="154.5" y="1016.5" font-size="26.5" fill="#fff"><tspan font-style="italic">t</tspan> = 1,447 s</text>
<text transform="translate(22.8 952.5) rotate(-90) scale(0.965 1)" font-size="26" text-anchor="middle"><tspan font-style="italic">Z</tspan> (R<tspan font-size="0.7em" dy="0.45em">E</tspan><tspan dy="-0.315em">)</tspan></text>
<text x="184" y="1069.2" font-size="23" text-anchor="middle">−8</text>
<text x="300.5" y="1069.2" font-size="23" text-anchor="middle">−5</text>
<text x="417" y="1069.2" font-size="23" text-anchor="middle">−2</text>
<text x="533.5" y="1069.2" font-size="23" text-anchor="middle">0</text>
<text x="650" y="1069.2" font-size="23" text-anchor="middle">2</text>
<text x="766.5" y="1069.2" font-size="23" text-anchor="middle">5</text>
<text x="883" y="1069.2" font-size="23" text-anchor="middle">8</text>
<text transform="translate(532.5 1112.5) scale(0.930 1)" font-size="26.5" text-anchor="middle"><tspan font-style="italic">Y</tspan> (R<tspan font-size="0.7em" dy="0.45em">E</tspan><tspan dy="-0.315em">)</tspan></text>
<text transform="translate(1148 35.9) scale(1.037 1)" font-size="27">log<tspan font-size="0.66em" dy="0.45em">10</tspan><tspan dy="-0.297em">(</tspan><tspan font-style="italic">f</tspan>(<tspan font-style="italic">v</tspan><tspan font-size="0.66em" dy="0.45em">y</tspan><tspan dy="-0.297em">,</tspan> <tspan font-style="italic">v</tspan><tspan font-size="0.66em" dy="0.45em">z</tspan><tspan dy="-0.297em">)</tspan>) (m<tspan font-size="0.66em" dy="-0.73em">−5</tspan><tspan dy="0.482em"> </tspan>s<tspan font-size="0.66em" dy="-0.73em">2</tspan><tspan dy="0.482em">)</tspan></text>
<rect x="1184" y="124.4" width="193.5" height="10.3" fill="url(#gjet)" stroke="#222" stroke-width="1.2"/>
<line x1="1184.6" y1="115.4" x2="1184.6" y2="124.4" stroke="#222" stroke-width="1.3"/>
<line x1="1313.9" y1="115.4" x2="1313.9" y2="124.4" stroke="#444" stroke-width="1.3"/>
<text x="1164.6" y="104.4" font-size="22">10<tspan font-size="0.63em" dy="-0.87em">−10</tspan></text>
<text x="1297.7" y="104.4" font-size="22">10<tspan font-size="0.63em" dy="-0.87em">−8</tspan></text>
<g clip-path="url(#clipm0)">
<path d="M1308.1 158.6C1310.83 158.35 1317.65 159.73 1323.4 161.5C1329.15 163.27 1336.52 165.68 1342.6 169.2C1348.68 172.72 1354.78 177.48 1359.9 182.6C1365.02 187.72 1369.78 193.18 1373.3 199.9C1376.82 206.62 1379.22 215.23 1381 222.9C1382.78 230.57 1383.5 237.27 1384 245.9C1384.5 254.53 1384.82 265.12 1384 274.7C1383.18 284.28 1381.52 294.77 1379.1 303.4C1376.68 312.03 1373.67 319.47 1369.5 326.5C1365.33 333.53 1359.53 340.48 1354.1 345.6C1348.67 350.72 1342.65 354.32 1336.9 357.2C1331.15 360.08 1324.4 362.58 1319.6 362.9C1314.8 363.22 1310.02 361.33 1308.1 359.1C1306.18 356.87 1305.87 354.3 1308.1 349.5C1310.33 344.7 1318.15 337.02 1321.5 330.3C1324.85 323.58 1326.6 316.23 1328.2 309.2C1329.8 302.17 1330.93 293.85 1331.1 288.1C1331.27 282.35 1330.8 278.53 1329.2 274.7C1327.6 270.87 1323.1 267.82 1321.5 265.1C1319.9 262.38 1318 261.6 1319.6 258.4C1321.2 255.2 1328.87 250.53 1331.1 245.9C1333.33 241.27 1333.15 237 1333 230.6C1332.85 224.2 1331.8 214.53 1330.2 207.5C1328.6 200.47 1326.12 194.47 1323.4 188.4C1320.68 182.33 1316.63 175.33 1313.9 171.1C1311.17 166.87 1307.97 165.08 1307 163C1306.03 160.92 1305.37 158.85 1308.1 158.6Z" fill="url(#rfc)"/>
<path d="M1252.5 200.8C1258.9 199.03 1266.92 200.63 1271.7 200.8C1276.48 200.97 1277.68 201.15 1281.2 201.8C1284.72 202.45 1288.95 203.1 1292.8 204.7C1296.65 206.3 1301.12 207.73 1304.3 211.4C1307.48 215.07 1309.98 221.9 1311.9 226.7C1313.82 231.5 1314.83 235.72 1315.8 240.2C1316.77 244.68 1317.87 249.62 1317.7 253.6C1317.53 257.58 1314.8 261.55 1314.8 264.1C1314.8 266.65 1317.22 266.18 1317.7 268.9C1318.18 271.62 1318.67 275.28 1317.7 280.4C1316.73 285.52 1314.47 293.83 1311.9 299.6C1309.33 305.37 1306.77 311 1302.3 315C1297.83 319 1290.85 322 1285.1 323.6C1279.35 325.2 1273.55 324.92 1267.8 324.6C1262.05 324.28 1256.35 323.95 1250.6 321.7C1244.85 319.45 1238.42 315.42 1233.3 311.1C1228.18 306.78 1223.42 300.92 1219.9 295.8C1216.38 290.68 1213.97 285.83 1212.2 280.4C1210.43 274.97 1209.13 269.27 1209.3 263.2C1209.47 257.13 1211.43 250.08 1213.2 244C1214.97 237.92 1216.55 232.13 1219.9 226.7C1223.25 221.27 1227.87 215.72 1233.3 211.4C1238.73 207.08 1246.1 202.57 1252.5 200.8Z" fill="url(#rf)"/>
<g clip-path="url(#cf)"><rect x="1200" y="195" width="130" height="135" fill="url(#rf_h1)"/><rect x="1200" y="195" width="130" height="135" fill="url(#rf_h2)"/><rect x="1200" y="195" width="130" height="135" fill="url(#rf_w)"/></g>
<line x1="1193" y1="157.4" x2="1193" y2="367.4" stroke="#8c8c8c" stroke-width="2.6"/>
<line x1="1279" y1="157.4" x2="1279" y2="367.4" stroke="#8c8c8c" stroke-width="2.6"/>
<line x1="1364.7" y1="157.4" x2="1364.7" y2="367.4" stroke="#8c8c8c" stroke-width="2.6"/>
<line x1="1174.5" y1="177.2" x2="1383.5" y2="177.2" stroke="#8c8c8c" stroke-width="2.6"/>
<line x1="1174.5" y1="262.7" x2="1383.5" y2="262.7" stroke="#8c8c8c" stroke-width="2.6"/>
<line x1="1174.5" y1="348.1" x2="1383.5" y2="348.1" stroke="#8c8c8c" stroke-width="2.6"/>
</g>
<rect x="1174.5" y="157.4" width="209" height="210" fill="none" stroke="#1a1a1a" stroke-width="1.4"/>
<line x1="1162.4" y1="177.2" x2="1174.5" y2="177.2" stroke="#1a1a1a" stroke-width="1.3"/>
<text transform="translate(1147.6 186.7) scale(1.080 1)" font-size="24" text-anchor="end">2,000</text>
<line x1="1162.4" y1="262.7" x2="1174.5" y2="262.7" stroke="#1a1a1a" stroke-width="1.3"/>
<text transform="translate(1147.6 272.2) scale(1.120 1)" font-size="24" text-anchor="end">0</text>
<line x1="1162.4" y1="348.1" x2="1174.5" y2="348.1" stroke="#1a1a1a" stroke-width="1.3"/>
<text transform="translate(1147.6 357.6) scale(1.080 1)" font-size="24" text-anchor="end">–2,000</text>
<line x1="1193" y1="367.4" x2="1193" y2="374.4" stroke="#1a1a1a" stroke-width="1.3"/>
<line x1="1279" y1="367.4" x2="1279" y2="374.4" stroke="#1a1a1a" stroke-width="1.3"/>
<line x1="1364.7" y1="367.4" x2="1364.7" y2="374.4" stroke="#1a1a1a" stroke-width="1.3"/>
<text x="1194.8" y="345" font-size="16.5"><tspan font-style="italic">t</tspan> = 1,340 s</text>
<text x="1021" y="174.5" font-size="39" font-weight="bold" stroke="#000" stroke-width="1.1">f</text>
<text transform="translate(1042.5 258.9) rotate(-90) scale(1.020 1)" font-size="26" text-anchor="middle"><tspan font-style="italic" font-size="1.08em">ν</tspan><tspan font-size="0.66em" dy="0.45em">z</tspan><tspan dy="-0.297em"> </tspan>(km s<tspan font-size="0.66em" dy="-0.73em">−1</tspan><tspan dy="0.482em">)</tspan></text>
<g clip-path="url(#clipm1)">
<path d="M1260.1 423.6C1265.22 422.57 1271.95 422.55 1277.4 423.2C1282.85 423.85 1288.32 426.47 1292.8 427.5C1297.28 428.53 1302.07 430.37 1304.3 429.4C1306.53 428.43 1306.37 424.42 1306.2 421.7C1306.03 418.98 1302.67 415.33 1303.3 413.1C1303.93 410.87 1306.65 408.62 1310 408.3C1313.35 407.98 1318.6 409.6 1323.4 411.2C1328.2 412.8 1334 414.87 1338.8 417.9C1343.6 420.93 1348.37 425.25 1352.2 429.4C1356.03 433.55 1359.57 438.33 1361.8 442.8C1364.03 447.27 1364.63 450.77 1365.6 456.2C1366.57 461.63 1367.43 469 1367.6 475.4C1367.77 481.8 1367.57 488.2 1366.6 494.6C1365.63 501 1363.88 507.73 1361.8 513.8C1359.72 519.87 1357.3 525.88 1354.1 531C1350.9 536.12 1347.07 540.5 1342.6 544.5C1338.13 548.5 1332.42 552.45 1327.3 555C1322.18 557.55 1317.02 558.83 1311.9 559.8C1306.78 560.77 1300.12 561.43 1296.6 560.8C1293.08 560.17 1291.43 558.72 1290.8 556C1290.17 553.28 1292.15 547.07 1292.8 544.5C1293.45 541.93 1296.63 541.08 1294.7 540.6C1292.77 540.12 1286 541.6 1281.2 541.6C1276.4 541.6 1271 541.4 1265.9 540.6C1260.8 539.8 1255.72 538.72 1250.6 536.8C1245.48 534.88 1239.68 532.3 1235.2 529.1C1230.72 525.9 1226.9 522.07 1223.7 517.6C1220.5 513.13 1217.75 507.42 1216 502.3C1214.25 497.18 1213.2 491.38 1213.2 486.9C1213.2 482.42 1213.93 479.23 1216 475.4C1218.07 471.57 1223.03 467.73 1225.6 463.9C1228.17 460.07 1229.48 456.55 1231.4 452.4C1233.32 448.25 1234.55 442.83 1237.1 439C1239.65 435.17 1242.87 431.97 1246.7 429.4C1250.53 426.83 1254.98 424.63 1260.1 423.6Z" fill="url(#rgc)"/>
<g clip-path="url(#cg)"><path d="M1260.1 423.6C1265.22 422.57 1271.95 422.55 1277.4 423.2C1282.85 423.85 1288.03 425.7 1292.8 427.5C1297.57 429.3 1302.3 430.58 1306 434C1309.7 437.42 1312.67 442.83 1315 448C1317.33 453.17 1319 459.33 1320 465C1321 470.67 1321.33 475.83 1321 482C1320.67 488.17 1319.83 495.67 1318 502C1316.17 508.33 1313.33 514.67 1310 520C1306.67 525.33 1302.8 530.4 1298 534C1293.2 537.6 1286.55 540.5 1281.2 541.6C1275.85 542.7 1271 541.4 1265.9 540.6C1260.8 539.8 1255.72 538.72 1250.6 536.8C1245.48 534.88 1239.68 532.3 1235.2 529.1C1230.72 525.9 1226.9 522.07 1223.7 517.6C1220.5 513.13 1217.75 507.42 1216 502.3C1214.25 497.18 1213.2 491.38 1213.2 486.9C1213.2 482.42 1213.93 479.23 1216 475.4C1218.07 471.57 1223.03 467.73 1225.6 463.9C1228.17 460.07 1229.48 456.55 1231.4 452.4C1233.32 448.25 1234.55 442.83 1237.1 439C1239.65 435.17 1242.87 431.97 1246.7 429.4C1250.53 426.83 1254.98 424.63 1260.1 423.6Z" fill="url(#rg)"/><rect x="1200" y="410" width="130" height="140" fill="url(#rg_h1)"/><rect x="1200" y="410" width="130" height="140" fill="url(#rg_h2)"/><rect x="1200" y="410" width="130" height="140" fill="url(#rg_w)"/></g>
<line x1="1193" y1="374.1" x2="1193" y2="584.1" stroke="#8c8c8c" stroke-width="2.6"/>
<line x1="1279" y1="374.1" x2="1279" y2="584.1" stroke="#8c8c8c" stroke-width="2.6"/>
<line x1="1364.7" y1="374.1" x2="1364.7" y2="584.1" stroke="#8c8c8c" stroke-width="2.6"/>
<line x1="1174.5" y1="393.9" x2="1383.5" y2="393.9" stroke="#8c8c8c" stroke-width="2.6"/>
<line x1="1174.5" y1="479.4" x2="1383.5" y2="479.4" stroke="#8c8c8c" stroke-width="2.6"/>
<line x1="1174.5" y1="564.8" x2="1383.5" y2="564.8" stroke="#8c8c8c" stroke-width="2.6"/>
<circle cx="1288.5" cy="479.6" r="34.5" fill="none" stroke="#ff1414" stroke-width="3.4" stroke-dasharray="11.8 5.6"/>
<path d="M1281.9 473L1295.1 486.2M1295.1 473L1281.9 486.2" stroke="#ff1212" stroke-width="3.6"/>
</g>
<rect x="1174.5" y="374.1" width="209" height="210" fill="none" stroke="#1a1a1a" stroke-width="1.4"/>
<line x1="1162.4" y1="393.9" x2="1174.5" y2="393.9" stroke="#1a1a1a" stroke-width="1.3"/>
<text transform="translate(1147.6 403.4) scale(1.080 1)" font-size="24" text-anchor="end">2,000</text>
<line x1="1162.4" y1="479.4" x2="1174.5" y2="479.4" stroke="#1a1a1a" stroke-width="1.3"/>
<text transform="translate(1147.6 488.9) scale(1.120 1)" font-size="24" text-anchor="end">0</text>
<line x1="1162.4" y1="564.8" x2="1174.5" y2="564.8" stroke="#1a1a1a" stroke-width="1.3"/>
<text transform="translate(1147.6 574.3) scale(1.080 1)" font-size="24" text-anchor="end">–2,000</text>
<line x1="1193" y1="584.1" x2="1193" y2="591.1" stroke="#1a1a1a" stroke-width="1.3"/>
<line x1="1279" y1="584.1" x2="1279" y2="591.1" stroke="#1a1a1a" stroke-width="1.3"/>
<line x1="1364.7" y1="584.1" x2="1364.7" y2="591.1" stroke="#1a1a1a" stroke-width="1.3"/>
<text x="1194.8" y="561.7" font-size="16.5"><tspan font-style="italic">t</tspan> = 1,360 s</text>
<text x="1015.5" y="396.5" font-size="39" font-weight="bold" stroke="#000" stroke-width="1.1">g</text>
<text transform="translate(1042.5 475.6) rotate(-90) scale(1.020 1)" font-size="26" text-anchor="middle"><tspan font-style="italic" font-size="1.08em">ν</tspan><tspan font-size="0.66em" dy="0.45em">z</tspan><tspan dy="-0.297em"> </tspan>(km s<tspan font-size="0.66em" dy="-0.73em">−1</tspan><tspan dy="0.482em">)</tspan></text>
<g clip-path="url(#clipm2)">
<path d="M1290.8 624.4C1296.55 624.5 1302.02 624.15 1308.1 625.9C1314.18 627.65 1321.55 631 1327.3 634.9C1333.05 638.8 1338.13 643.7 1342.6 649.3C1347.07 654.9 1351.38 661.78 1354.1 668.5C1356.82 675.22 1358.25 682.57 1358.9 689.6C1359.55 696.63 1359.12 703.67 1358 710.7C1356.88 717.73 1355.4 724.77 1352.2 731.8C1349 738.83 1344.23 746.83 1338.8 752.9C1333.37 758.97 1326.63 764.53 1319.6 768.2C1312.57 771.87 1303.63 774.1 1296.6 774.9C1289.57 775.7 1284.43 774.75 1277.4 773C1270.37 771.25 1261.43 768.4 1254.4 764.4C1247.37 760.4 1240.63 755.08 1235.2 749C1229.77 742.92 1225 735.25 1221.8 727.9C1218.6 720.55 1216.8 712.57 1216 704.9C1215.2 697.23 1215.4 688.93 1217 681.9C1218.6 674.87 1221.93 668.77 1225.6 662.7C1229.27 656.63 1233.88 650.62 1239 645.5C1244.12 640.38 1250.53 635.37 1256.3 632C1262.07 628.63 1267.85 626.57 1273.6 625.3C1279.35 624.03 1285.05 624.3 1290.8 624.4Z" fill="url(#rh)"/>
<circle cx="1263" cy="693" r="10" fill="url(#rh2)"/>
<line x1="1193" y1="592.2" x2="1193" y2="802.2" stroke="#8c8c8c" stroke-width="2.6"/>
<line x1="1279" y1="592.2" x2="1279" y2="802.2" stroke="#8c8c8c" stroke-width="2.6"/>
<line x1="1364.7" y1="592.2" x2="1364.7" y2="802.2" stroke="#8c8c8c" stroke-width="2.6"/>
<line x1="1174.5" y1="612" x2="1383.5" y2="612" stroke="#8c8c8c" stroke-width="2.6"/>
<line x1="1174.5" y1="697.5" x2="1383.5" y2="697.5" stroke="#8c8c8c" stroke-width="2.6"/>
<line x1="1174.5" y1="782.9" x2="1383.5" y2="782.9" stroke="#8c8c8c" stroke-width="2.6"/>
<circle cx="1288.9" cy="697.6" r="36" fill="none" stroke="#ff1414" stroke-width="3.4" stroke-dasharray="11.8 5.6"/>
<path d="M1282.3 691L1295.5 704.2M1295.5 691L1282.3 704.2" stroke="#ff1212" stroke-width="3.6"/>
</g>
<rect x="1174.5" y="592.2" width="209" height="210" fill="none" stroke="#1a1a1a" stroke-width="1.4"/>
<line x1="1162.4" y1="612" x2="1174.5" y2="612" stroke="#1a1a1a" stroke-width="1.3"/>
<text transform="translate(1147.6 621.5) scale(1.080 1)" font-size="24" text-anchor="end">2,000</text>
<line x1="1162.4" y1="697.5" x2="1174.5" y2="697.5" stroke="#1a1a1a" stroke-width="1.3"/>
<text transform="translate(1147.6 707) scale(1.120 1)" font-size="24" text-anchor="end">0</text>
<line x1="1162.4" y1="782.9" x2="1174.5" y2="782.9" stroke="#1a1a1a" stroke-width="1.3"/>
<text transform="translate(1147.6 792.4) scale(1.080 1)" font-size="24" text-anchor="end">–2,000</text>
<line x1="1193" y1="802.2" x2="1193" y2="809.2" stroke="#1a1a1a" stroke-width="1.3"/>
<line x1="1279" y1="802.2" x2="1279" y2="809.2" stroke="#1a1a1a" stroke-width="1.3"/>
<line x1="1364.7" y1="802.2" x2="1364.7" y2="809.2" stroke="#1a1a1a" stroke-width="1.3"/>
<text x="1194.8" y="779.8" font-size="16.5"><tspan font-style="italic">t</tspan> = 1,380 s</text>
<text x="1016" y="614.4" font-size="39" font-weight="bold" stroke="#000" stroke-width="1.1">h</text>
<text transform="translate(1042.5 693.7) rotate(-90) scale(1.020 1)" font-size="26" text-anchor="middle"><tspan font-style="italic" font-size="1.08em">ν</tspan><tspan font-size="0.66em" dy="0.45em">z</tspan><tspan dy="-0.297em"> </tspan>(km s<tspan font-size="0.66em" dy="-0.73em">−1</tspan><tspan dy="0.482em">)</tspan></text>
<g clip-path="url(#clipm3)">
<path d="M1277.4 827C1280.28 824.93 1283.17 823.2 1287 823.2C1290.83 823.2 1296.25 825.4 1300.4 827C1304.55 828.6 1309.82 831.03 1311.9 832.8C1313.98 834.57 1312.9 835.05 1312.9 837.6C1312.9 840.15 1310.47 844.43 1311.9 848.1C1313.33 851.77 1318.62 855.12 1321.5 859.6C1324.38 864.08 1327.28 869.88 1329.2 875C1331.12 880.12 1332.03 884.55 1333 890.3C1333.97 896.05 1334.35 903.1 1335 909.5C1335.65 915.9 1336.9 922.63 1336.9 928.7C1336.9 934.77 1336.28 940.15 1335 945.9C1333.72 951.65 1332.4 958.08 1329.2 963.2C1326 968.32 1320.6 972.92 1315.8 976.6C1311 980.28 1305.83 983.22 1300.4 985.3C1294.97 987.38 1288.95 988.78 1283.2 989.1C1277.45 989.42 1271.98 988.97 1265.9 987.2C1259.82 985.43 1252.45 982.18 1246.7 978.5C1240.95 974.82 1234.92 969.88 1231.4 965.1C1227.88 960.32 1226.57 954.6 1225.6 949.8C1224.63 945 1224.95 940.13 1225.6 936.3C1226.25 932.47 1228.85 930.95 1229.5 926.8C1230.15 922.65 1229.98 916.52 1229.5 911.4C1229.02 906.28 1227.08 901.22 1226.6 896.1C1226.12 890.98 1225.8 886.13 1226.6 880.7C1227.4 875.27 1228.68 868.62 1231.4 863.5C1234.12 858.38 1238.75 853.52 1242.9 850C1247.05 846.48 1251.83 844.8 1256.3 842.4C1260.77 840 1266.18 838.17 1269.7 835.6C1273.22 833.03 1274.52 829.07 1277.4 827Z" fill="url(#ri)"/>
<circle cx="1256" cy="904" r="16" fill="url(#ri2)"/>
<circle cx="1270" cy="913" r="8" fill="url(#ri3)"/>
<line x1="1193" y1="810" x2="1193" y2="1020" stroke="#8c8c8c" stroke-width="2.6"/>
<line x1="1279" y1="810" x2="1279" y2="1020" stroke="#8c8c8c" stroke-width="2.6"/>
<line x1="1364.7" y1="810" x2="1364.7" y2="1020" stroke="#8c8c8c" stroke-width="2.6"/>
<line x1="1174.5" y1="829.8" x2="1383.5" y2="829.8" stroke="#8c8c8c" stroke-width="2.6"/>
<line x1="1174.5" y1="915.3" x2="1383.5" y2="915.3" stroke="#8c8c8c" stroke-width="2.6"/>
<line x1="1174.5" y1="1000.7" x2="1383.5" y2="1000.7" stroke="#8c8c8c" stroke-width="2.6"/>
<circle cx="1283.5" cy="915.8" r="33.6" fill="none" stroke="#ff1414" stroke-width="3.4" stroke-dasharray="11.8 5.6"/>
<path d="M1276.9 909.2L1290.1 922.4M1290.1 909.2L1276.9 922.4" stroke="#ff1212" stroke-width="3.6"/>
</g>
<rect x="1174.5" y="810" width="209" height="210" fill="none" stroke="#1a1a1a" stroke-width="1.4"/>
<line x1="1162.4" y1="829.8" x2="1174.5" y2="829.8" stroke="#1a1a1a" stroke-width="1.3"/>
<text transform="translate(1147.6 839.3) scale(1.080 1)" font-size="24" text-anchor="end">2,000</text>
<line x1="1162.4" y1="915.3" x2="1174.5" y2="915.3" stroke="#1a1a1a" stroke-width="1.3"/>
<text transform="translate(1147.6 924.8) scale(1.120 1)" font-size="24" text-anchor="end">0</text>
<line x1="1162.4" y1="1000.7" x2="1174.5" y2="1000.7" stroke="#1a1a1a" stroke-width="1.3"/>
<text transform="translate(1147.6 1010.2) scale(1.080 1)" font-size="24" text-anchor="end">–2,000</text>
<line x1="1193" y1="1020" x2="1193" y2="1031" stroke="#1a1a1a" stroke-width="1.3"/>
<line x1="1279" y1="1020" x2="1279" y2="1031" stroke="#1a1a1a" stroke-width="1.3"/>
<line x1="1364.7" y1="1020" x2="1364.7" y2="1031" stroke="#1a1a1a" stroke-width="1.3"/>
<text x="1194.8" y="997.6" font-size="16.5"><tspan font-style="italic">t</tspan> = 1,400 s</text>
<text x="1022.8" y="835.8" font-size="39" font-weight="bold" stroke="#000" stroke-width="1.1">i</text>
<text transform="translate(1042.5 911.5) rotate(-90) scale(1.020 1)" font-size="26" text-anchor="middle"><tspan font-style="italic" font-size="1.08em">ν</tspan><tspan font-size="0.66em" dy="0.45em">z</tspan><tspan dy="-0.297em"> </tspan>(km s<tspan font-size="0.66em" dy="-0.73em">−1</tspan><tspan dy="0.482em">)</tspan></text>
<text transform="translate(1192.1 1062.9) scale(1.080 1)" font-size="24" text-anchor="middle">–2,000</text>
<text transform="translate(1277.9 1062.9) scale(1.120 1)" font-size="24" text-anchor="middle">0</text>
<text transform="translate(1361.8 1062.9) scale(1.080 1)" font-size="24" text-anchor="middle">2,000</text>
<text transform="translate(1279 1109.6) scale(1.030 1)" font-size="26" text-anchor="middle"><tspan font-style="italic" font-size="1.08em">ν</tspan><tspan font-size="0.66em" dy="0.45em">y</tspan><tspan dy="-0.297em"> </tspan>(km s<tspan font-size="0.66em" dy="-0.73em">−1</tspan><tspan dy="0.482em">)</tspan></text>
<text transform="translate(1859.3 48.5) scale(1.060 1)" font-size="27.5" text-anchor="middle">Extremum position</text>
<text x="1450" y="40.3" font-size="39" font-weight="bold" stroke="#000" stroke-width="1.1">j</text>
<g clip-path="url(#clipj)">
<line x1="1583.7" y1="306.38" x2="2069.99" y2="66.46" stroke="#ffa500" stroke-width="1.5" stroke-dasharray="6 3.2"/>
<line x1="1583.7" y1="399.57" x2="2137.2" y2="97.88" stroke="#0000ff" stroke-width="1.5" stroke-dasharray="6 3.2"/>
<line x1="1591.61" y1="508.97" x2="2137.2" y2="128.31" stroke="#1a9a1a" stroke-width="1.5" stroke-dasharray="6 3.2"/>
<line x1="1685.31" y1="508.97" x2="2137.2" y2="197.98" stroke="#8b1a3f" stroke-width="1.5" stroke-dasharray="6 3.2"/>
<line x1="1782.17" y1="508.97" x2="2137.2" y2="272.33" stroke="#1a7088" stroke-width="1.5" stroke-dasharray="6 3.2"/>
<g fill="none" stroke="#ffa500" stroke-opacity="0.58" stroke-width="1.8"><circle cx="1682.54" cy="271.26" r="5.5"/><circle cx="1690.45" cy="264.68" r="5.5"/><circle cx="1698.35" cy="258.1" r="5.5"/><circle cx="1706.26" cy="251.52" r="5.5"/><circle cx="1714.17" cy="247.68" r="5.5"/><circle cx="1722.08" cy="243.85" r="5.5"/><circle cx="1729.98" cy="240.01" r="5.5"/><circle cx="1737.89" cy="236.38" r="5.5"/><circle cx="1745.8" cy="232.75" r="5.5"/><circle cx="1753.7" cy="229.12" r="5.5"/><circle cx="1761.61" cy="225.42" r="5.5"/><circle cx="1769.52" cy="221.67" r="5.5"/><circle cx="1777.43" cy="217.92" r="5.5"/><circle cx="1785.33" cy="212.76" r="5.5"/><circle cx="1793.24" cy="207.13" r="5.5"/><circle cx="1801.15" cy="202.71" r="5.5"/><circle cx="1809.06" cy="198.51" r="5.5"/><circle cx="1816.96" cy="194.11" r="5.5"/><circle cx="1824.87" cy="189.51" r="5.5"/><circle cx="1832.78" cy="184.9" r="5.5"/><circle cx="1840.68" cy="181.07" r="5.5"/><circle cx="1848.59" cy="177.25" r="5.5"/><circle cx="1856.5" cy="173.62" r="5.5"/><circle cx="1864.41" cy="170.02" r="5.5"/><circle cx="1872.31" cy="166.42" r="5.5"/><circle cx="1880.22" cy="161.94" r="5.5"/><circle cx="1888.13" cy="156.97" r="5.5"/><circle cx="1896.03" cy="152.01" r="5.5"/><circle cx="1903.94" cy="147.46" r="5.5"/><circle cx="1911.85" cy="143.31" r="5.5"/><circle cx="1919.76" cy="139.16" r="5.5"/><circle cx="1927.66" cy="135.05" r="5.5"/><circle cx="1935.57" cy="131.1" r="5.5"/><circle cx="1943.48" cy="127.14" r="5.5"/><circle cx="1951.38" cy="123.18" r="5.5"/><circle cx="1959.29" cy="119.27" r="5.5"/><circle cx="1967.2" cy="115.37" r="5.5"/><circle cx="1975.11" cy="111.46" r="5.5"/><circle cx="1983.01" cy="108.33" r="5.5"/><circle cx="1990.92" cy="105.34" r="5.5"/><circle cx="1998.83" cy="102.35" r="5.5"/><circle cx="2006.74" cy="99.36" r="5.5"/></g>
<g fill="none" stroke="#0000ff" stroke-opacity="0.58" stroke-width="1.8"><circle cx="1631.14" cy="379.01" r="5.5"/><circle cx="1639.05" cy="370.37" r="5.5"/><circle cx="1646.96" cy="361.74" r="5.5"/><circle cx="1654.86" cy="356.76" r="5.5"/><circle cx="1662.77" cy="351.79" r="5.5"/><circle cx="1670.68" cy="346.82" r="5.5"/><circle cx="1678.59" cy="341.84" r="5.5"/><circle cx="1686.49" cy="337.29" r="5.5"/><circle cx="1694.4" cy="332.92" r="5.5"/><circle cx="1702.31" cy="328.55" r="5.5"/><circle cx="1710.22" cy="324.41" r="5.5"/><circle cx="1718.12" cy="320.5" r="5.5"/><circle cx="1726.03" cy="316.58" r="5.5"/><circle cx="1733.94" cy="313" r="5.5"/><circle cx="1741.84" cy="310.06" r="5.5"/><circle cx="1749.75" cy="307.11" r="5.5"/><circle cx="1757.66" cy="304.16" r="5.5"/><circle cx="1765.57" cy="301.06" r="5.5"/><circle cx="1773.47" cy="297.96" r="5.5"/><circle cx="1781.38" cy="294.86" r="5.5"/><circle cx="1789.29" cy="290.92" r="5.5"/><circle cx="1797.19" cy="286.93" r="5.5"/><circle cx="1805.1" cy="282.95" r="5.5"/><circle cx="1813.01" cy="277.91" r="5.5"/><circle cx="1820.92" cy="272.51" r="5.5"/><circle cx="1828.82" cy="267.11" r="5.5"/><circle cx="1836.73" cy="262.22" r="5.5"/><circle cx="1844.64" cy="257.73" r="5.5"/><circle cx="1852.54" cy="253.01" r="5.5"/><circle cx="1860.45" cy="247.87" r="5.5"/><circle cx="1868.36" cy="242.73" r="5.5"/><circle cx="1876.27" cy="237.78" r="5.5"/><circle cx="1884.17" cy="233.86" r="5.5"/><circle cx="1892.08" cy="229.94" r="5.5"/><circle cx="1899.99" cy="226.03" r="5.5"/><circle cx="1907.9" cy="221.62" r="5.5"/><circle cx="1915.8" cy="217.22" r="5.5"/><circle cx="1923.71" cy="212.81" r="5.5"/><circle cx="1931.62" cy="207.74" r="5.5"/><circle cx="1939.52" cy="202.45" r="5.5"/><circle cx="1947.43" cy="197.15" r="5.5"/><circle cx="1955.34" cy="192.65" r="5.5"/><circle cx="1963.25" cy="188.79" r="5.5"/><circle cx="1971.15" cy="184.94" r="5.5"/><circle cx="1979.06" cy="180.99" r="5.5"/><circle cx="1986.97" cy="176.88" r="5.5"/><circle cx="1994.87" cy="172.77" r="5.5"/><circle cx="2002.78" cy="168.45" r="5.5"/><circle cx="2010.69" cy="162.97" r="5.5"/><circle cx="2018.6" cy="157.48" r="5.5"/><circle cx="2026.5" cy="152" r="5.5"/></g>
<g fill="none" stroke="#1a9a1a" stroke-opacity="0.58" stroke-width="1.8"><circle cx="1682.54" cy="409.85" r="5.5"/><circle cx="1690.45" cy="406.15" r="5.5"/><circle cx="1698.35" cy="402.45" r="5.5"/><circle cx="1706.26" cy="398.75" r="5.5"/><circle cx="1714.17" cy="394.57" r="5.5"/><circle cx="1722.08" cy="390.39" r="5.5"/><circle cx="1729.98" cy="386.22" r="5.5"/><circle cx="1737.89" cy="382.16" r="5.5"/><circle cx="1745.8" cy="378.12" r="5.5"/><circle cx="1753.7" cy="374.07" r="5.5"/><circle cx="1761.61" cy="370.1" r="5.5"/><circle cx="1769.52" cy="366.12" r="5.5"/><circle cx="1777.43" cy="362.14" r="5.5"/><circle cx="1785.33" cy="358.9" r="5.5"/><circle cx="1793.24" cy="355.74" r="5.5"/><circle cx="1801.15" cy="352.59" r="5.5"/><circle cx="1809.06" cy="349.26" r="5.5"/><circle cx="1816.96" cy="345.4" r="5.5"/><circle cx="1824.87" cy="341.55" r="5.5"/><circle cx="1832.78" cy="337.59" r="5.5"/><circle cx="1840.68" cy="331.6" r="5.5"/><circle cx="1848.59" cy="325.62" r="5.5"/><circle cx="1856.5" cy="319.48" r="5.5"/><circle cx="1864.41" cy="313.31" r="5.5"/><circle cx="1872.31" cy="307.14" r="5.5"/><circle cx="1880.22" cy="302.27" r="5.5"/><circle cx="1888.13" cy="298.09" r="5.5"/><circle cx="1896.03" cy="293.91" r="5.5"/><circle cx="1903.94" cy="288.48" r="5.5"/><circle cx="1911.85" cy="281.8" r="5.5"/><circle cx="1919.76" cy="275.12" r="5.5"/><circle cx="1927.66" cy="268.59" r="5.5"/><circle cx="1935.57" cy="262.53" r="5.5"/><circle cx="1943.48" cy="256.46" r="5.5"/><circle cx="1951.38" cy="250.49" r="5.5"/><circle cx="1959.29" cy="246.38" r="5.5"/><circle cx="1967.2" cy="242.27" r="5.5"/><circle cx="1975.11" cy="238.16" r="5.5"/><circle cx="1983.01" cy="233.39" r="5.5"/><circle cx="1990.92" cy="228.51" r="5.5"/><circle cx="1998.83" cy="223.62" r="5.5"/><circle cx="2006.74" cy="219.37" r="5.5"/><circle cx="2014.64" cy="215.45" r="5.5"/><circle cx="2022.55" cy="211.53" r="5.5"/><circle cx="2030.46" cy="206.79" r="5.5"/><circle cx="2038.36" cy="201.22" r="5.5"/><circle cx="2046.27" cy="195.66" r="5.5"/><circle cx="2054.18" cy="190.32" r="5.5"/><circle cx="2062.09" cy="185.7" r="5.5"/><circle cx="2069.99" cy="181.07" r="5.5"/><circle cx="2077.9" cy="176.48" r="5.5"/><circle cx="2085.81" cy="172.67" r="5.5"/><circle cx="2093.71" cy="168.86" r="5.5"/></g>
<g fill="none" stroke="#8b1a3f" stroke-opacity="0.58" stroke-width="1.8"><circle cx="1779.4" cy="430" r="5.5"/><circle cx="1787.31" cy="427" r="5.5"/><circle cx="1795.22" cy="423.99" r="5.5"/><circle cx="1803.12" cy="420.98" r="5.5"/><circle cx="1811.03" cy="417.97" r="5.5"/><circle cx="1818.94" cy="414.51" r="5.5"/><circle cx="1826.85" cy="411.01" r="5.5"/><circle cx="1834.75" cy="407.5" r="5.5"/><circle cx="1842.66" cy="402.55" r="5.5"/><circle cx="1850.57" cy="397.34" r="5.5"/><circle cx="1858.48" cy="392.13" r="5.5"/><circle cx="1866.38" cy="386.51" r="5.5"/><circle cx="1874.29" cy="380.81" r="5.5"/><circle cx="1882.2" cy="375.23" r="5.5"/><circle cx="1890.1" cy="369.96" r="5.5"/><circle cx="1898.01" cy="364.7" r="5.5"/><circle cx="1905.92" cy="359.6" r="5.5"/><circle cx="1913.83" cy="354.57" r="5.5"/><circle cx="1921.73" cy="349.53" r="5.5"/><circle cx="1929.64" cy="344.49" r="5.5"/><circle cx="1937.55" cy="337.06" r="5.5"/><circle cx="1945.45" cy="328.84" r="5.5"/><circle cx="1953.36" cy="320.61" r="5.5"/><circle cx="1961.27" cy="315.12" r="5.5"/><circle cx="1969.18" cy="310.81" r="5.5"/><circle cx="1977.08" cy="306.5" r="5.5"/><circle cx="1984.99" cy="302.07" r="5.5"/><circle cx="1992.9" cy="297.58" r="5.5"/><circle cx="2000.8" cy="293.1" r="5.5"/><circle cx="2008.71" cy="289.12" r="5.5"/><circle cx="2016.62" cy="285.21" r="5.5"/><circle cx="2024.53" cy="281.29" r="5.5"/><circle cx="2032.43" cy="277.27" r="5.5"/><circle cx="2040.34" cy="273.22" r="5.5"/><circle cx="2048.25" cy="269.17" r="5.5"/><circle cx="2056.16" cy="264.59" r="5.5"/><circle cx="2064.06" cy="259.47" r="5.5"/><circle cx="2071.97" cy="254.32" r="5.5"/><circle cx="2079.88" cy="249.06" r="5.5"/><circle cx="2087.78" cy="243.79" r="5.5"/></g>
<g fill="none" stroke="#1a7088" stroke-opacity="0.58" stroke-width="1.8"><circle cx="1799.57" cy="491.69" r="5.5"/><circle cx="1807.47" cy="488.65" r="5.5"/><circle cx="1815.38" cy="485.61" r="5.5"/><circle cx="1823.29" cy="482.57" r="5.5"/><circle cx="1831.2" cy="479.53" r="5.5"/><circle cx="1839.1" cy="475.4" r="5.5"/><circle cx="1847.01" cy="469.61" r="5.5"/><circle cx="1854.92" cy="463.83" r="5.5"/><circle cx="1862.82" cy="458.04" r="5.5"/><circle cx="1870.73" cy="452.26" r="5.5"/><circle cx="1878.64" cy="446.27" r="5.5"/><circle cx="1886.55" cy="440.25" r="5.5"/><circle cx="1894.45" cy="434.22" r="5.5"/><circle cx="1902.36" cy="428" r="5.5"/><circle cx="1910.27" cy="421.32" r="5.5"/><circle cx="1918.17" cy="414.63" r="5.5"/><circle cx="1926.08" cy="407.95" r="5.5"/><circle cx="1933.99" cy="401.72" r="5.5"/><circle cx="1941.9" cy="396.53" r="5.5"/><circle cx="1949.8" cy="391.35" r="5.5"/><circle cx="1957.71" cy="386.16" r="5.5"/><circle cx="1965.62" cy="380.98" r="5.5"/><circle cx="1973.52" cy="376.25" r="5.5"/><circle cx="1981.43" cy="371.71" r="5.5"/><circle cx="1989.34" cy="367.18" r="5.5"/><circle cx="1997.25" cy="362.64" r="5.5"/><circle cx="2005.15" cy="357.2" r="5.5"/><circle cx="2013.06" cy="351.53" r="5.5"/><circle cx="2020.97" cy="345.87" r="5.5"/><circle cx="2028.88" cy="340.5" r="5.5"/><circle cx="2036.78" cy="337.88" r="5.5"/><circle cx="2044.69" cy="335.26" r="5.5"/><circle cx="2052.6" cy="332.64" r="5.5"/><circle cx="2060.5" cy="330.02" r="5.5"/><circle cx="2068.41" cy="328.35" r="5.5"/><circle cx="2076.32" cy="327.48" r="5.5"/><circle cx="2084.23" cy="326.6" r="5.5"/><circle cx="2092.13" cy="325.72" r="5.5"/></g>
<line x1="1899.99" y1="147.89" x2="1899.99" y2="226.03" stroke="#0000ee" stroke-width="2"/>
<line x1="1899.99" y1="226.03" x2="1899.99" y2="291.82" stroke="#1a9a1a" stroke-width="2"/>
<line x1="1899.99" y1="291.82" x2="1899.99" y2="361.74" stroke="#8b1a3f" stroke-width="2"/>
<line x1="1899.99" y1="361.74" x2="1899.99" y2="430.42" stroke="#1a7088" stroke-width="2"/>
<line x1="1646.96" y1="361.74" x2="1777.43" y2="361.74" stroke="#1a9a1a" stroke-width="2"/>
<line x1="1777.43" y1="361.74" x2="1899.99" y2="361.74" stroke="#8b1a3f" stroke-width="2"/>
<line x1="1899.99" y1="361.74" x2="1998.83" y2="361.74" stroke="#1a7088" stroke-width="2"/>
<circle cx="1899.99" cy="147.31" r="5.6" fill="#1a1a1a" stroke="#ffa500" stroke-width="2" fill-opacity="0.9"/>
<circle cx="1899.99" cy="225.86" r="5.6" fill="#1a1a1a" stroke="#0000ff" stroke-width="2" fill-opacity="0.9"/>
<circle cx="1899.99" cy="291.82" r="5.6" fill="#1a1a1a" stroke="#1a9a1a" stroke-width="2" fill-opacity="0.9"/>
<circle cx="1646.96" cy="361.74" r="5.6" fill="#1a1a1a" stroke="#0000ff" stroke-width="2" fill-opacity="0.9"/>
<circle cx="1777.43" cy="361.74" r="5.6" fill="#1a1a1a" stroke="#1a9a1a" stroke-width="2" fill-opacity="0.9"/>
<circle cx="1899.99" cy="361.74" r="5.6" fill="#1a1a1a" stroke="#8b1a3f" stroke-width="2" fill-opacity="0.9"/>
<circle cx="1998.83" cy="361.74" r="5.6" fill="#1a1a1a" stroke="#1a7088" stroke-width="2" fill-opacity="0.9"/>
<circle cx="1899.99" cy="430.42" r="5.6" fill="#1a1a1a" stroke="#1a7088" stroke-width="2" fill-opacity="0.9"/>
</g>
<text x="1904" y="189" font-size="21" fill="#4a3cf0">λ/2</text>
<text x="1904" y="256" font-size="21" fill="#1a9a1a">λ/2</text>
<text x="1904" y="324" font-size="21" fill="#8b1a3f">λ/2</text>
<text x="1902" y="391" font-size="21" fill="#1a7088">λ/2</text>
<text transform="translate(1727 355) scale(0.930 1)" font-size="21" fill="#1a9a1a"><tspan font-style="italic">T</tspan>/2</text>
<text transform="translate(1850.5 355) scale(0.930 1)" font-size="21" fill="#8b1a3f"><tspan font-style="italic">T</tspan>/2</text>
<text transform="translate(1950 355) scale(0.930 1)" font-size="21" fill="#1a7088"><tspan font-style="italic">T</tspan>/2</text>
<rect x="1583.7" y="66.3" width="553.5" height="442.4" fill="none" stroke="#333" stroke-width="1.4"/>
<line x1="1583.7" y1="497.45" x2="1586.9" y2="497.45" stroke="#333" stroke-width="1.3"/>
<line x1="1583.7" y1="481" x2="1586.9" y2="481" stroke="#333" stroke-width="1.3"/>
<line x1="1583.7" y1="464.55" x2="1586.9" y2="464.55" stroke="#333" stroke-width="1.3"/>
<line x1="1583.7" y1="448.1" x2="1586.9" y2="448.1" stroke="#333" stroke-width="1.3"/>
<line x1="1583.7" y1="431.65" x2="1589.7" y2="431.65" stroke="#333" stroke-width="1.3"/>
<text x="1569.9" y="438.65" font-size="23.5" text-anchor="end">–3</text>
<line x1="1583.7" y1="415.2" x2="1586.9" y2="415.2" stroke="#333" stroke-width="1.3"/>
<line x1="1583.7" y1="398.75" x2="1586.9" y2="398.75" stroke="#333" stroke-width="1.3"/>
<line x1="1583.7" y1="382.3" x2="1586.9" y2="382.3" stroke="#333" stroke-width="1.3"/>
<line x1="1583.7" y1="365.85" x2="1586.9" y2="365.85" stroke="#333" stroke-width="1.3"/>
<line x1="1583.7" y1="349.4" x2="1589.7" y2="349.4" stroke="#333" stroke-width="1.3"/>
<text x="1569.9" y="356.4" font-size="23.5" text-anchor="end">–2</text>
<line x1="1583.7" y1="332.95" x2="1586.9" y2="332.95" stroke="#333" stroke-width="1.3"/>
<line x1="1583.7" y1="316.5" x2="1586.9" y2="316.5" stroke="#333" stroke-width="1.3"/>
<line x1="1583.7" y1="300.05" x2="1586.9" y2="300.05" stroke="#333" stroke-width="1.3"/>
<line x1="1583.7" y1="283.6" x2="1586.9" y2="283.6" stroke="#333" stroke-width="1.3"/>
<line x1="1583.7" y1="267.15" x2="1589.7" y2="267.15" stroke="#333" stroke-width="1.3"/>
<text x="1569.9" y="274.15" font-size="23.5" text-anchor="end">–1</text>
<line x1="1583.7" y1="250.7" x2="1586.9" y2="250.7" stroke="#333" stroke-width="1.3"/>
<line x1="1583.7" y1="234.25" x2="1586.9" y2="234.25" stroke="#333" stroke-width="1.3"/>
<line x1="1583.7" y1="217.8" x2="1586.9" y2="217.8" stroke="#333" stroke-width="1.3"/>
<line x1="1583.7" y1="201.35" x2="1586.9" y2="201.35" stroke="#333" stroke-width="1.3"/>
<line x1="1583.7" y1="184.9" x2="1589.7" y2="184.9" stroke="#333" stroke-width="1.3"/>
<text transform="translate(1569.9 191.9) scale(1.100 1)" font-size="23.5" text-anchor="end">0</text>
<line x1="1583.7" y1="168.45" x2="1586.9" y2="168.45" stroke="#333" stroke-width="1.3"/>
<line x1="1583.7" y1="152" x2="1586.9" y2="152" stroke="#333" stroke-width="1.3"/>
<line x1="1583.7" y1="135.55" x2="1586.9" y2="135.55" stroke="#333" stroke-width="1.3"/>
<line x1="1583.7" y1="119.1" x2="1586.9" y2="119.1" stroke="#333" stroke-width="1.3"/>
<line x1="1583.7" y1="102.65" x2="1589.7" y2="102.65" stroke="#333" stroke-width="1.3"/>
<text x="1569.9" y="109.65" font-size="23.5" text-anchor="end">1</text>
<line x1="1583.7" y1="86.2" x2="1586.9" y2="86.2" stroke="#333" stroke-width="1.3"/>
<line x1="1583.7" y1="69.75" x2="1586.9" y2="69.75" stroke="#333" stroke-width="1.3"/>
<text transform="translate(1583.7 538.7) scale(1.020 1)" font-size="23.5" text-anchor="middle">1,300</text>
<line x1="1603.47" y1="508.7" x2="1603.47" y2="505.7" stroke="#333" stroke-width="1.3"/>
<line x1="1623.24" y1="508.7" x2="1623.24" y2="505.7" stroke="#333" stroke-width="1.3"/>
<line x1="1643" y1="508.7" x2="1643" y2="505.7" stroke="#333" stroke-width="1.3"/>
<line x1="1662.77" y1="508.7" x2="1662.77" y2="503.2" stroke="#333" stroke-width="1.3"/>
<text transform="translate(1662.77 538.7) scale(1.020 1)" font-size="23.5" text-anchor="middle">1,320</text>
<line x1="1682.54" y1="508.7" x2="1682.54" y2="505.7" stroke="#333" stroke-width="1.3"/>
<line x1="1702.31" y1="508.7" x2="1702.31" y2="505.7" stroke="#333" stroke-width="1.3"/>
<line x1="1722.08" y1="508.7" x2="1722.08" y2="505.7" stroke="#333" stroke-width="1.3"/>
<line x1="1741.84" y1="508.7" x2="1741.84" y2="503.2" stroke="#333" stroke-width="1.3"/>
<text transform="translate(1741.84 538.7) scale(1.020 1)" font-size="23.5" text-anchor="middle">1,340</text>
<line x1="1761.61" y1="508.7" x2="1761.61" y2="505.7" stroke="#333" stroke-width="1.3"/>
<line x1="1781.38" y1="508.7" x2="1781.38" y2="505.7" stroke="#333" stroke-width="1.3"/>
<line x1="1801.15" y1="508.7" x2="1801.15" y2="505.7" stroke="#333" stroke-width="1.3"/>
<line x1="1820.92" y1="508.7" x2="1820.92" y2="503.2" stroke="#333" stroke-width="1.3"/>
<text transform="translate(1820.92 538.7) scale(1.020 1)" font-size="23.5" text-anchor="middle">1,360</text>
<line x1="1840.68" y1="508.7" x2="1840.68" y2="505.7" stroke="#333" stroke-width="1.3"/>
<line x1="1860.45" y1="508.7" x2="1860.45" y2="505.7" stroke="#333" stroke-width="1.3"/>
<line x1="1880.22" y1="508.7" x2="1880.22" y2="505.7" stroke="#333" stroke-width="1.3"/>
<line x1="1899.99" y1="508.7" x2="1899.99" y2="503.2" stroke="#333" stroke-width="1.3"/>
<text transform="translate(1899.99 538.7) scale(1.020 1)" font-size="23.5" text-anchor="middle">1,380</text>
<line x1="1919.76" y1="508.7" x2="1919.76" y2="505.7" stroke="#333" stroke-width="1.3"/>
<line x1="1939.52" y1="508.7" x2="1939.52" y2="505.7" stroke="#333" stroke-width="1.3"/>
<line x1="1959.29" y1="508.7" x2="1959.29" y2="505.7" stroke="#333" stroke-width="1.3"/>
<line x1="1979.06" y1="508.7" x2="1979.06" y2="503.2" stroke="#333" stroke-width="1.3"/>
<text transform="translate(1979.06 538.7) scale(1.020 1)" font-size="23.5" text-anchor="middle">1,400</text>
<line x1="1998.83" y1="508.7" x2="1998.83" y2="505.7" stroke="#333" stroke-width="1.3"/>
<line x1="2018.6" y1="508.7" x2="2018.6" y2="505.7" stroke="#333" stroke-width="1.3"/>
<line x1="2038.36" y1="508.7" x2="2038.36" y2="505.7" stroke="#333" stroke-width="1.3"/>
<line x1="2058.13" y1="508.7" x2="2058.13" y2="503.2" stroke="#333" stroke-width="1.3"/>
<text transform="translate(2058.13 538.7) scale(1.020 1)" font-size="23.5" text-anchor="middle">1,420</text>
<line x1="2077.9" y1="508.7" x2="2077.9" y2="505.7" stroke="#333" stroke-width="1.3"/>
<line x1="2097.67" y1="508.7" x2="2097.67" y2="505.7" stroke="#333" stroke-width="1.3"/>
<line x1="2117.44" y1="508.7" x2="2117.44" y2="505.7" stroke="#333" stroke-width="1.3"/>
<text transform="translate(2137.2 538.7) scale(1.020 1)" font-size="23.5" text-anchor="middle">1,440</text>
<text transform="translate(1860.5 578.8) scale(1.030 1)" font-size="27" text-anchor="middle">Time (s)</text>
<text transform="translate(1517 287.1) rotate(-90) scale(0.930 1)" font-size="26.5" text-anchor="middle"><tspan font-style="italic">Y</tspan> (R<tspan font-size="0.7em" dy="0.45em">E</tspan><tspan dy="-0.315em">)</tspan></text>
<text x="1448" y="624" font-size="39" font-weight="bold" stroke="#000" stroke-width="1.1">k</text>
<path d="M1608.61 1021.09 1616.7 1016.03 1624.78 1010.94 1632.87 1005.8 1640.96 1000.62 1649.04 995.39 1657.13 990.12 1665.21 984.81 1673.3 979.45 1681.39 974.05 1689.47 968.61 1697.56 963.12 1705.65 957.59 1713.73 952.02 1721.82 946.4 1729.9 940.74 1737.99 935.04 1746.08 929.29 1754.16 923.5 1762.25 917.67 1770.34 911.79 1778.42 905.87 1786.51 899.91 1794.59 893.9 1802.68 887.85 1810.77 881.76 1818.85 875.62 1826.94 869.44 1835.03 863.21 1843.11 856.94 1851.2 850.63 1859.28 844.28 1867.37 837.88 1875.46 831.44 1883.54 824.95 1891.63 818.42 1899.72 811.85 1907.8 805.24 1915.89 798.58 1923.97 791.88 1932.06 785.13 1940.15 778.34 1948.23 771.51 1956.32 764.63 1964.41 757.71 1972.49 750.75 1980.58 743.75 1988.66 736.7 1996.75 729.6 2004.84 722.47 2012.92 715.29 2021.01 708.06 2029.1 700.8 2037.18 693.49 2045.27 686.13 2053.35 678.74 2061.44 671.3 2069.53 663.81 2077.61 656.29 2085.7 648.72" fill="none" stroke="#ff0000" stroke-width="3.0"/>
<path d="M1608.61 1026.66 1616.7 1018.13 1624.78 1009.88 1632.87 1001.9 1640.96 994.19 1649.04 986.76 1657.13 979.6 1665.21 972.71 1673.3 966.1 1681.39 959.76 1689.47 953.69 1697.56 947.9 1705.65 942.38 1713.73 937.14 1721.82 932.16 1729.9 927.46 1737.99 923.04 1746.08 918.89 1754.16 915.01 1762.25 911.4 1770.34 908.07 1778.42 905.01 1786.51 902.23 1794.59 899.71 1802.68 897.47 1810.77 895.51 1818.85 893.82 1826.94 892.4 1835.03 891.25 1843.11 890.38 1851.2 889.78 1859.28 889.46 1867.37 889.41 1875.46 889.63 1883.54 890.12 1891.63 890.89 1899.72 891.93 1907.8 893.25 1915.89 894.84 1923.97 896.7 1932.06 898.83 1940.15 901.24 1948.23 903.92 1956.32 906.88 1964.41 910.11 1972.49 913.61 1980.58 917.38 1988.66 921.43 1996.75 925.76 2004.84 930.35 2012.92 935.22 2021.01 940.36 2029.1 945.78 2037.18 951.47 2045.27 957.43 2053.35 963.67 2061.44 970.17 2069.53 976.96 2077.61 984.01 2085.7 991.34" fill="none" stroke="#000" stroke-width="3.4"/>
<path d="M1608.61 1030.96 1616.7 1026.22 1624.78 1021.42 1632.87 1016.58 1640.96 1011.68 1649.04 1006.73 1657.13 1001.74 1665.21 996.69 1673.3 991.59 1681.39 986.44 1689.47 981.24 1697.56 975.99 1705.65 970.69 1713.73 965.34 1721.82 959.93 1729.9 954.48 1737.99 948.98 1746.08 943.42 1754.16 937.82 1762.25 932.16 1770.34 926.46 1778.42 920.7 1786.51 914.9 1794.59 909.04 1802.68 903.13 1810.77 897.17 1818.85 891.16 1826.94 885.1 1835.03 878.99 1843.11 872.83 1851.2 866.62 1859.28 860.36 1867.37 854.04 1875.46 847.68 1883.54 841.27 1891.63 834.8 1899.72 828.29 1907.8 821.72 1915.89 815.11 1923.97 808.44 1932.06 801.72 1940.15 794.95 1948.23 788.13 1956.32 781.27 1964.41 774.35 1972.49 767.38 1980.58 760.35 1988.66 753.28 1996.75 746.16 2004.84 738.99 2012.92 731.77 2021.01 724.49 2029.1 717.17 2037.18 709.79 2045.27 702.37 2053.35 694.89 2061.44 687.36 2069.53 679.79 2077.61 672.16 2085.7 664.48" fill="none" stroke="#ff0000" stroke-width="3.4" stroke-dasharray="11 4.5"/>
<path d="M1608.61 1036.75 1616.7 1028.09 1624.78 1019.72 1632.87 1011.64 1640.96 1003.85 1649.04 996.34 1657.13 989.12 1665.21 982.19 1673.3 975.54 1681.39 969.19 1689.47 963.12 1697.56 957.33 1705.65 951.84 1713.73 946.63 1721.82 941.71 1729.9 937.07 1737.99 932.73 1746.08 928.67 1754.16 924.9 1762.25 921.41 1770.34 918.22 1778.42 915.31 1786.51 912.68 1794.59 910.35 1802.68 908.3 1810.77 906.54 1818.85 905.07 1826.94 903.88 1835.03 902.98 1843.11 902.37 1851.2 902.05 1859.28 902.01 1867.37 902.26 1875.46 902.8 1883.54 903.62 1891.63 904.73 1899.72 906.13 1907.8 907.82 1915.89 909.79 1923.97 912.06 1932.06 914.61 1940.15 917.44 1948.23 920.56 1956.32 923.98 1964.41 927.67 1972.49 931.66 1980.58 935.93 1988.66 940.49 1996.75 945.34 2004.84 950.47 2012.92 955.89 2021.01 961.6 2029.1 967.6 2037.18 973.88 2045.27 980.45 2053.35 987.31 2061.44 994.46 2069.53 1001.89 2077.61 1009.61 2085.7 1017.62" fill="none" stroke="#000" stroke-width="3.4" stroke-dasharray="13 5"/>
<path d="M1608.61 1028.65 1616.7 1023.22 1624.78 1017.77 1632.87 1012.32 1640.96 1006.85 1649.04 1001.37 1657.13 995.88 1665.21 990.37 1673.3 984.86 1681.39 979.33 1689.47 973.8 1697.56 968.25 1705.65 962.69 1713.73 957.12 1721.82 951.54 1729.9 945.95 1737.99 940.34 1746.08 934.73 1754.16 929.1 1762.25 923.46 1770.34 917.81 1778.42 912.15 1786.51 906.48 1794.59 900.8 1802.68 895.1 1810.77 889.4 1818.85 883.68 1826.94 877.95 1835.03 872.21 1843.11 866.46 1851.2 860.7 1859.28 854.92 1867.37 849.14 1875.46 843.34 1883.54 837.53 1891.63 831.71 1899.72 825.88 1907.8 820.04 1915.89 814.19 1923.97 808.32 1932.06 802.45 1940.15 796.56 1948.23 790.66 1956.32 784.75 1964.41 778.83 1972.49 772.9 1980.58 766.95 1988.66 761 1996.75 755.03 2004.84 749.05 2012.92 743.06 2021.01 737.06 2029.1 731.05 2037.18 725.03 2045.27 719 2053.35 712.95 2061.44 706.89 2069.53 700.82 2077.61 694.74 2085.7 688.65" fill="none" stroke="#ff0000" stroke-width="3.4" stroke-dasharray="3.6 4.4"/>
<path d="M1608.61 1038.64 1616.7 1032.75 1624.78 1027.07 1632.87 1021.58 1640.96 1016.3 1649.04 1011.22 1657.13 1006.33 1665.21 1001.65 1673.3 997.17 1681.39 992.89 1689.47 988.81 1697.56 984.93 1705.65 981.25 1713.73 977.77 1721.82 974.49 1729.9 971.41 1737.99 968.53 1746.08 965.86 1754.16 963.38 1762.25 961.1 1770.34 959.03 1778.42 957.15 1786.51 955.47 1794.59 954 1802.68 952.73 1810.77 951.65 1818.85 950.78 1826.94 950.11 1835.03 949.63 1843.11 949.36 1851.2 949.29 1859.28 949.42 1867.37 949.75 1875.46 950.28 1883.54 951.01 1891.63 951.94 1899.72 953.07 1907.8 954.41 1915.89 955.94 1923.97 957.67 1932.06 959.61 1940.15 961.74 1948.23 964.07 1956.32 966.61 1964.41 969.34 1972.49 972.28 1980.58 975.42 1988.66 978.75 1996.75 982.29 2004.84 986.03 2012.92 989.97 2021.01 994.11 2029.1 998.44 2037.18 1002.98 2045.27 1007.72 2053.35 1012.67 2061.44 1017.81 2069.53 1023.15 2077.61 1028.69 2085.7 1034.43" fill="none" stroke="#000" stroke-width="3.4" stroke-dasharray="3.6 4.4"/>
<line x1="1933.4" y1="781.4" x2="2084.6" y2="781.4" stroke="#1a7088" stroke-width="2.4"/>
<line x1="2008.7" y1="726.5" x2="2008.7" y2="835.8" stroke="#1a7088" stroke-width="2.4"/>
<line x1="2000.1" y1="790" x2="2088" y2="790" stroke="#7b1a3c" stroke-width="2.4"/>
<line x1="2044" y1="735" x2="2044" y2="844.4" stroke="#7b1a3c" stroke-width="2.4"/>
<line x1="2025" y1="771.7" x2="2131.7" y2="771.7" stroke="#1a9a0a" stroke-width="2.4"/>
<line x1="2078" y1="729.9" x2="2078" y2="814.9" stroke="#1a9a0a" stroke-width="2.4"/>
<line x1="2000" y1="824" x2="2042.7" y2="824" stroke="#1a1aff" stroke-width="2.4"/>
<circle cx="2008.7" cy="781.4" r="5.2" fill="#fff" stroke="#1a7088" stroke-width="2"/>
<circle cx="2044" cy="790" r="5.2" fill="#fff" stroke="#7b1a3c" stroke-width="2"/>
<circle cx="2078" cy="771.7" r="5.2" fill="#fff" stroke="#1a9a0a" stroke-width="2"/>
<circle cx="2021.3" cy="824" r="5.2" fill="#fff" stroke="#1a1aff" stroke-width="2"/>
<text x="1978.6" y="867.2" font-size="22" fill="#1a7088">94</text>
<text x="2017.9" y="863.3" font-size="22" fill="#3a3aff">47</text>
<text x="2044" y="875" font-size="22" fill="#7b1a3c">97</text>
<text x="2073.6" y="846.3" font-size="22" fill="#1a9a0a">88</text>
<line x1="1601" y1="635.7" x2="1625.5" y2="635.7" stroke="#ff0000" stroke-width="3.6"/>
<text transform="translate(1636.5 641.3) scale(1.066 1)" font-size="16"><tspan font-style="italic">t</tspan> = 1,360: Real frequency</text>
<line x1="1601" y1="664.12" x2="1625.5" y2="664.12" stroke="#000" stroke-width="3.6"/>
<text transform="translate(1636.5 669.72) scale(1.066 1)" font-size="16"><tspan font-style="italic">t</tspan> = 1,360: Growth rate</text>
<line x1="1601" y1="692.54" x2="1620" y2="692.54" stroke="#ff0000" stroke-width="3.6"/>
<line x1="1622.2" y1="692.54" x2="1625.5" y2="692.54" stroke="#ff0000" stroke-width="3.6"/>
<text transform="translate(1636.5 698.14) scale(1.066 1)" font-size="16"><tspan font-style="italic">t</tspan> = 1,380: Real frequency</text>
<line x1="1601" y1="720.96" x2="1620" y2="720.96" stroke="#000" stroke-width="3.6"/>
<line x1="1622.2" y1="720.96" x2="1625.5" y2="720.96" stroke="#000" stroke-width="3.6"/>
<text transform="translate(1636.5 726.56) scale(1.066 1)" font-size="16"><tspan font-style="italic">t</tspan> = 1,380: Growth rate</text>
<line x1="1601" y1="749.38" x2="1626" y2="749.38" stroke="#ff0000" stroke-width="3.6" stroke-dasharray="4.4 5.3"/>
<text transform="translate(1636.5 754.98) scale(1.066 1)" font-size="16"><tspan font-style="italic">t</tspan> = 1,400: Real frequency</text>
<line x1="1601" y1="777.8" x2="1626" y2="777.8" stroke="#000" stroke-width="3.6" stroke-dasharray="4.4 5.3"/>
<text transform="translate(1636.5 783.4) scale(1.066 1)" font-size="16"><tspan font-style="italic">t</tspan> = 1,400: Growth rate</text>
<line x1="1636" y1="842.8" x2="1710.6" y2="842.8" stroke="#111" stroke-width="1.4"/>
<line x1="1673.1" y1="814" x2="1673.1" y2="872.2" stroke="#111" stroke-width="1.4"/>
<circle cx="1673.1" cy="842.8" r="2.5" fill="#fff" stroke="#111" stroke-width="1.1"/>
<text transform="translate(1678.8 819.4) scale(1.040 1)" font-size="15.5">SEM (<tspan font-style="italic">f</tspan>)</text>
<text transform="translate(1595.5 835.4) scale(1.040 1)" font-size="15.5">SEM (<tspan font-style="italic">k</tspan>)</text>
<text x="1678.8" y="857.8" font-size="15">(mean(k), mean(f))</text>
<text transform="translate(1633.8 890.2) scale(1.100 1)" font-size="15.5">Samples</text>
<rect x="1583.5" y="610.8" width="553.1" height="442.4" fill="none" stroke="#333" stroke-width="1.4"/>
<text x="1583.5" y="1084" font-size="23" text-anchor="middle">0</text>
<line x1="1596.06" y1="1053.2" x2="1596.06" y2="1050.4" stroke="#333" stroke-width="1.3"/>
<line x1="1608.61" y1="1053.2" x2="1608.61" y2="1050.4" stroke="#333" stroke-width="1.3"/>
<line x1="1621.16" y1="1053.2" x2="1621.16" y2="1050.4" stroke="#333" stroke-width="1.3"/>
<line x1="1633.72" y1="1053.2" x2="1633.72" y2="1050.4" stroke="#333" stroke-width="1.3"/>
<line x1="1646.28" y1="1053.2" x2="1646.28" y2="1048" stroke="#333" stroke-width="1.3"/>
<text x="1646.28" y="1084" font-size="23" text-anchor="middle">0.5</text>
<line x1="1658.83" y1="1053.2" x2="1658.83" y2="1050.4" stroke="#333" stroke-width="1.3"/>
<line x1="1671.38" y1="1053.2" x2="1671.38" y2="1050.4" stroke="#333" stroke-width="1.3"/>
<line x1="1683.94" y1="1053.2" x2="1683.94" y2="1050.4" stroke="#333" stroke-width="1.3"/>
<line x1="1696.49" y1="1053.2" x2="1696.49" y2="1050.4" stroke="#333" stroke-width="1.3"/>
<line x1="1709.05" y1="1053.2" x2="1709.05" y2="1048" stroke="#333" stroke-width="1.3"/>
<text x="1709.05" y="1084" font-size="23" text-anchor="middle">1.0</text>
<line x1="1721.61" y1="1053.2" x2="1721.61" y2="1050.4" stroke="#333" stroke-width="1.3"/>
<line x1="1734.16" y1="1053.2" x2="1734.16" y2="1050.4" stroke="#333" stroke-width="1.3"/>
<line x1="1746.71" y1="1053.2" x2="1746.71" y2="1050.4" stroke="#333" stroke-width="1.3"/>
<line x1="1759.27" y1="1053.2" x2="1759.27" y2="1050.4" stroke="#333" stroke-width="1.3"/>
<line x1="1771.83" y1="1053.2" x2="1771.83" y2="1048" stroke="#333" stroke-width="1.3"/>
<text x="1771.83" y="1084" font-size="23" text-anchor="middle">1.5</text>
<line x1="1784.38" y1="1053.2" x2="1784.38" y2="1050.4" stroke="#333" stroke-width="1.3"/>
<line x1="1796.93" y1="1053.2" x2="1796.93" y2="1050.4" stroke="#333" stroke-width="1.3"/>
<line x1="1809.49" y1="1053.2" x2="1809.49" y2="1050.4" stroke="#333" stroke-width="1.3"/>
<line x1="1822.05" y1="1053.2" x2="1822.05" y2="1050.4" stroke="#333" stroke-width="1.3"/>
<line x1="1834.6" y1="1053.2" x2="1834.6" y2="1048" stroke="#333" stroke-width="1.3"/>
<text x="1834.6" y="1084" font-size="23" text-anchor="middle">2.0</text>
<line x1="1847.15" y1="1053.2" x2="1847.15" y2="1050.4" stroke="#333" stroke-width="1.3"/>
<line x1="1859.71" y1="1053.2" x2="1859.71" y2="1050.4" stroke="#333" stroke-width="1.3"/>
<line x1="1872.27" y1="1053.2" x2="1872.27" y2="1050.4" stroke="#333" stroke-width="1.3"/>
<line x1="1884.82" y1="1053.2" x2="1884.82" y2="1050.4" stroke="#333" stroke-width="1.3"/>
<line x1="1897.38" y1="1053.2" x2="1897.38" y2="1048" stroke="#333" stroke-width="1.3"/>
<text x="1897.38" y="1084" font-size="23" text-anchor="middle">2.5</text>
<line x1="1909.93" y1="1053.2" x2="1909.93" y2="1050.4" stroke="#333" stroke-width="1.3"/>
<line x1="1922.49" y1="1053.2" x2="1922.49" y2="1050.4" stroke="#333" stroke-width="1.3"/>
<line x1="1935.04" y1="1053.2" x2="1935.04" y2="1050.4" stroke="#333" stroke-width="1.3"/>
<line x1="1947.6" y1="1053.2" x2="1947.6" y2="1050.4" stroke="#333" stroke-width="1.3"/>
<line x1="1960.15" y1="1053.2" x2="1960.15" y2="1048" stroke="#333" stroke-width="1.3"/>
<text x="1960.15" y="1084" font-size="23" text-anchor="middle">3.0</text>
<line x1="1972.7" y1="1053.2" x2="1972.7" y2="1050.4" stroke="#333" stroke-width="1.3"/>
<line x1="1985.26" y1="1053.2" x2="1985.26" y2="1050.4" stroke="#333" stroke-width="1.3"/>
<line x1="1997.82" y1="1053.2" x2="1997.82" y2="1050.4" stroke="#333" stroke-width="1.3"/>
<line x1="2010.37" y1="1053.2" x2="2010.37" y2="1050.4" stroke="#333" stroke-width="1.3"/>
<line x1="2022.92" y1="1053.2" x2="2022.92" y2="1048" stroke="#333" stroke-width="1.3"/>
<text x="2022.92" y="1084" font-size="23" text-anchor="middle">3.5</text>
<line x1="2035.48" y1="1053.2" x2="2035.48" y2="1050.4" stroke="#333" stroke-width="1.3"/>
<line x1="2048.03" y1="1053.2" x2="2048.03" y2="1050.4" stroke="#333" stroke-width="1.3"/>
<line x1="2060.59" y1="1053.2" x2="2060.59" y2="1050.4" stroke="#333" stroke-width="1.3"/>
<line x1="2073.14" y1="1053.2" x2="2073.14" y2="1050.4" stroke="#333" stroke-width="1.3"/>
<line x1="2085.7" y1="1053.2" x2="2085.7" y2="1048" stroke="#333" stroke-width="1.3"/>
<text x="2085.7" y="1084" font-size="23" text-anchor="middle">4.0</text>
<line x1="2098.26" y1="1053.2" x2="2098.26" y2="1050.4" stroke="#333" stroke-width="1.3"/>
<line x1="2110.81" y1="1053.2" x2="2110.81" y2="1050.4" stroke="#333" stroke-width="1.3"/>
<line x1="2123.36" y1="1053.2" x2="2123.36" y2="1050.4" stroke="#333" stroke-width="1.3"/>
<text transform="translate(1569.9 1061.3) scale(1.100 1)" font-size="23.5" text-anchor="end">0</text>
<line x1="1583.5" y1="1041.79" x2="1586.5" y2="1041.79" stroke="#333" stroke-width="1.3"/>
<line x1="1583.5" y1="1031.28" x2="1586.5" y2="1031.28" stroke="#333" stroke-width="1.3"/>
<line x1="1583.5" y1="1020.77" x2="1586.5" y2="1020.77" stroke="#333" stroke-width="1.3"/>
<line x1="1583.5" y1="1010.26" x2="1586.5" y2="1010.26" stroke="#333" stroke-width="1.3"/>
<line x1="1583.5" y1="999.75" x2="1589.5" y2="999.75" stroke="#333" stroke-width="1.3"/>
<text transform="translate(1569.9 1008.75) scale(1.100 1)" font-size="23.5" text-anchor="end">0.005</text>
<line x1="1583.5" y1="989.24" x2="1586.5" y2="989.24" stroke="#333" stroke-width="1.3"/>
<line x1="1583.5" y1="978.73" x2="1586.5" y2="978.73" stroke="#333" stroke-width="1.3"/>
<line x1="1583.5" y1="968.22" x2="1586.5" y2="968.22" stroke="#333" stroke-width="1.3"/>
<line x1="1583.5" y1="957.71" x2="1586.5" y2="957.71" stroke="#333" stroke-width="1.3"/>
<line x1="1583.5" y1="947.2" x2="1589.5" y2="947.2" stroke="#333" stroke-width="1.3"/>
<text transform="translate(1569.9 956.2) scale(1.100 1)" font-size="23.5" text-anchor="end">0.010</text>
<line x1="1583.5" y1="936.69" x2="1586.5" y2="936.69" stroke="#333" stroke-width="1.3"/>
<line x1="1583.5" y1="926.18" x2="1586.5" y2="926.18" stroke="#333" stroke-width="1.3"/>
<line x1="1583.5" y1="915.67" x2="1586.5" y2="915.67" stroke="#333" stroke-width="1.3"/>
<line x1="1583.5" y1="905.16" x2="1586.5" y2="905.16" stroke="#333" stroke-width="1.3"/>
<line x1="1583.5" y1="894.65" x2="1589.5" y2="894.65" stroke="#333" stroke-width="1.3"/>
<text transform="translate(1569.9 903.65) scale(1.100 1)" font-size="23.5" text-anchor="end">0.015</text>
<line x1="1583.5" y1="884.14" x2="1586.5" y2="884.14" stroke="#333" stroke-width="1.3"/>
<line x1="1583.5" y1="873.63" x2="1586.5" y2="873.63" stroke="#333" stroke-width="1.3"/>
<line x1="1583.5" y1="863.12" x2="1586.5" y2="863.12" stroke="#333" stroke-width="1.3"/>
<line x1="1583.5" y1="852.61" x2="1586.5" y2="852.61" stroke="#333" stroke-width="1.3"/>
<line x1="1583.5" y1="842.1" x2="1589.5" y2="842.1" stroke="#333" stroke-width="1.3"/>
<text transform="translate(1569.9 851.1) scale(1.100 1)" font-size="23.5" text-anchor="end">0.025</text>
<line x1="1583.5" y1="831.59" x2="1586.5" y2="831.59" stroke="#333" stroke-width="1.3"/>
<line x1="1583.5" y1="821.08" x2="1586.5" y2="821.08" stroke="#333" stroke-width="1.3"/>
<line x1="1583.5" y1="810.57" x2="1586.5" y2="810.57" stroke="#333" stroke-width="1.3"/>
<line x1="1583.5" y1="800.06" x2="1586.5" y2="800.06" stroke="#333" stroke-width="1.3"/>
<line x1="1583.5" y1="789.55" x2="1589.5" y2="789.55" stroke="#333" stroke-width="1.3"/>
<text transform="translate(1569.9 798.55) scale(1.100 1)" font-size="23.5" text-anchor="end">0.025</text>
<line x1="1583.5" y1="779.04" x2="1586.5" y2="779.04" stroke="#333" stroke-width="1.3"/>
<line x1="1583.5" y1="768.53" x2="1586.5" y2="768.53" stroke="#333" stroke-width="1.3"/>
<line x1="1583.5" y1="758.02" x2="1586.5" y2="758.02" stroke="#333" stroke-width="1.3"/>
<line x1="1583.5" y1="747.51" x2="1586.5" y2="747.51" stroke="#333" stroke-width="1.3"/>
<line x1="1583.5" y1="737" x2="1589.5" y2="737" stroke="#333" stroke-width="1.3"/>
<text transform="translate(1569.9 746) scale(1.100 1)" font-size="23.5" text-anchor="end">0.030</text>
<line x1="1583.5" y1="726.49" x2="1586.5" y2="726.49" stroke="#333" stroke-width="1.3"/>
<line x1="1583.5" y1="715.98" x2="1586.5" y2="715.98" stroke="#333" stroke-width="1.3"/>
<line x1="1583.5" y1="705.47" x2="1586.5" y2="705.47" stroke="#333" stroke-width="1.3"/>
<line x1="1583.5" y1="694.96" x2="1586.5" y2="694.96" stroke="#333" stroke-width="1.3"/>
<line x1="1583.5" y1="684.45" x2="1589.5" y2="684.45" stroke="#333" stroke-width="1.3"/>
<text transform="translate(1569.9 693.45) scale(1.100 1)" font-size="23.5" text-anchor="end">0.035</text>
<line x1="1583.5" y1="673.94" x2="1586.5" y2="673.94" stroke="#333" stroke-width="1.3"/>
<line x1="1583.5" y1="663.43" x2="1586.5" y2="663.43" stroke="#333" stroke-width="1.3"/>
<line x1="1583.5" y1="652.92" x2="1586.5" y2="652.92" stroke="#333" stroke-width="1.3"/>
<line x1="1583.5" y1="642.41" x2="1586.5" y2="642.41" stroke="#333" stroke-width="1.3"/>
<line x1="1583.5" y1="631.9" x2="1589.5" y2="631.9" stroke="#333" stroke-width="1.3"/>
<text transform="translate(1569.9 640.9) scale(1.100 1)" font-size="23.5" text-anchor="end">0.040</text>
<line x1="1583.5" y1="621.39" x2="1586.5" y2="621.39" stroke="#333" stroke-width="1.3"/>
<text transform="translate(1861.8 1131) scale(1.035 1)" font-size="26.5" text-anchor="middle">Wave vector: <tspan font-style="italic">k</tspan> R<tspan font-size="0.7em" dy="0.45em">E</tspan></text>
<text transform="translate(1480 832.7) rotate(-90) scale(1.055 1)" font-size="26.5" text-anchor="middle">Frequency (Hz)</text></svg></body></html>
